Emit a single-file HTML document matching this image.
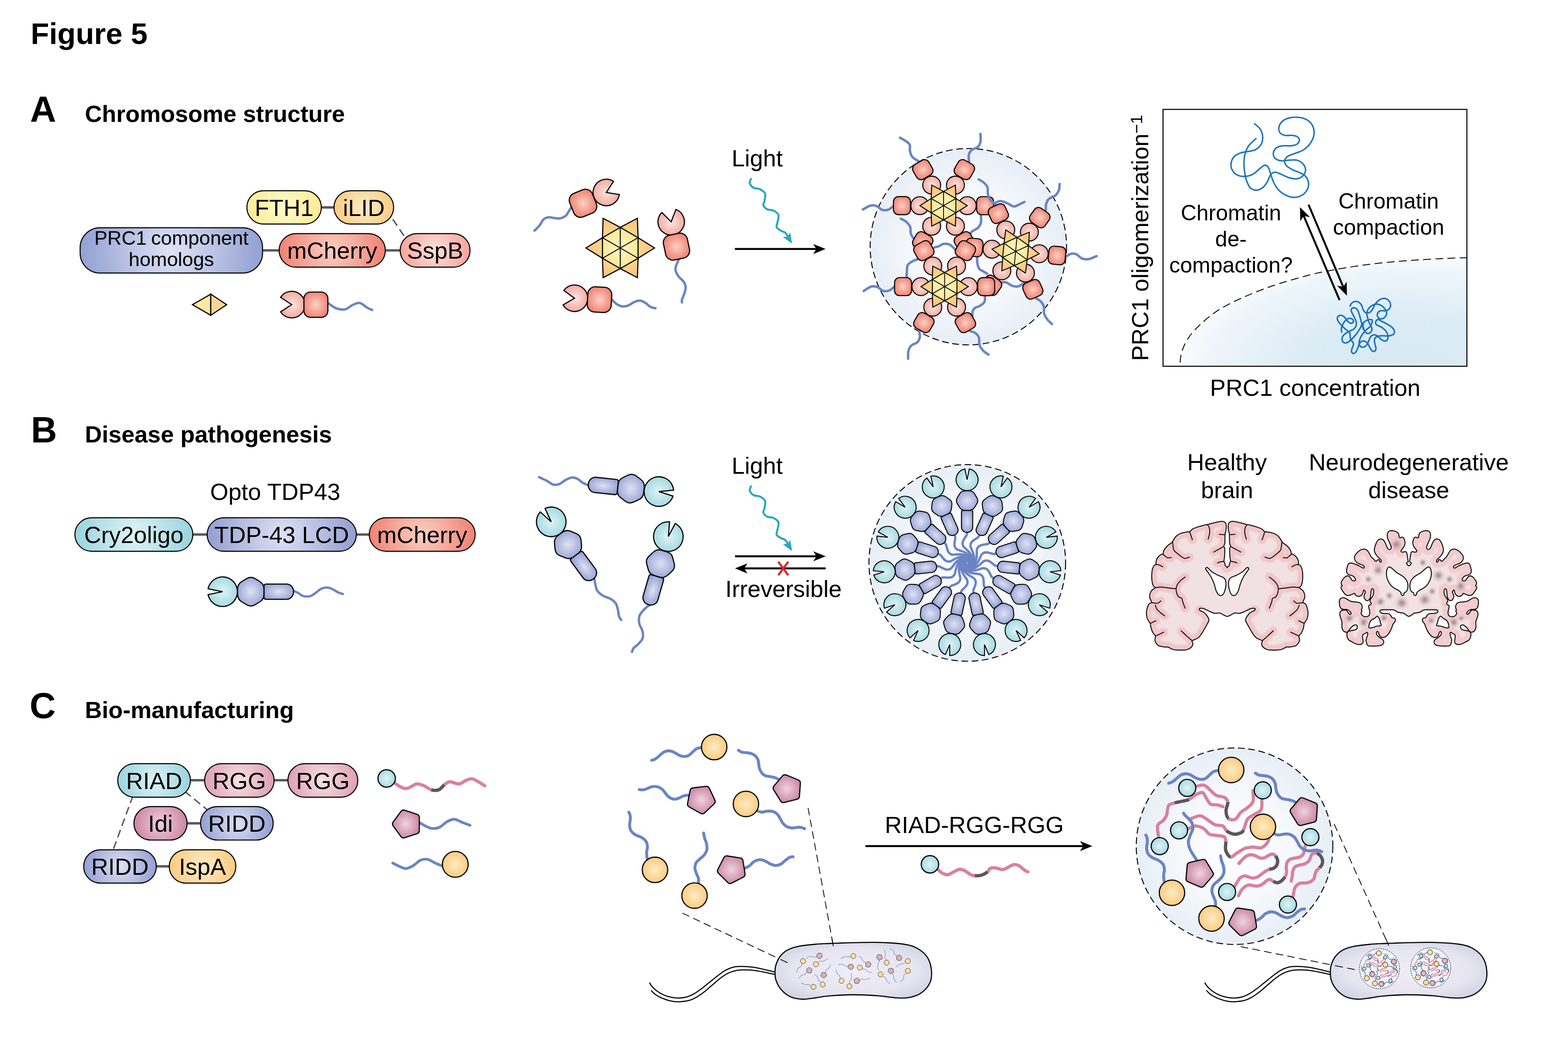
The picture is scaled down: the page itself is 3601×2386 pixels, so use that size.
<!DOCTYPE html>
<html lang="en"><head><meta charset="utf-8"><title>Figure 5</title>
<style>html,body{margin:0;padding:0;background:#fff;}body{width:3601px;height:2386px;}svg{display:block;}text{font-family:'Liberation Sans', Arial, Helvetica, sans-serif;fill:#000;}</style>
</head><body>
<svg width="3601" height="2386" viewBox="0 0 3601 2386" role="img" aria-label="Figure 5">
<defs><radialGradient id="gYel" cx="0.5" cy="0.5" r="0.62"><stop offset="0" stop-color="#fff8c4"/><stop offset="1" stop-color="#fde88f"/></radialGradient><radialGradient id="gOra" cx="0.5" cy="0.5" r="0.62"><stop offset="0" stop-color="#fdecc6"/><stop offset="1" stop-color="#f9c777"/></radialGradient><radialGradient id="gBlu" cx="0.5" cy="0.5" r="0.62"><stop offset="0" stop-color="#dde1f3"/><stop offset="1" stop-color="#8c9bd0"/></radialGradient><radialGradient id="gRed" cx="0.5" cy="0.5" r="0.62"><stop offset="0" stop-color="#fbcabd"/><stop offset="1" stop-color="#ee7a6b"/></radialGradient><radialGradient id="gPnk" cx="0.5" cy="0.5" r="0.62"><stop offset="0" stop-color="#fde0da"/><stop offset="1" stop-color="#f29f95"/></radialGradient><radialGradient id="gTea" cx="0.5" cy="0.5" r="0.62"><stop offset="0" stop-color="#def2f5"/><stop offset="1" stop-color="#94d2db"/></radialGradient><radialGradient id="gPer" cx="0.5" cy="0.5" r="0.62"><stop offset="0" stop-color="#dcdff3"/><stop offset="1" stop-color="#8e9ace"/></radialGradient><radialGradient id="gRgg" cx="0.5" cy="0.5" r="0.62"><stop offset="0" stop-color="#f6e0e6"/><stop offset="1" stop-color="#db9ab0"/></radialGradient><radialGradient id="gIdi" cx="0.5" cy="0.5" r="0.62"><stop offset="0" stop-color="#eecbd8"/><stop offset="1" stop-color="#c7809d"/></radialGradient><radialGradient id="gCon" cx="0.5" cy="0.5" r="0.5"><stop offset="0" stop-color="#ffffff"/><stop offset="0.55" stop-color="#f6f9fc"/><stop offset="1" stop-color="#e7eef6"/></radialGradient><radialGradient id="gBac" cx="0.5" cy="0.5" r="0.62"><stop offset="0" stop-color="#efeef6"/><stop offset="0.62" stop-color="#e7e6f0"/><stop offset="1" stop-color="#d0cfe2"/></radialGradient><radialGradient id="sRed" cx="0.5" cy="0.5" r="0.6"><stop offset="0" stop-color="#fcd0c4"/><stop offset="1" stop-color="#ee7b6c"/></radialGradient><radialGradient id="sPnk" cx="0.5" cy="0.5" r="0.6"><stop offset="0" stop-color="#fde4df"/><stop offset="1" stop-color="#f2a096"/></radialGradient><radialGradient id="sTea" cx="0.5" cy="0.5" r="0.6"><stop offset="0" stop-color="#e0f3f6"/><stop offset="1" stop-color="#9ad5dd"/></radialGradient><radialGradient id="sPer" cx="0.5" cy="0.5" r="0.6"><stop offset="0" stop-color="#dfe2f4"/><stop offset="1" stop-color="#929ed0"/></radialGradient><radialGradient id="sOra" cx="0.5" cy="0.5" r="0.6"><stop offset="0" stop-color="#fdebc4"/><stop offset="1" stop-color="#f9c675"/></radialGradient><radialGradient id="sMau" cx="0.5" cy="0.5" r="0.6"><stop offset="0" stop-color="#f0d3de"/><stop offset="1" stop-color="#c27b9a"/></radialGradient><radialGradient id="sYel" cx="0.5" cy="0.5" r="0.6"><stop offset="0" stop-color="#fff7c0"/><stop offset="1" stop-color="#fbe392"/></radialGradient><radialGradient id="sStar" cx="0.5" cy="0.5" r="0.52"><stop offset="0" stop-color="#fde6a4"/><stop offset="0.55" stop-color="#fbd48c"/><stop offset="1" stop-color="#f8c47a"/></radialGradient><radialGradient id="p1" gradientUnits="userSpaceOnUse" cx="652.5" cy="476.2" r="95.8"><stop offset="0" stop-color="#fffac8"/><stop offset="1" stop-color="#fde88e"/></radialGradient><radialGradient id="p2" gradientUnits="userSpaceOnUse" cx="835.5" cy="476.2" r="76.7"><stop offset="0" stop-color="#fdecc8"/><stop offset="1" stop-color="#f9c676"/></radialGradient><radialGradient id="p3" gradientUnits="userSpaceOnUse" cx="393.5" cy="575" r="234.6"><stop offset="0" stop-color="#dfe3f4"/><stop offset="1" stop-color="#8998cf"/></radialGradient><radialGradient id="p4" gradientUnits="userSpaceOnUse" cx="763" cy="575" r="136.6"><stop offset="0" stop-color="#fbd0c3"/><stop offset="1" stop-color="#ee7868"/></radialGradient><radialGradient id="p5" gradientUnits="userSpaceOnUse" cx="999.2" cy="575" r="89.9"><stop offset="0" stop-color="#fde2dc"/><stop offset="1" stop-color="#f29c92"/></radialGradient><radialGradient id="gPh" cx="3230" cy="1700" r="560" gradientUnits="userSpaceOnUse" gradientTransform="scale(1 0.5)"><stop offset="0" stop-color="#d7e9f3"/><stop offset="0.45" stop-color="#dcecf5"/><stop offset="0.8" stop-color="#edf5fa"/><stop offset="1" stop-color="#ffffff"/></radialGradient><linearGradient id="gPhT" x1="0" y1="0" x2="0" y2="1"><stop offset="0" stop-color="#fff" stop-opacity="0.9"/><stop offset="0.3" stop-color="#fff" stop-opacity="0"/></linearGradient><radialGradient id="p6" gradientUnits="userSpaceOnUse" cx="307.4" cy="1227.5" r="151.6"><stop offset="0" stop-color="#e0f3f6"/><stop offset="1" stop-color="#90d0da"/></radialGradient><radialGradient id="p7" gradientUnits="userSpaceOnUse" cx="647" cy="1227.5" r="191.9"><stop offset="0" stop-color="#dee1f4"/><stop offset="1" stop-color="#8a97cd"/></radialGradient><radialGradient id="p8" gradientUnits="userSpaceOnUse" cx="969.6" cy="1227.5" r="136.2"><stop offset="0" stop-color="#fbd0c3"/><stop offset="1" stop-color="#ee7868"/></radialGradient><clipPath id="cpH"><path d="M2818.2 1303.4C2817.8 1302.9 2816.6 1301.1 2815.9 1300.5C2815.3 1299.9 2814.3 1300.1 2813.9 1299.3C2813.5 1298.5 2813.8 1296.8 2813.4 1295.2C2812.9 1293.6 2811.2 1291.3 2811 1288.6C2810.9 1285.8 2812.1 1281.4 2812.3 1276.8C2812.6 1272.3 2812.9 1261.7 2812.6 1258.5C2812.2 1255.2 2810.2 1256.5 2810.2 1255C2810.2 1253.5 2812.4 1250.8 2812.9 1248.3C2813.3 1245.7 2813 1241.4 2813.1 1238.1C2813.2 1234.8 2813.1 1229.2 2813.5 1226.3C2813.8 1223.4 2815 1221.7 2815.4 1218.7C2815.8 1215.7 2816.4 1209.2 2816.1 1206.4C2815.9 1203.7 2814.8 1201.6 2813.9 1200.3C2812.9 1199 2811.3 1198.2 2809.8 1197.8C2808.3 1197.3 2806.1 1197.1 2803.7 1197.3C2801.2 1197.6 2796.5 1198.6 2793.5 1199.3C2790.4 1200 2786.3 1201 2783.3 1201.8C2780.2 1202.6 2775.7 1204 2773.1 1204.6C2770.5 1205.2 2769 1205.2 2765.9 1205.9C2762.9 1206.7 2756.6 1208.2 2752.7 1209.5C2748.7 1210.8 2742.4 1212.9 2739.4 1214.6C2736.3 1216.3 2734.4 1219.8 2732.2 1220.9C2730.1 1222 2728.2 1221.2 2725.1 1221.7C2722 1222.3 2715.5 1223.3 2711.8 1224.8C2708.2 1226.3 2703.4 1229.2 2700.6 1231.9C2697.8 1234.7 2694.5 1241.1 2693 1243.4C2691.4 1245.6 2692.2 1245.2 2690.4 1246.7C2688.6 1248.2 2683.8 1250.8 2681.2 1253.4C2678.6 1255.9 2674.6 1260.8 2673.1 1263.6C2671.5 1266.4 2671.8 1270.6 2671 1271.9C2670.3 1273.3 2669.5 1271.9 2668 1272.8C2666.4 1273.6 2662.7 1275.9 2660.8 1277.9C2659 1279.8 2656.7 1283.2 2655.7 1286C2654.7 1288.8 2654.9 1294.6 2654.2 1296.4C2653.4 1298.3 2651.8 1296.6 2650.6 1298.3C2649.5 1299.9 2647.4 1304.1 2646.5 1307.4C2645.7 1310.8 2645.2 1316.9 2645 1320.7C2644.8 1324.5 2645.1 1329.4 2645.5 1333C2646 1336.5 2647 1341.6 2648 1344.1C2649 1346.6 2653.1 1347.7 2652.5 1349.7C2651.8 1351.7 2645.4 1354.3 2643.5 1357.5C2641.7 1360.7 2640 1367.1 2640.2 1370.9C2640.4 1374.8 2645 1380.7 2644.6 1383.2C2644.3 1385.7 2639.7 1384.5 2638 1387.7C2636.2 1390.8 2633.5 1399.5 2633 1404.4C2632.5 1409.3 2633.4 1416 2634.6 1420C2635.8 1424 2640 1427.8 2641.3 1431.2C2642.6 1434.5 2642.5 1439 2643.5 1442.4C2644.5 1445.7 2646.5 1450.8 2648 1453.5C2649.5 1456.2 2652.9 1457.5 2653.6 1460.2C2654.2 1462.9 2651.5 1468 2652.5 1471.4C2653.5 1474.7 2656.8 1480.4 2660.3 1482.5C2663.8 1484.7 2672.6 1485.4 2675.9 1485.9C2679.2 1486.4 2679.9 1485 2682.6 1485.9C2685.3 1486.7 2689.4 1490.4 2693.8 1491.5C2698.1 1492.5 2706.6 1493 2711.6 1493C2716.6 1493 2723.4 1492.7 2727.2 1491.5C2731.1 1490.2 2735.5 1486.9 2737.3 1484.8C2739.1 1482.6 2739.4 1479 2739.5 1477C2739.6 1474.9 2736.1 1473.2 2738 1471.4C2739.8 1469.5 2748.4 1467.4 2751.8 1464.7C2755.2 1462 2758.1 1457.5 2760.7 1453.5C2763.4 1449.5 2767.3 1442.2 2769.7 1437.9C2772 1433.5 2775.9 1427.8 2776.4 1424.5C2776.9 1421.1 2774.7 1418.2 2773 1415.6C2771.3 1412.9 2767.7 1408.6 2765.2 1406.6C2762.7 1404.6 2757.9 1403.3 2756.3 1402.2C2754.6 1401 2754 1399.6 2754 1398.8C2754.1 1398.1 2755 1397.1 2756.7 1397C2758.4 1396.9 2761.9 1397 2765.2 1398.2C2768.5 1399.3 2774.9 1402.9 2778.6 1404.4C2782.3 1405.9 2786.4 1407.9 2789.8 1408.4C2793.1 1408.9 2797.6 1407 2800.9 1407.7C2804.3 1408.5 2809.5 1412.2 2812.1 1413.3C2814.7 1414.5 2816.5 1415.6 2818.4 1415.6C2820.3 1415.6 2822.1 1414.5 2824.7 1413.3C2827.3 1412.2 2832.5 1408.5 2835.9 1407.7C2839.2 1407 2843.7 1408.9 2847 1408.4C2850.4 1407.9 2854.5 1405.9 2858.2 1404.4C2861.9 1402.9 2868.3 1399.3 2871.6 1398.2C2874.9 1397 2878.4 1396.9 2880.1 1397C2881.8 1397.1 2882.7 1398.1 2882.8 1398.8C2882.8 1399.6 2882.2 1401 2880.5 1402.2C2878.9 1403.3 2874.1 1404.6 2871.6 1406.6C2869.1 1408.6 2865.5 1412.9 2863.8 1415.6C2862.1 1418.2 2859.9 1421.1 2860.4 1424.5C2860.9 1427.8 2864.8 1433.5 2867.1 1437.9C2869.5 1442.2 2873.4 1449.5 2876.1 1453.5C2878.7 1457.5 2881.6 1462 2885 1464.7C2888.4 1467.4 2897 1469.5 2898.8 1471.4C2900.7 1473.2 2897.2 1474.9 2897.3 1477C2897.4 1479 2897.7 1482.6 2899.5 1484.8C2901.3 1486.9 2905.7 1490.2 2909.6 1491.5C2913.4 1492.7 2920.2 1493 2925.2 1493C2930.2 1493 2938.7 1492.5 2943 1491.5C2947.4 1490.4 2951.5 1486.7 2954.2 1485.9C2956.9 1485 2957.6 1486.4 2960.9 1485.9C2964.2 1485.4 2973 1484.7 2976.5 1482.5C2980 1480.4 2983.3 1474.7 2984.3 1471.4C2985.3 1468 2982.6 1462.9 2983.2 1460.2C2983.9 1457.5 2987.3 1456.2 2988.8 1453.5C2990.3 1450.8 2992.3 1445.7 2993.3 1442.4C2994.3 1439 2994.2 1434.5 2995.5 1431.2C2996.8 1427.8 3001 1424 3002.2 1420C3003.4 1416 3004.3 1409.3 3003.8 1404.4C3003.3 1399.5 3000.6 1390.8 2998.8 1387.7C2997.1 1384.5 2992.5 1385.7 2992.2 1383.2C2991.8 1380.7 2996.4 1374.8 2996.6 1370.9C2996.8 1367.1 2995.1 1360.7 2993.3 1357.5C2991.4 1354.3 2985 1351.7 2984.3 1349.7C2983.7 1347.7 2987.8 1346.6 2988.8 1344.1C2989.8 1341.6 2990.8 1336.5 2991.3 1333C2991.7 1329.4 2992 1324.5 2991.8 1320.7C2991.6 1316.9 2991.1 1310.8 2990.3 1307.4C2989.4 1304.1 2987.3 1299.9 2986.2 1298.3C2985 1296.6 2983.4 1298.3 2982.6 1296.4C2981.9 1294.6 2982.1 1288.8 2981.1 1286C2980.1 1283.2 2977.8 1279.8 2976 1277.9C2974.1 1275.9 2970.4 1273.6 2968.8 1272.8C2967.3 1271.9 2966.5 1273.3 2965.8 1271.9C2965 1270.6 2965.3 1266.4 2963.7 1263.6C2962.2 1260.8 2958.2 1255.9 2955.6 1253.4C2953 1250.8 2948.2 1248.2 2946.4 1246.7C2944.6 1245.2 2945.4 1245.6 2943.8 1243.4C2942.3 1241.1 2939 1234.7 2936.2 1231.9C2933.4 1229.2 2928.6 1226.3 2925 1224.8C2921.3 1223.3 2914.8 1222.3 2911.7 1221.7C2908.6 1221.2 2906.7 1222 2904.6 1220.9C2902.4 1219.8 2900.5 1216.3 2897.4 1214.6C2894.4 1212.9 2888.1 1210.8 2884.1 1209.5C2880.2 1208.2 2873.9 1206.7 2870.9 1205.9C2867.8 1205.2 2866.3 1205.2 2863.7 1204.6C2861.1 1204 2856.6 1202.6 2853.5 1201.8C2850.5 1201 2846.4 1200 2843.3 1199.3C2840.3 1198.6 2835.6 1197.6 2833.1 1197.3C2830.7 1197.1 2828.5 1197.3 2827 1197.8C2825.5 1198.2 2823.9 1199 2822.9 1200.3C2822 1201.6 2820.9 1203.7 2820.7 1206.4C2820.4 1209.2 2821 1215.7 2821.4 1218.7C2821.8 1221.7 2823 1223.4 2823.3 1226.3C2823.7 1229.2 2823.6 1234.8 2823.7 1238.1C2823.8 1241.4 2823.5 1245.7 2823.9 1248.3C2824.4 1250.8 2826.6 1253.5 2826.6 1255C2826.6 1256.5 2824.6 1255.2 2824.2 1258.5C2823.9 1261.7 2824.2 1272.3 2824.5 1276.8C2824.7 1281.4 2825.9 1285.8 2825.8 1288.6C2825.6 1291.3 2823.9 1293.6 2823.4 1295.2C2823 1296.8 2823.3 1298.5 2822.9 1299.3C2822.5 1300.1 2821.5 1299.9 2820.9 1300.5C2820.2 1301.1 2819 1302.9 2818.6 1303.4C2818.2 1303.8 2818.6 1303.8 2818.2 1303.4Z"/></clipPath><filter id="fB" x="-5%" y="-5%" width="110%" height="110%"><feGaussianBlur stdDeviation="1.8"/></filter><clipPath id="cpS"><path d="M3235.6 1299.3C3234 1299.3 3230.1 1294.7 3229.8 1293.5C3229.6 1292.2 3233.4 1291.6 3233.8 1290.4C3234.3 1289.2 3233.4 1286.5 3233.2 1285C3233 1283.5 3232.9 1281.8 3232.5 1279.6C3232.1 1277.5 3231.3 1271.7 3230.7 1269.8C3230.1 1268 3229.3 1267 3228 1266.7C3226.8 1266.4 3223.2 1267.9 3221.8 1267.9C3220.3 1267.9 3218.2 1267.4 3217.8 1266.7C3217.3 1266 3217.8 1264.1 3218.7 1262.7C3219.5 1261.2 3222.4 1258.5 3223.6 1256.4C3224.7 1254.4 3226.4 1250.8 3226.7 1248.4C3226.9 1246 3225.9 1241.4 3225.4 1239.5C3224.8 1237.5 3223.6 1235.4 3222.7 1234.6C3221.8 1233.7 3220.1 1233.5 3219.1 1233.7C3218.1 1233.8 3216.4 1235.5 3215.5 1235.4C3214.7 1235.4 3213.8 1234.5 3213.3 1233.2C3212.8 1231.9 3212.8 1227.7 3212 1226.1C3211.1 1224.4 3209.3 1222.6 3207.5 1221.6C3205.7 1220.6 3201.6 1219.3 3199.5 1218.9C3197.3 1218.5 3194 1218.4 3192.3 1218.8C3190.7 1219.1 3188.8 1220.2 3187.9 1221.6C3186.9 1223 3186 1226.6 3185.9 1228.8C3185.8 1230.9 3186.3 1234.5 3187 1236.8C3187.6 1239.1 3189.5 1242.5 3190.5 1244.8C3191.5 1247.1 3193.5 1251 3194.1 1252.9C3194.7 1254.8 3195.3 1256.9 3195 1258.2C3194.7 1259.5 3193.2 1261.3 3192.3 1261.8C3191.4 1262.2 3189.8 1262.1 3188.8 1261.3C3187.7 1260.6 3186.1 1258.3 3185.2 1256.4C3184.2 1254.6 3183.1 1250.5 3182.1 1248.4C3181 1246.2 3179.2 1242.7 3178 1241.2C3176.8 1239.8 3175 1238.6 3173.6 1238.1C3172.2 1237.7 3169.7 1237.6 3168.2 1238.1C3166.8 1238.7 3164.5 1240.6 3163.3 1242.1C3162.1 1243.7 3160.6 1247.1 3159.7 1249.3C3158.8 1251.4 3157.6 1255.3 3157.1 1257.3C3156.5 1259.3 3156 1261.8 3156.2 1263.6C3156.3 1265.3 3157.1 1268.1 3157.9 1269.8C3158.8 1271.6 3160.7 1274.4 3162 1276.1C3163.2 1277.7 3165.6 1280.2 3166.9 1281.4C3168.1 1282.7 3170.1 1283.9 3170.9 1285C3171.7 1286.1 3172.3 1288.6 3172.2 1289.5C3172.2 1290.3 3171 1291.4 3170.4 1291.2C3169.9 1291.1 3168.7 1289.4 3168.2 1288.6C3167.7 1287.7 3167.4 1285.9 3166.9 1285.4C3166.3 1285 3164.9 1285.1 3164.2 1285.4C3163.5 1285.8 3162.7 1287.2 3162 1287.7C3161.3 1288.2 3160 1289.1 3159.3 1289C3158.6 1288.9 3157.9 1287.7 3157.1 1286.8C3156.2 1285.8 3154.2 1283.6 3153 1282.3C3151.8 1281.1 3149.7 1279.4 3148.6 1277.9C3147.4 1276.3 3146.1 1273.5 3145 1271.6C3143.9 1269.7 3141.9 1265.9 3140.5 1264.5C3139.1 1263 3136.7 1261.8 3135.2 1261.3C3133.7 1260.9 3131.5 1260.8 3129.8 1261.1C3128.2 1261.4 3125.3 1262.5 3123.6 1263.6C3121.8 1264.7 3119 1267.3 3117.3 1268.9C3115.7 1270.6 3112.9 1273.5 3112 1275.2C3111 1276.8 3110.6 1278.9 3110.6 1280.5C3110.6 1282.2 3111.1 1285.1 3112 1286.8C3112.8 1288.4 3114.9 1290.9 3116.4 1292.1C3117.9 1293.3 3120.9 1294.5 3122.7 1295.3C3124.4 1296 3127.5 1296.8 3128.9 1297.5C3130.3 1298.2 3131.9 1299.4 3132.5 1300.2C3133.1 1301 3133.2 1302.7 3132.9 1303.3C3132.7 1303.9 3131.5 1304.7 3130.7 1304.6C3129.9 1304.6 3128.4 1303.6 3127.1 1302.9C3125.9 1302.2 3123.6 1300.6 3121.8 1299.7C3120 1298.8 3116.7 1297.4 3114.6 1296.6C3112.6 1295.8 3109.4 1294.4 3107.5 1293.9C3105.6 1293.4 3102.8 1292.9 3101.2 1293C3099.7 1293.2 3097.7 1293.8 3096.8 1294.8C3095.8 1295.8 3095.1 1298.4 3094.6 1300.2C3094 1301.9 3093.1 1305.6 3092.8 1307.3C3092.5 1309.1 3092 1311.2 3092.3 1312.7C3092.6 1314.2 3093.9 1316.9 3095 1318C3096.1 1319.2 3098.8 1320.1 3100.4 1320.7C3101.9 1321.3 3104.3 1321.4 3105.7 1322.1C3107.1 1322.7 3109.2 1324.1 3110.2 1325.2C3111.2 1326.3 3112.5 1328.5 3112.9 1329.6C3113.2 1330.8 3113 1332.6 3112.4 1333.2C3111.8 1333.8 3109.5 1334.2 3108.4 1334.1C3107.3 1334 3105.7 1333.2 3104.8 1332.3C3103.9 1331.4 3103 1329.1 3102.1 1327.9C3101.3 1326.7 3099.7 1324.6 3098.6 1323.8C3097.4 1323.1 3095.5 1322.3 3094.1 1322.5C3092.7 1322.7 3090.3 1323.9 3088.8 1325.2C3087.2 1326.4 3084.6 1329.8 3083.4 1331.4C3082.2 1333.1 3080.6 1335.3 3080.3 1336.8C3079.9 1338.3 3080.4 1341 3080.7 1342.1C3081 1343.3 3082.6 1343.9 3082.5 1344.8C3082.4 1345.8 3079.9 1347.5 3079.7 1348.7C3079.5 1349.9 3080.3 1351.8 3081.1 1353.3C3081.9 1354.9 3084.1 1358.2 3085.3 1359.8C3086.4 1361.4 3088 1363.8 3089.4 1364.9C3090.8 1366 3093.3 1367.5 3095 1367.7C3096.7 1367.9 3099.7 1366.8 3101.4 1366.3C3103.2 1365.8 3105.7 1364.5 3107 1364C3108.3 1363.4 3109.9 1362.3 3110.7 1362.6C3111.5 1362.8 3111.8 1365 3112.5 1365.8C3113.3 1366.7 3114.9 1368.1 3116.2 1368.6C3117.6 1369.1 3120.4 1369.7 3121.8 1369.5C3123.2 1369.3 3125.3 1368.2 3126.4 1367.2C3127.5 1366.2 3129 1363.9 3129.7 1362.6C3130.3 1361.3 3130.7 1359 3131 1357.9C3131.4 1356.9 3131.4 1355.3 3131.8 1355C3132.2 1354.7 3133.3 1355.5 3133.8 1356.1C3134.4 1356.7 3135.6 1358.3 3135.7 1359.3C3135.7 1360.4 3134.7 1362.1 3134.3 1363.5C3133.8 1364.9 3132.5 1367.5 3132.4 1369C3132.4 1370.6 3133.1 1373.2 3133.8 1374.6C3134.5 1376 3136.5 1378.1 3137.5 1378.8C3138.6 1379.4 3140.2 1379.6 3141.2 1379.2C3142.3 1378.9 3144.1 1377.6 3144.9 1376.4C3145.8 1375.3 3146.8 1372.7 3147.2 1370.9C3147.7 1369.1 3147.9 1365.5 3148.2 1363.5C3148.4 1361.5 3148.5 1358.5 3148.8 1357C3149.1 1355.5 3149.9 1353.5 3150.5 1352.9C3151 1352.2 3152.2 1351.9 3152.8 1352.2C3153.4 1352.5 3154.4 1353.8 3154.6 1355.2C3154.9 1356.5 3154.8 1359.9 3154.6 1361.6C3154.4 1363.4 3153.8 1365.8 3153.2 1367.2C3152.7 1368.6 3151.3 1370.5 3150.5 1371.8C3149.6 1373.1 3147.8 1375.1 3147.2 1376.4C3146.6 1377.8 3146.2 1380 3146.3 1381.1C3146.4 1382.1 3147.8 1383.1 3148.2 1383.8C3148.6 1384.6 3149.3 1385.9 3149.1 1386.6C3148.9 1387.3 3147.5 1388.5 3146.8 1388.9C3146.1 1389.4 3144.5 1389.3 3144 1389.9C3143.5 1390.5 3143.1 1392 3143.1 1393.1C3143.1 1394.2 3143.7 1396.3 3144 1397.7C3144.3 1399.2 3145.2 1401.6 3145.4 1403.3C3145.6 1405 3145.7 1408.2 3145.4 1409.7C3145.1 1411.3 3144.1 1413.5 3143.1 1414.4C3142.1 1415.3 3139.9 1416 3138.4 1416.2C3137 1416.4 3134.3 1416.2 3132.9 1415.8C3131.5 1415.3 3129.3 1414 3128.3 1413C3127.3 1412 3126.2 1409.8 3126 1408.8C3125.7 1407.8 3126.2 1406.8 3126.4 1406C3126.7 1405.3 3127.8 1404.1 3127.8 1403.3C3127.8 1402.5 3126.4 1401.4 3126.4 1400.5C3126.4 1399.6 3127.5 1398.4 3127.8 1397.3C3128.1 1396.1 3128.5 1393.7 3128.3 1392.2C3128 1390.7 3126.9 1387.8 3126 1386.6C3125 1385.4 3123.2 1384.4 3121.8 1383.8C3120.4 1383.3 3118.1 1383 3116.2 1382.7C3114.4 1382.5 3110.9 1382.3 3108.8 1382C3106.8 1381.7 3103.4 1381.3 3101.4 1380.6C3099.5 1379.9 3096.7 1377.9 3095 1376.9C3093.3 1375.9 3091 1374.3 3089.4 1373.7C3087.9 1373.1 3085.4 1372.6 3083.9 1372.7C3082.4 1372.9 3079.9 1373.7 3078.8 1374.6C3077.7 1375.5 3076.4 1377.8 3076 1379.2C3075.6 1380.7 3075.9 1382.9 3076 1384.8C3076.1 1386.6 3076.3 1390.3 3076.9 1392.2C3077.5 1394 3078.9 1396.7 3080.2 1397.7C3081.4 1398.8 3084 1399.3 3085.7 1399.6C3087.4 1399.8 3090.5 1399.2 3092.2 1399.6C3093.9 1399.9 3096.4 1401 3097.7 1401.9C3099.1 1402.8 3101.2 1405.1 3101.9 1406C3102.6 1407 3103 1408.2 3102.8 1408.8C3102.7 1409.5 3101.6 1410.5 3101 1410.7C3100.3 1410.8 3099.1 1410.5 3098.2 1409.7C3097.4 1409 3095.8 1406.3 3095 1405.1C3094.1 1403.9 3093.2 1402 3092.2 1401.4C3091.2 1400.8 3089 1400.9 3087.6 1401C3086.1 1401 3083.4 1401 3082 1401.6C3080.6 1402.2 3078.6 1403.8 3077.9 1405.1C3077.1 1406.4 3076.9 1409 3076.9 1410.7C3077 1412.4 3077.8 1415.3 3078.3 1417.1C3078.8 1419 3080.1 1421.8 3080.6 1423.6C3081.2 1425.5 3081.9 1428.1 3082 1430.1C3082.2 1432.1 3081.5 1435.5 3081.6 1437.5C3081.6 1439.5 3081.9 1442.3 3082.5 1444C3083.1 1445.7 3084.5 1448.4 3085.7 1449.5C3087 1450.6 3090 1451.6 3091.3 1451.8C3092.5 1452.1 3094.2 1450.8 3094.5 1451.4C3094.8 1452 3093.2 1454.3 3093.1 1456C3093.1 1457.7 3093.4 1461.4 3094 1463.4C3094.7 1465.4 3096.3 1468.4 3097.7 1469.9C3099.2 1471.3 3102.4 1472.5 3104.2 1473.6C3106.1 1474.6 3108.9 1476.4 3110.7 1477.3C3112.5 1478.1 3115.3 1479.2 3117.2 1479.6C3119 1480 3122.1 1480.2 3123.6 1480C3125.2 1479.9 3127.3 1479.1 3128.3 1478.2C3129.3 1477.3 3130.4 1475.1 3130.6 1473.6C3130.8 1472 3129.9 1468.9 3129.7 1467.1C3129.5 1465.3 3129.1 1462.1 3129.2 1460.6C3129.3 1459.2 3129.8 1457.7 3130.6 1456.9C3131.4 1456.1 3133.6 1455.7 3134.7 1455.1C3135.9 1454.4 3137.6 1452.6 3138.4 1452.3C3139.3 1452 3140.4 1452.4 3140.8 1453.2C3141.1 1454 3141 1456.3 3140.8 1457.8C3140.5 1459.4 3139.4 1462.6 3138.9 1464.3C3138.4 1466 3137.2 1468.4 3137.1 1469.9C3136.9 1471.3 3137.7 1473.1 3138 1474.5C3138.3 1475.9 3138.7 1478.8 3139.4 1480C3140.1 1481.3 3141.6 1482.8 3143.1 1483.3C3144.5 1483.8 3147.3 1483.7 3149.5 1483.7C3151.8 1483.8 3156.2 1483.7 3158.8 1483.6C3161.4 1483.4 3165.8 1483.3 3168 1482.8C3170.3 1482.4 3173.1 1481.6 3174.5 1480.5C3175.9 1479.5 3177.5 1476.9 3177.8 1475.4C3178 1473.9 3177.2 1471.2 3176.4 1469.9C3175.5 1468.6 3173.2 1467.2 3171.7 1466.2C3170.3 1465.1 3167.6 1463.7 3166.2 1462.5C3164.8 1461.3 3162.8 1459.2 3162 1457.8C3161.3 1456.5 3161 1454.3 3161.1 1453.2C3161.2 1452.2 3161.9 1450.7 3162.5 1450.4C3163.1 1450.2 3164.7 1450.6 3165.3 1451.4C3165.9 1452.2 3166.1 1454.7 3166.7 1456C3167.2 1457.3 3168.1 1459.6 3169 1460.6C3169.8 1461.7 3171.5 1462.9 3172.7 1463.4C3173.9 1463.9 3175.9 1464.1 3177.3 1463.9C3178.7 1463.6 3181.3 1462.7 3182.8 1461.5C3184.4 1460.4 3187 1457.8 3188.4 1456C3189.8 1454.2 3191.8 1450.8 3193 1448.6C3194.2 1446.4 3195.8 1442.5 3196.7 1440.3C3197.6 1438 3198.6 1434.6 3199.5 1432.9C3200.4 1431.2 3202.5 1429.4 3203.2 1428.2C3203.9 1427.1 3204.6 1425.7 3204.6 1424.5C3204.6 1423.4 3203.9 1420.7 3203.2 1419.9C3202.5 1419.1 3200.4 1419.3 3199.5 1419C3198.6 1418.7 3197.5 1418.9 3196.7 1418.1C3195.9 1417.3 3194.9 1414.6 3193.9 1413.4C3193 1412.3 3191.4 1410.4 3190.2 1409.7C3189.1 1409.1 3187.2 1409 3185.6 1408.8C3184.1 1408.7 3181 1409 3179.1 1408.8C3177.3 1408.7 3174 1408.4 3172.7 1407.9C3171.3 1407.4 3169.9 1406 3169.4 1405.1C3169 1404.3 3169 1402.5 3169.4 1401.9C3169.9 1401.2 3171 1400.7 3172.7 1400.5C3174.3 1400.3 3178.5 1400.3 3181 1400.3C3183.5 1400.3 3187.6 1400.3 3190.2 1400.3C3192.9 1400.3 3197.5 1400.1 3199.5 1400.3C3201.5 1400.5 3202.8 1401.2 3204.1 1401.9C3205.4 1402.6 3207.2 1404.4 3208.7 1405.1C3210.3 1405.8 3213.3 1406.6 3215.2 1407C3217.2 1407.4 3220.9 1407.4 3222.6 1407.9C3224.3 1408.4 3225.9 1409.8 3227.2 1410.7C3228.6 1411.5 3230.7 1413.2 3231.9 1413.9C3233.1 1414.6 3234.5 1415.6 3235.6 1415.6C3236.7 1415.6 3238.1 1414.6 3239.3 1413.9C3240.5 1413.2 3242.6 1411.5 3244 1410.7C3245.3 1409.8 3246.9 1408.4 3248.6 1407.9C3250.3 1407.4 3254 1407.4 3256 1407C3257.9 1406.6 3260.9 1405.8 3262.5 1405.1C3264 1404.4 3265.8 1402.6 3267.1 1401.9C3268.4 1401.2 3269.7 1400.5 3271.7 1400.3C3273.7 1400.1 3278.3 1400.3 3281 1400.3C3283.6 1400.3 3287.7 1400.3 3290.2 1400.3C3292.7 1400.3 3296.9 1400.3 3298.5 1400.5C3300.2 1400.7 3301.3 1401.2 3301.8 1401.9C3302.2 1402.5 3302.2 1404.3 3301.8 1405.1C3301.3 1406 3299.9 1407.4 3298.5 1407.9C3297.2 1408.4 3293.9 1408.7 3292.1 1408.8C3290.2 1409 3287.1 1408.7 3285.6 1408.8C3284 1409 3282.1 1409.1 3281 1409.7C3279.8 1410.4 3278.2 1412.3 3277.3 1413.4C3276.3 1414.6 3275.3 1417.3 3274.5 1418.1C3273.7 1418.9 3272.6 1418.7 3271.7 1419C3270.8 1419.3 3268.7 1419.1 3268 1419.9C3267.3 1420.7 3266.6 1423.4 3266.6 1424.5C3266.6 1425.7 3267.3 1427.1 3268 1428.2C3268.7 1429.4 3270.8 1431.2 3271.7 1432.9C3272.6 1434.6 3273.6 1438 3274.5 1440.3C3275.4 1442.5 3277 1446.4 3278.2 1448.6C3279.4 1450.8 3281.4 1454.2 3282.8 1456C3284.2 1457.8 3286.8 1460.4 3288.4 1461.5C3289.9 1462.7 3292.5 1463.6 3293.9 1463.9C3295.3 1464.1 3297.3 1463.9 3298.5 1463.4C3299.7 1462.9 3301.4 1461.7 3302.2 1460.6C3303.1 1459.6 3304 1457.3 3304.5 1456C3305.1 1454.7 3305.3 1452.2 3305.9 1451.4C3306.5 1450.6 3308.1 1450.2 3308.7 1450.4C3309.3 1450.7 3310 1452.2 3310.1 1453.2C3310.2 1454.3 3309.9 1456.5 3309.2 1457.8C3308.4 1459.2 3306.4 1461.3 3305 1462.5C3303.6 1463.7 3300.9 1465.1 3299.5 1466.2C3298 1467.2 3295.7 1468.6 3294.8 1469.9C3294 1471.2 3293.2 1473.9 3293.4 1475.4C3293.7 1476.9 3295.3 1479.5 3296.7 1480.5C3298.1 1481.6 3300.9 1482.4 3303.2 1482.8C3305.4 1483.3 3309.8 1483.4 3312.4 1483.6C3315 1483.7 3319.4 1483.8 3321.7 1483.7C3323.9 1483.7 3326.7 1483.8 3328.1 1483.3C3329.6 1482.8 3331.1 1481.3 3331.8 1480C3332.5 1478.8 3332.9 1475.9 3333.2 1474.5C3333.5 1473.1 3334.3 1471.3 3334.1 1469.9C3334 1468.4 3332.8 1466 3332.3 1464.3C3331.8 1462.6 3330.7 1459.4 3330.4 1457.8C3330.2 1456.3 3330.1 1454 3330.4 1453.2C3330.8 1452.4 3331.9 1452 3332.8 1452.3C3333.6 1452.6 3335.3 1454.4 3336.5 1455.1C3337.6 1455.7 3339.8 1456.1 3340.6 1456.9C3341.4 1457.7 3341.9 1459.2 3342 1460.6C3342.1 1462.1 3341.7 1465.3 3341.5 1467.1C3341.3 1468.9 3340.4 1472 3340.6 1473.6C3340.8 1475.1 3341.9 1477.3 3342.9 1478.2C3343.9 1479.1 3346 1479.9 3347.6 1480C3349.1 1480.2 3352.2 1480 3354 1479.6C3355.9 1479.2 3358.7 1478.1 3360.5 1477.3C3362.3 1476.4 3365.1 1474.6 3367 1473.6C3368.8 1472.5 3372 1471.3 3373.5 1469.9C3374.9 1468.4 3376.5 1465.4 3377.2 1463.4C3377.8 1461.4 3378.1 1457.7 3378.1 1456C3378 1454.3 3376.4 1452 3376.7 1451.4C3377 1450.8 3378.7 1452.1 3379.9 1451.8C3381.2 1451.6 3384.2 1450.6 3385.5 1449.5C3386.7 1448.4 3388.1 1445.7 3388.7 1444C3389.3 1442.3 3389.6 1439.5 3389.6 1437.5C3389.7 1435.5 3389 1432.1 3389.2 1430.1C3389.3 1428.1 3390 1425.5 3390.6 1423.6C3391.1 1421.8 3392.4 1419 3392.9 1417.1C3393.4 1415.3 3394.2 1412.4 3394.3 1410.7C3394.3 1409 3394.1 1406.4 3393.3 1405.1C3392.6 1403.8 3390.6 1402.2 3389.2 1401.6C3387.8 1401 3385.1 1401 3383.6 1401C3382.2 1400.9 3380 1400.8 3379 1401.4C3378 1402 3377.1 1403.9 3376.2 1405.1C3375.4 1406.3 3373.8 1409 3373 1409.7C3372.1 1410.5 3370.9 1410.8 3370.2 1410.7C3369.6 1410.5 3368.5 1409.5 3368.4 1408.8C3368.2 1408.2 3368.6 1407 3369.3 1406C3370 1405.1 3372.1 1402.8 3373.5 1401.9C3374.8 1401 3377.3 1399.9 3379 1399.6C3380.7 1399.2 3383.8 1399.8 3385.5 1399.6C3387.2 1399.3 3389.8 1398.8 3391 1397.7C3392.3 1396.7 3393.7 1394 3394.3 1392.2C3394.9 1390.3 3395.1 1386.6 3395.2 1384.8C3395.3 1382.9 3395.6 1380.7 3395.2 1379.2C3394.8 1377.8 3393.5 1375.5 3392.4 1374.6C3391.3 1373.7 3388.8 1372.9 3387.3 1372.7C3385.8 1372.6 3383.3 1373.1 3381.8 1373.7C3380.2 1374.3 3377.9 1375.9 3376.2 1376.9C3374.5 1377.9 3371.7 1379.9 3369.8 1380.6C3367.8 1381.3 3364.4 1381.7 3362.4 1382C3360.3 1382.3 3356.8 1382.5 3355 1382.7C3353.1 1383 3350.8 1383.3 3349.4 1383.8C3348 1384.4 3346.2 1385.4 3345.2 1386.6C3344.3 1387.8 3343.2 1390.7 3342.9 1392.2C3342.7 1393.7 3343.1 1396.1 3343.4 1397.3C3343.7 1398.4 3344.8 1399.6 3344.8 1400.5C3344.8 1401.4 3343.4 1402.5 3343.4 1403.3C3343.4 1404.1 3344.5 1405.3 3344.8 1406C3345 1406.8 3345.5 1407.8 3345.2 1408.8C3345 1409.8 3343.9 1412 3342.9 1413C3341.9 1414 3339.7 1415.3 3338.3 1415.8C3336.9 1416.2 3334.2 1416.4 3332.8 1416.2C3331.3 1416 3329.1 1415.3 3328.1 1414.4C3327.1 1413.5 3326.1 1411.3 3325.8 1409.7C3325.5 1408.2 3325.6 1405 3325.8 1403.3C3326 1401.6 3326.9 1399.2 3327.2 1397.7C3327.5 1396.3 3328.1 1394.2 3328.1 1393.1C3328.1 1392 3327.7 1390.5 3327.2 1389.9C3326.7 1389.3 3325.1 1389.4 3324.4 1388.9C3323.7 1388.5 3322.3 1387.3 3322.1 1386.6C3321.9 1385.9 3322.6 1384.6 3323 1383.8C3323.4 1383.1 3324.8 1382.1 3324.9 1381.1C3325 1380 3324.6 1377.8 3324 1376.4C3323.4 1375.1 3321.6 1373.1 3320.7 1371.8C3319.9 1370.5 3318.5 1368.6 3318 1367.2C3317.4 1365.8 3316.8 1363.4 3316.6 1361.6C3316.4 1359.9 3316.3 1356.5 3316.6 1355.2C3316.8 1353.8 3317.8 1352.5 3318.4 1352.2C3319 1351.9 3320.2 1352.2 3320.7 1352.9C3321.3 1353.5 3322.1 1355.5 3322.4 1357C3322.7 1358.5 3322.8 1361.5 3323 1363.5C3323.3 1365.5 3323.5 1369.1 3324 1370.9C3324.4 1372.7 3325.4 1375.3 3326.3 1376.4C3327.1 1377.6 3328.9 1378.9 3330 1379.2C3331 1379.6 3332.6 1379.4 3333.7 1378.8C3334.7 1378.1 3336.7 1376 3337.4 1374.6C3338.1 1373.2 3338.8 1370.6 3338.8 1369C3338.7 1367.5 3337.4 1364.9 3336.9 1363.5C3336.5 1362.1 3335.5 1360.4 3335.5 1359.3C3335.6 1358.3 3336.8 1356.7 3337.4 1356.1C3337.9 1355.5 3339 1354.7 3339.4 1355C3339.8 1355.3 3339.8 1356.9 3340.2 1357.9C3340.5 1359 3340.9 1361.3 3341.5 1362.6C3342.2 1363.9 3343.7 1366.2 3344.8 1367.2C3345.9 1368.2 3348 1369.3 3349.4 1369.5C3350.8 1369.7 3353.6 1369.1 3355 1368.6C3356.3 1368.1 3357.9 1366.7 3358.7 1365.8C3359.4 1365 3359.7 1362.8 3360.5 1362.6C3361.3 1362.3 3362.9 1363.4 3364.2 1364C3365.5 1364.5 3368 1365.8 3369.8 1366.3C3371.5 1366.8 3374.5 1367.9 3376.2 1367.7C3377.9 1367.5 3380.4 1366 3381.8 1364.9C3383.2 1363.8 3384.8 1361.4 3385.9 1359.8C3387.1 1358.2 3389.3 1354.9 3390.1 1353.3C3390.9 1351.8 3391.7 1349.9 3391.5 1348.7C3391.3 1347.5 3388.8 1345.8 3388.7 1344.8C3388.6 1343.9 3390.2 1343.3 3390.5 1342.1C3390.8 1341 3391.3 1338.3 3390.9 1336.8C3390.6 1335.3 3389 1333.1 3387.8 1331.4C3386.6 1329.8 3384 1326.4 3382.4 1325.2C3380.9 1323.9 3378.5 1322.7 3377.1 1322.5C3375.7 1322.3 3373.8 1323.1 3372.6 1323.8C3371.5 1324.6 3369.9 1326.7 3369.1 1327.9C3368.2 1329.1 3367.3 1331.4 3366.4 1332.3C3365.5 1333.2 3363.9 1334 3362.8 1334.1C3361.7 1334.2 3359.4 1333.8 3358.8 1333.2C3358.2 1332.6 3358 1330.8 3358.3 1329.6C3358.7 1328.5 3360 1326.3 3361 1325.2C3362 1324.1 3364.1 1322.7 3365.5 1322.1C3366.9 1321.4 3369.3 1321.3 3370.8 1320.7C3372.4 1320.1 3375.1 1319.2 3376.2 1318C3377.3 1316.9 3378.6 1314.2 3378.9 1312.7C3379.2 1311.2 3378.7 1309.1 3378.4 1307.3C3378.1 1305.6 3377.2 1301.9 3376.6 1300.2C3376.1 1298.4 3375.4 1295.8 3374.4 1294.8C3373.5 1293.8 3371.5 1293.2 3369.9 1293C3368.4 1292.9 3365.6 1293.4 3363.7 1293.9C3361.8 1294.4 3358.6 1295.8 3356.6 1296.6C3354.5 1297.4 3351.2 1298.8 3349.4 1299.7C3347.6 1300.6 3345.3 1302.2 3344.1 1302.9C3342.8 1303.6 3341.3 1304.6 3340.5 1304.6C3339.7 1304.7 3338.5 1303.9 3338.3 1303.3C3338 1302.7 3338.1 1301 3338.7 1300.2C3339.3 1299.4 3340.9 1298.2 3342.3 1297.5C3343.7 1296.8 3346.8 1296 3348.5 1295.3C3350.3 1294.5 3353.3 1293.3 3354.8 1292.1C3356.3 1290.9 3358.4 1288.4 3359.2 1286.8C3360.1 1285.1 3360.6 1282.2 3360.6 1280.5C3360.6 1278.9 3360.2 1276.8 3359.2 1275.2C3358.3 1273.5 3355.5 1270.6 3353.9 1268.9C3352.2 1267.3 3349.4 1264.7 3347.6 1263.6C3345.9 1262.5 3343 1261.4 3341.4 1261.1C3339.7 1260.8 3337.5 1260.9 3336 1261.3C3334.5 1261.8 3332.1 1263 3330.7 1264.5C3329.3 1265.9 3327.3 1269.7 3326.2 1271.6C3325.1 1273.5 3323.8 1276.3 3322.6 1277.9C3321.5 1279.4 3319.4 1281.1 3318.2 1282.3C3317 1283.6 3315 1285.8 3314.1 1286.8C3313.3 1287.7 3312.6 1288.9 3311.9 1289C3311.2 1289.1 3309.9 1288.2 3309.2 1287.7C3308.5 1287.2 3307.7 1285.8 3307 1285.4C3306.3 1285.1 3304.9 1285 3304.3 1285.4C3303.8 1285.9 3303.5 1287.7 3303 1288.6C3302.5 1289.4 3301.3 1291.1 3300.8 1291.2C3300.2 1291.4 3299 1290.3 3299 1289.5C3298.9 1288.6 3299.5 1286.1 3300.3 1285C3301.1 1283.9 3303.1 1282.7 3304.3 1281.4C3305.6 1280.2 3308 1277.7 3309.2 1276.1C3310.5 1274.4 3312.4 1271.6 3313.3 1269.8C3314.1 1268.1 3314.9 1265.3 3315 1263.6C3315.2 1261.8 3314.7 1259.3 3314.1 1257.3C3313.6 1255.3 3312.4 1251.4 3311.5 1249.3C3310.6 1247.1 3309.1 1243.7 3307.9 1242.1C3306.7 1240.6 3304.4 1238.7 3303 1238.1C3301.5 1237.6 3299 1237.7 3297.6 1238.1C3296.2 1238.6 3294.4 1239.8 3293.2 1241.2C3292 1242.7 3290.2 1246.2 3289.1 1248.4C3288.1 1250.5 3287 1254.6 3286 1256.4C3285.1 1258.3 3283.5 1260.6 3282.4 1261.3C3281.4 1262.1 3279.8 1262.2 3278.9 1261.8C3278 1261.3 3276.5 1259.5 3276.2 1258.2C3275.9 1256.9 3276.5 1254.8 3277.1 1252.9C3277.7 1251 3279.7 1247.1 3280.7 1244.8C3281.7 1242.5 3283.6 1239.1 3284.2 1236.8C3284.9 1234.5 3285.4 1230.9 3285.3 1228.8C3285.2 1226.6 3284.3 1223 3283.3 1221.6C3282.4 1220.2 3280.5 1219.1 3278.9 1218.8C3277.2 1218.4 3273.9 1218.5 3271.7 1218.9C3269.6 1219.3 3265.5 1220.6 3263.7 1221.6C3261.9 1222.6 3260.1 1224.4 3259.2 1226.1C3258.4 1227.7 3258.4 1231.9 3257.9 1233.2C3257.4 1234.5 3256.5 1235.4 3255.7 1235.4C3254.8 1235.5 3253.1 1233.8 3252.1 1233.7C3251.1 1233.5 3249.4 1233.7 3248.5 1234.6C3247.6 1235.4 3246.4 1237.5 3245.8 1239.5C3245.3 1241.4 3244.3 1246 3244.5 1248.4C3244.8 1250.8 3246.5 1254.4 3247.6 1256.4C3248.8 1258.5 3251.7 1261.2 3252.5 1262.7C3253.4 1264.1 3253.9 1266 3253.4 1266.7C3253 1267.4 3250.9 1267.9 3249.4 1267.9C3248 1267.9 3244.4 1266.4 3243.2 1266.7C3241.9 1267 3241.1 1268 3240.5 1269.8C3239.9 1271.7 3239.1 1277.5 3238.7 1279.6C3238.3 1281.8 3238.2 1283.5 3238 1285C3237.8 1286.5 3236.9 1289.2 3237.4 1290.4C3237.8 1291.6 3241.6 1292.2 3241.4 1293.5C3241.1 1294.7 3237.3 1299.3 3235.6 1299.3Z"/></clipPath><radialGradient id="gSpot"><stop offset="0" stop-color="#8d737b" stop-opacity="0.8"/><stop offset="0.3" stop-color="#9a8189" stop-opacity="0.6"/><stop offset="0.65" stop-color="#b09a9f" stop-opacity="0.22"/><stop offset="1" stop-color="#b9a3a8" stop-opacity="0"/></radialGradient><radialGradient id="p9" gradientUnits="userSpaceOnUse" cx="353.9" cy="1792.2" r="93.5"><stop offset="0" stop-color="#e0f3f6"/><stop offset="1" stop-color="#90d0da"/></radialGradient><radialGradient id="p10" gradientUnits="userSpaceOnUse" cx="549.6" cy="1792.2" r="89.4"><stop offset="0" stop-color="#f7e3e8"/><stop offset="1" stop-color="#da96ad"/></radialGradient><radialGradient id="p11" gradientUnits="userSpaceOnUse" cx="741.5" cy="1792.2" r="89.9"><stop offset="0" stop-color="#f7e3e8"/><stop offset="1" stop-color="#da96ad"/></radialGradient><radialGradient id="p12" gradientUnits="userSpaceOnUse" cx="368.6" cy="1890.7" r="69.2"><stop offset="0" stop-color="#efcfda"/><stop offset="1" stop-color="#c57c9a"/></radialGradient><radialGradient id="p13" gradientUnits="userSpaceOnUse" cx="544" cy="1890.7" r="93.5"><stop offset="0" stop-color="#dee1f4"/><stop offset="1" stop-color="#8a97cd"/></radialGradient><radialGradient id="p14" gradientUnits="userSpaceOnUse" cx="275.6" cy="1989.8" r="93.5"><stop offset="0" stop-color="#dee1f4"/><stop offset="1" stop-color="#8a97cd"/></radialGradient><radialGradient id="p15" gradientUnits="userSpaceOnUse" cx="465.1" cy="1989.8" r="85.6"><stop offset="0" stop-color="#fdecc8"/><stop offset="1" stop-color="#f9c676"/></radialGradient></defs>
<rect width="3601" height="2386" fill="#fff"/>
<text x="70.5" y="100.5" font-size="69" text-anchor="start" font-weight="bold">Figure 5</text>
<text x="69" y="279.5" font-size="83" text-anchor="start" font-weight="bold">A</text>
<text x="195" y="279.5" font-size="54" text-anchor="start" font-weight="bold">Chromosome structure</text>
<text x="71" y="1015.5" font-size="83" text-anchor="start" font-weight="bold">B</text>
<text x="195" y="1015.5" font-size="54" text-anchor="start" font-weight="bold">Disease pathogenesis</text>
<text x="68" y="1648.5" font-size="83" text-anchor="start" font-weight="bold">C</text>
<text x="195" y="1648.5" font-size="54" text-anchor="start" font-weight="bold">Bio-manufacturing</text>
<line x1="738" y1="476.3" x2="767" y2="476.3" stroke="#58595b" stroke-width="5.6" stroke-linecap="butt"/>
<line x1="603" y1="575" x2="641" y2="575" stroke="#58595b" stroke-width="5.6" stroke-linecap="butt"/>
<line x1="885" y1="575" x2="919" y2="575" stroke="#58595b" stroke-width="5.6" stroke-linecap="butt"/>
<line x1="902" y1="503.5" x2="928" y2="542" stroke="#58595b" stroke-width="3.3" stroke-dasharray="18 10" stroke-linecap="butt"/>
<rect x="567" y="438" width="171" height="76.5" rx="38.2" fill="url(#p1)" stroke="#000" stroke-width="2.4"/>
<text x="652.5" y="495.6" font-size="54" text-anchor="middle">FTH1</text>
<rect x="767" y="438" width="137" height="76.5" rx="38.2" fill="url(#p2)" stroke="#000" stroke-width="2.4"/>
<text x="835.5" y="495.6" font-size="54" text-anchor="middle">iLID</text>
<rect x="184" y="523" width="419" height="104" rx="46" fill="url(#p3)" stroke="#000" stroke-width="2.4"/>
<text x="393.5" y="562" font-size="45.2" text-anchor="middle" word-spacing="-2.5">PRC1 component</text>
<text x="393.5" y="610.8" font-size="45.2" text-anchor="middle">homologs</text>
<rect x="641" y="536.5" width="244" height="77" rx="38.5" fill="url(#p4)" stroke="#000" stroke-width="2.4"/>
<text x="763" y="594.3" font-size="54" text-anchor="middle">mCherry</text>
<rect x="919" y="536.5" width="160.5" height="77" rx="38.5" fill="url(#p5)" stroke="#000" stroke-width="2.4"/>
<text x="999.2" y="594.3" font-size="54" text-anchor="middle">SspB</text>
<path d="M442 699.7L484 675.5L484 724Z" fill="#fee9a4" stroke="#000" stroke-width="2.6" stroke-linejoin="miter"/>
<path d="M520.5 699.7L484 675.5L484 724Z" fill="#fbd690" stroke="#000" stroke-width="2.6" stroke-linejoin="miter"/>
<path d="M753.3 695.7C756.3 697.7 764.6 705.1 771 707.6C777.5 710 785.8 711.6 792.2 710.5C798.5 709.4 803.4 703.3 809.1 700.8C814.7 698.3 820.3 694.8 826 695.7C831.6 696.6 838.1 703.6 842.9 706.3C847.6 709 852.7 710.9 854.7 711.8" fill="none" stroke="#6b84c4" stroke-width="5.5" stroke-linecap="round" stroke-linejoin="round"/>
<path d="M670 699.5L644.4 682.9A30.5 30.5 0 1 1 644.4 716.1Z" fill="url(#sPnk)" stroke="#000" stroke-width="2.6" stroke-linejoin="miter"/>
<rect x="698" y="670.8" width="55" height="58" rx="15" fill="url(#sRed)" stroke="#000" stroke-width="2.6" transform="rotate(0 725.5 699.8)"/>
<path d="M1503.2 569.5L1465.4 593.1L1463.8 637.7L1424.5 616.8L1385.2 637.7L1383.6 593.1L1345.8 569.5L1383.6 545.9L1385.1 501.3L1424.5 522.2L1463.8 501.3L1465.4 545.9Z" fill="url(#sStar)" stroke="#000" stroke-width="2.6" stroke-linejoin="miter"/>
<path d="M1465.4 593.1L1424.5 616.8L1383.6 593.1L1383.6 545.9L1424.5 522.2L1465.4 545.9Z" fill="url(#sYel)" stroke="#000" stroke-width="2.6" stroke-linejoin="miter"/>
<path d="M1465.4 593.1L1383.6 545.9M1424.5 616.8L1424.5 522.2M1383.6 593.1L1465.4 545.9" fill="none" stroke="#000" stroke-width="2.21"/>
<path d="M1312.5 475.3C1311.5 476.8 1309.1 481 1306.8 484.5C1304.5 487.9 1302.4 493.1 1298.7 495.9C1295.1 498.8 1289.5 500.9 1284.9 501.7C1280.4 502.4 1275.4 501 1271.2 500.5C1267 500.1 1263.5 498.4 1259.7 498.9C1255.9 499.5 1251.7 500.8 1248.2 504C1244.8 507.1 1242.5 513.5 1239 517.8C1235.6 522 1229.5 527.7 1227.6 529.7" fill="none" stroke="#6b84c4" stroke-width="5.5" stroke-linecap="round" stroke-linejoin="round"/>
<path d="M1392.4 442L1422.4 446.8A30.4 30.4 0 1 1 1409 416.5Z" fill="url(#sPnk)" stroke="#000" stroke-width="2.6" stroke-linejoin="miter"/>
<rect x="1311" y="437.8" width="56" height="58" rx="17" fill="url(#sRed)" stroke="#000" stroke-width="2.6" transform="rotate(-22 1339 466.8)"/>
<path d="M1560.5 593.5C1559.5 595.4 1556.2 600.8 1554.7 605C1553.2 609.2 1550.7 613.8 1551.3 618.8C1551.8 623.7 1555.1 630.3 1558.2 634.8C1561.2 639.4 1566.9 642.1 1569.6 646.3C1572.4 650.5 1574.5 655.1 1574.7 660.1C1574.9 665.1 1572.2 671.6 1570.8 676.2C1569.4 680.8 1567 684.6 1566.2 687.6C1565.4 690.7 1566.2 693.4 1566.2 694.5" fill="none" stroke="#6b84c4" stroke-width="5.5" stroke-linecap="round" stroke-linejoin="round"/>
<path d="M1541.4 509.3L1552.3 480.9A30.4 30.4 0 1 1 1519.9 487.8Z" fill="url(#sPnk)" stroke="#000" stroke-width="2.6" stroke-linejoin="miter"/>
<rect x="1525.6" y="537.4" width="56" height="58" rx="17" fill="url(#sRed)" stroke="#000" stroke-width="2.6" transform="rotate(-12 1553.6 566.4)"/>
<path d="M1405 687.6C1406.8 689.4 1411.7 695.3 1415.8 698C1419.9 700.7 1425 703.1 1429.6 703.7C1434.2 704.3 1438.8 703.1 1443.4 701.4C1448 699.7 1452.5 695.2 1457.1 693.4C1461.7 691.6 1466.7 690 1470.9 690.4C1475.1 690.8 1478.6 693.3 1482.4 695.7C1486.2 698.1 1490 702.8 1493.9 704.9C1497.7 706.9 1503.4 707.4 1505.4 707.9" fill="none" stroke="#6b84c4" stroke-width="5.5" stroke-linecap="round" stroke-linejoin="round"/>
<path d="M1319.4 684.9L1294.8 667A30.4 30.4 0 1 1 1293.1 700.1Z" fill="url(#sPnk)" stroke="#000" stroke-width="2.6" stroke-linejoin="miter"/>
<rect x="1349.3" y="659.1" width="55" height="58" rx="17" fill="url(#sRed)" stroke="#000" stroke-width="2.6" transform="rotate(3 1376.8 688.1)"/>
<text x="1680.3" y="382" font-size="54" text-anchor="start">Light</text>
<path d="M1725.5 409.2C1724.9 411.1 1721 416.7 1721.8 420.4C1722.7 424.1 1726.6 428.8 1730.6 431.2C1734.6 433.6 1741.5 432.4 1745.9 434.7C1750.3 437 1755.5 440.5 1757.1 444.9C1758.8 449.3 1756.4 456.8 1755.7 461.2C1755 465.6 1752 468.2 1753.1 471.4C1754.1 474.7 1757.9 478.6 1761.8 480.6C1765.7 482.7 1772.2 481.5 1776.5 483.7C1780.9 485.9 1786.3 489.1 1787.8 493.9C1789.2 498.6 1785.8 507.5 1785.1 512.2C1784.4 517 1782.4 519.6 1783.7 522.4C1785 525.3 1789.6 527.6 1792.9 529.6C1796.1 531.6 1800.2 531.9 1803.1 534.3C1806 536.7 1809 542.3 1810.2 543.9" fill="none" stroke="#2aa7bd" stroke-width="4.6" stroke-linecap="butt"/>
<path d="M1819 559.6L1798 544.3L1809.2 542.9L1814.9 534.3 Z" fill="#2aa7bd"/>
<line x1="1687.8" y1="571.8" x2="1874.9" y2="571.8" stroke="#000" stroke-width="4.5"/>
<path d="M1896 571.8L1867.4 583.4L1874.9 571.8L1867.4 560.2Z" fill="#000"/>
<circle cx="2223.9" cy="566.5" r="225.5" fill="url(#gCon)" stroke="#000" stroke-width="2.2" stroke-dasharray="15.5 8"/>
<path d="M2052.9 472.3C2050.9 473.8 2045 479.5 2040.7 481.1C2036.3 482.8 2031.3 483.5 2026.6 482.2C2022 480.8 2017.3 474.7 2012.6 473C2007.9 471.4 2003.7 471 1998.6 472.3C1993.4 473.7 1984.5 479.7 1981.7 481.1" fill="none" stroke="#6b84c4" stroke-width="5.6" stroke-linecap="round" stroke-linejoin="round"/>
<path d="M2109 370C2106.7 368.3 2098.2 364.1 2095 360.1C2091.8 356.2 2090.7 350.8 2089.7 346.1C2088.8 341.4 2090.8 335.9 2089 332.1C2087.3 328.3 2082.9 325.9 2079.2 323.3C2075.5 320.7 2069 317.5 2067 316.3" fill="none" stroke="#6b84c4" stroke-width="5.6" stroke-linecap="round" stroke-linejoin="round"/>
<path d="M2225.8 372.4C2225.6 369.8 2223.8 361.3 2224.8 356.6C2225.7 352 2228.3 347.6 2231.8 344.4C2235.3 341.1 2242.5 340.6 2245.8 337.3C2249.1 334.1 2250.8 330 2251.8 325.1C2252.7 320.1 2251.8 310.5 2251.8 307.5" fill="none" stroke="#6b84c4" stroke-width="5.6" stroke-linecap="round" stroke-linejoin="round"/>
<path d="M2280.9 468.8C2283.5 467.7 2291.1 462.1 2296.6 461.8C2302.2 461.5 2308.9 465 2314.2 467.1C2319.4 469.1 2323.5 473.8 2328.2 474.1C2332.9 474.4 2338.1 470.6 2342.2 468.8C2346.3 467.1 2351 464.5 2352.7 463.6" fill="none" stroke="#6b84c4" stroke-width="5.6" stroke-linecap="round" stroke-linejoin="round"/>
<path d="M2110.8 554.8C2108.7 553.6 2101.7 551 2098.5 547.7C2095.3 544.5 2092.8 539.9 2091.5 535.5C2090.2 531.1 2092.2 525.8 2090.4 521.4C2088.7 517.1 2084.6 512.4 2081 509.2C2077.4 506 2070.8 503.3 2068.7 502.2" fill="none" stroke="#6b84c4" stroke-width="5.6" stroke-linecap="round" stroke-linejoin="round"/>
<path d="M2228.3 558.3C2228.1 555.6 2226.6 546.9 2227.2 542.5C2227.8 538.1 2228.7 535.2 2231.8 532C2234.9 528.7 2242.3 526.7 2245.8 523.2C2249.3 519.7 2251.6 515.9 2252.8 510.9C2254 506 2252.8 496.3 2252.8 493.4" fill="none" stroke="#6b84c4" stroke-width="5.6" stroke-linecap="round" stroke-linejoin="round"/>
<circle cx="2221.4" cy="472.3" r="20.6" fill="url(#sPnk)" stroke="#000" stroke-width="2.3"/>
<circle cx="2194.2" cy="519.5" r="20.6" fill="url(#sPnk)" stroke="#000" stroke-width="2.3"/>
<circle cx="2139.7" cy="519.5" r="20.6" fill="url(#sPnk)" stroke="#000" stroke-width="2.3"/>
<circle cx="2112.4" cy="472.3" r="20.6" fill="url(#sPnk)" stroke="#000" stroke-width="2.3"/>
<circle cx="2139.7" cy="425.1" r="20.6" fill="url(#sPnk)" stroke="#000" stroke-width="2.3"/>
<circle cx="2194.2" cy="425.1" r="20.6" fill="url(#sPnk)" stroke="#000" stroke-width="2.3"/>
<rect x="2242.9" y="451.6" width="39" height="41.5" rx="11.5" fill="url(#sRed)" stroke="#000" stroke-width="2.4" transform="rotate(0 2262.4 472.3)"/>
<rect x="2195.2" y="534.3" width="39" height="41.5" rx="11.5" fill="url(#sRed)" stroke="#000" stroke-width="2.4" transform="rotate(60 2214.7 555)"/>
<rect x="2099.7" y="534.3" width="39" height="41.5" rx="11.5" fill="url(#sRed)" stroke="#000" stroke-width="2.4" transform="rotate(120 2119.2 555)"/>
<rect x="2051.9" y="451.6" width="39" height="41.5" rx="11.5" fill="url(#sRed)" stroke="#000" stroke-width="2.4" transform="rotate(180 2071.4 472.3)"/>
<rect x="2099.7" y="368.8" width="39" height="41.5" rx="11.5" fill="url(#sRed)" stroke="#000" stroke-width="2.4" transform="rotate(240 2119.2 389.6)"/>
<rect x="2195.2" y="368.8" width="39" height="41.5" rx="11.5" fill="url(#sRed)" stroke="#000" stroke-width="2.4" transform="rotate(300 2214.7 389.6)"/>
<path d="M2221.4 472.3L2195.2 488.7L2194.2 519.5L2166.9 505L2139.7 519.5L2138.6 488.7L2112.4 472.3L2138.6 455.9L2139.7 425.1L2166.9 439.6L2194.2 425.1L2195.2 455.9Z" fill="url(#sStar)" stroke="#000" stroke-width="2.2" stroke-linejoin="miter"/>
<path d="M2195.2 488.7L2166.9 505L2138.6 488.7L2138.6 455.9L2166.9 439.6L2195.2 455.9Z" fill="url(#sYel)" stroke="#000" stroke-width="2.2" stroke-linejoin="miter"/>
<path d="M2195.2 488.7L2138.6 455.9M2166.9 505L2166.9 439.6M2138.6 488.7L2195.2 455.9" fill="none" stroke="#000" stroke-width="1.87"/>
<path d="M2286.1 468.8C2284.1 467.1 2276.8 462.4 2273.8 458.3C2270.9 454.2 2269.6 449 2268.6 444.3C2267.6 439.6 2269.3 434.4 2267.9 430.3C2266.4 426.2 2263.2 422.8 2259.8 419.7C2256.4 416.7 2249.6 413.3 2247.5 412" fill="none" stroke="#6b84c4" stroke-width="5.6" stroke-linecap="round" stroke-linejoin="round"/>
<path d="M2401.8 482.9C2402 480.5 2401.4 473.2 2402.5 468.8C2403.7 464.5 2405.5 459.8 2408.9 456.6C2412.2 453.4 2419.1 452.8 2422.9 449.6C2426.7 446.3 2429.9 441.8 2431.6 437.3C2433.4 432.8 2433.1 425 2433.4 422.6" fill="none" stroke="#6b84c4" stroke-width="5.6" stroke-linecap="round" stroke-linejoin="round"/>
<path d="M2447.4 589.8C2449.5 588.7 2455.6 583.8 2459.7 582.8C2463.8 581.8 2467.9 582.1 2472 583.9C2476.1 585.6 2479.6 591.5 2484.2 593.3C2488.9 595.2 2494.4 596 2500 595.1C2505.7 594.2 2515.2 589.2 2518.3 588.1" fill="none" stroke="#6b84c4" stroke-width="5.6" stroke-linecap="round" stroke-linejoin="round"/>
<path d="M2379 684.5C2381.1 686 2388.2 689.8 2391.3 693.3C2394.4 696.8 2396.6 701.2 2397.6 705.5C2398.7 709.9 2396.3 714.9 2397.6 719.6C2398.9 724.2 2402.3 729.5 2405.3 733.6C2408.4 737.7 2414.1 742.4 2415.9 744.1" fill="none" stroke="#6b84c4" stroke-width="5.6" stroke-linecap="round" stroke-linejoin="round"/>
<path d="M2286.1 657.5C2288.2 656.2 2294.3 651 2298.4 649.4C2302.5 647.9 2306.3 647.2 2310.7 648.4C2315.1 649.6 2320 654.9 2324.7 656.4C2329.4 658 2333.8 658.8 2338.7 657.5C2343.7 656.2 2351.9 649.9 2354.5 648.4" fill="none" stroke="#6b84c4" stroke-width="5.6" stroke-linecap="round" stroke-linejoin="round"/>
<path d="M2244 591.6C2244.2 593.9 2243.9 601.2 2244.7 605.6C2245.6 610 2247.1 615 2249.3 617.9C2251.5 620.8 2255.1 621.4 2258.1 623.1C2261 624.9 2265.4 627.5 2266.8 628.4" fill="none" stroke="#6b84c4" stroke-width="5.6" stroke-linecap="round" stroke-linejoin="round"/>
<circle cx="2386.6" cy="582.7" r="20.6" fill="url(#sPnk)" stroke="#000" stroke-width="2.3"/>
<circle cx="2355" cy="627.1" r="20.6" fill="url(#sPnk)" stroke="#000" stroke-width="2.3"/>
<circle cx="2300.8" cy="621.9" r="20.6" fill="url(#sPnk)" stroke="#000" stroke-width="2.3"/>
<circle cx="2278.2" cy="572.3" r="20.6" fill="url(#sPnk)" stroke="#000" stroke-width="2.3"/>
<circle cx="2309.8" cy="527.9" r="20.6" fill="url(#sPnk)" stroke="#000" stroke-width="2.3"/>
<circle cx="2364" cy="533.1" r="20.6" fill="url(#sPnk)" stroke="#000" stroke-width="2.3"/>
<rect x="2408" y="565.9" width="39" height="41.5" rx="11.5" fill="url(#sRed)" stroke="#000" stroke-width="2.4" transform="rotate(5.5 2427.5 586.7)"/>
<rect x="2352.5" y="643.7" width="39" height="41.5" rx="11.5" fill="url(#sRed)" stroke="#000" stroke-width="2.4" transform="rotate(65.5 2372 664.4)"/>
<rect x="2257.4" y="634.5" width="39" height="41.5" rx="11.5" fill="url(#sRed)" stroke="#000" stroke-width="2.4" transform="rotate(125.5 2276.9 655.2)"/>
<rect x="2217.8" y="547.6" width="39" height="41.5" rx="11.5" fill="url(#sRed)" stroke="#000" stroke-width="2.4" transform="rotate(185.5 2237.3 568.3)"/>
<rect x="2273.3" y="469.8" width="39" height="41.5" rx="11.5" fill="url(#sRed)" stroke="#000" stroke-width="2.4" transform="rotate(245.5 2292.8 490.6)"/>
<rect x="2368.4" y="479" width="39" height="41.5" rx="11.5" fill="url(#sRed)" stroke="#000" stroke-width="2.4" transform="rotate(305.5 2387.9 499.8)"/>
<path d="M2386.6 582.7L2359 596.5L2355 627.1L2329.3 610.1L2300.8 621.9L2302.6 591.1L2278.2 572.3L2305.8 558.5L2309.8 527.9L2335.5 544.9L2364 533.1L2362.2 563.9Z" fill="url(#sStar)" stroke="#000" stroke-width="2.2" stroke-linejoin="miter"/>
<path d="M2359 596.5L2329.3 610.1L2302.6 591.1L2305.8 558.5L2335.5 544.9L2362.2 563.9Z" fill="url(#sYel)" stroke="#000" stroke-width="2.2" stroke-linejoin="miter"/>
<path d="M2359 596.5L2305.8 558.5M2329.3 610.1L2335.5 544.9M2302.6 591.1L2362.2 563.9" fill="none" stroke="#000" stroke-width="1.87"/>
<path d="M2054 658.2C2052.1 659.7 2046.7 665.3 2042.4 667C2038.1 668.6 2033.1 669.4 2028.4 668C2023.7 666.7 2019 660.5 2014.4 658.9C2009.7 657.3 2005.4 656.7 2000.3 658.2C1995.2 659.7 1986.6 666.4 1983.8 668" fill="none" stroke="#6b84c4" stroke-width="5.6" stroke-linecap="round" stroke-linejoin="round"/>
<path d="M2107.3 595.1C2105.2 596 2098.8 598 2095 600.3C2091.2 602.7 2086.5 605.3 2084.5 609.1C2082.4 612.9 2083.1 618.5 2082.7 623.1C2082.3 627.8 2082.1 634.8 2082 637.2" fill="none" stroke="#6b84c4" stroke-width="5.6" stroke-linecap="round" stroke-linejoin="round"/>
<path d="M2193.2 572.3C2191.1 570.5 2185.3 563.8 2180.9 561.8C2176.5 559.7 2171 559.4 2166.9 560C2162.8 560.6 2159.9 563.9 2156.4 565.3C2152.9 566.6 2147.6 567.6 2145.9 568.1" fill="none" stroke="#6b84c4" stroke-width="5.6" stroke-linecap="round" stroke-linejoin="round"/>
<path d="M2262.3 679.2C2262 681.6 2262.7 689.5 2260.9 693.3C2259 697.1 2254.7 699.7 2251.1 702C2247.4 704.4 2241.7 705 2238.8 707.3C2235.9 709.6 2234.4 712.8 2233.5 716.1C2232.6 719.3 2233.5 724.8 2233.5 726.6" fill="none" stroke="#6b84c4" stroke-width="5.6" stroke-linecap="round" stroke-linejoin="round"/>
<path d="M2110.8 759.9C2111.1 762.2 2113.2 769.5 2112.5 773.9C2111.8 778.3 2109.8 783 2106.6 786.2C2103.4 789.4 2096.6 790 2093.3 793.2C2089.9 796.4 2087.5 800.4 2086.2 805.5C2085 810.6 2085.7 820.7 2085.5 823.7" fill="none" stroke="#6b84c4" stroke-width="5.6" stroke-linecap="round" stroke-linejoin="round"/>
<path d="M2227.2 759.9C2229.4 760.8 2237 762.5 2240.5 765.2C2244 767.8 2246.8 771.3 2248.2 775.7C2249.7 780.1 2247.7 786.5 2249.3 791.5C2250.9 796.4 2254.6 801.7 2258.1 805.5C2261.6 809.3 2268.3 812.8 2270.3 814.2" fill="none" stroke="#6b84c4" stroke-width="5.6" stroke-linecap="round" stroke-linejoin="round"/>
<circle cx="2223.9" cy="658.2" r="20.6" fill="url(#sPnk)" stroke="#000" stroke-width="2.3"/>
<circle cx="2196.7" cy="705.4" r="20.6" fill="url(#sPnk)" stroke="#000" stroke-width="2.3"/>
<circle cx="2142.2" cy="705.4" r="20.6" fill="url(#sPnk)" stroke="#000" stroke-width="2.3"/>
<circle cx="2114.9" cy="658.2" r="20.6" fill="url(#sPnk)" stroke="#000" stroke-width="2.3"/>
<circle cx="2142.2" cy="611" r="20.6" fill="url(#sPnk)" stroke="#000" stroke-width="2.3"/>
<circle cx="2196.7" cy="611" r="20.6" fill="url(#sPnk)" stroke="#000" stroke-width="2.3"/>
<rect x="2245.4" y="637.5" width="39" height="41.5" rx="11.5" fill="url(#sRed)" stroke="#000" stroke-width="2.4" transform="rotate(0 2264.9 658.2)"/>
<rect x="2197.7" y="720.2" width="39" height="41.5" rx="11.5" fill="url(#sRed)" stroke="#000" stroke-width="2.4" transform="rotate(60 2217.2 740.9)"/>
<rect x="2102.2" y="720.2" width="39" height="41.5" rx="11.5" fill="url(#sRed)" stroke="#000" stroke-width="2.4" transform="rotate(120 2121.7 740.9)"/>
<rect x="2054.4" y="637.5" width="39" height="41.5" rx="11.5" fill="url(#sRed)" stroke="#000" stroke-width="2.4" transform="rotate(180 2073.9 658.2)"/>
<rect x="2102.2" y="554.7" width="39" height="41.5" rx="11.5" fill="url(#sRed)" stroke="#000" stroke-width="2.4" transform="rotate(240 2121.7 575.5)"/>
<rect x="2197.7" y="554.7" width="39" height="41.5" rx="11.5" fill="url(#sRed)" stroke="#000" stroke-width="2.4" transform="rotate(300 2217.2 575.5)"/>
<path d="M2223.9 658.2L2197.7 674.6L2196.7 705.4L2169.4 690.9L2142.2 705.4L2141.1 674.6L2114.9 658.2L2141.1 641.8L2142.2 611L2169.4 625.5L2196.7 611L2197.7 641.8Z" fill="url(#sStar)" stroke="#000" stroke-width="2.2" stroke-linejoin="miter"/>
<path d="M2197.7 674.6L2169.4 690.9L2141.1 674.6L2141.1 641.8L2169.4 625.5L2197.7 641.8Z" fill="url(#sYel)" stroke="#000" stroke-width="2.2" stroke-linejoin="miter"/>
<path d="M2197.7 674.6L2141.1 641.8M2169.4 690.9L2169.4 625.5M2141.1 674.6L2197.7 641.8" fill="none" stroke="#000" stroke-width="1.87"/>
<path d="M2710 832.9C2710.5 829.4 2711.1 819.3 2713 812C2714.9 804.7 2717.8 796.6 2721.5 789.3C2725.2 782 2729.7 774.9 2735 768C2740.3 761.1 2746.9 754.5 2753.6 748C2760.3 741.5 2767.3 735.1 2775 729C2782.7 722.9 2790.3 717 2799.5 711.2C2808.7 705.5 2819.3 699.9 2830 694.5C2840.7 689.1 2852.1 684.1 2863.8 679.1C2875.5 674.1 2887.8 669.1 2900 664.5C2912.2 659.9 2923.5 655.9 2937.3 651.5C2951.1 647.1 2967.7 642.2 2983 638C2998.3 633.8 3013.7 629.7 3029 626.3C3044.3 622.9 3059.7 620.2 3075 617.5C3090.3 614.8 3105.7 612.4 3120.9 610.2C3136.1 608 3150.7 606.2 3166 604.5C3181.3 602.8 3197.4 601.4 3212.7 600.1C3228 598.8 3242.7 597.8 3258 596.8C3273.3 595.8 3291.5 594.9 3304.5 594.2C3317.5 593.5 3325.3 593.2 3336 592.8C3346.7 592.4 3363.3 592 3368.8 591.9L3368.8 841L2710 841Z" fill="url(#gPh)"/>
<path d="M2710 832.9C2710.5 829.4 2711.1 819.3 2713 812C2714.9 804.7 2717.8 796.6 2721.5 789.3C2725.2 782 2729.7 774.9 2735 768C2740.3 761.1 2746.9 754.5 2753.6 748C2760.3 741.5 2767.3 735.1 2775 729C2782.7 722.9 2790.3 717 2799.5 711.2C2808.7 705.5 2819.3 699.9 2830 694.5C2840.7 689.1 2852.1 684.1 2863.8 679.1C2875.5 674.1 2887.8 669.1 2900 664.5C2912.2 659.9 2923.5 655.9 2937.3 651.5C2951.1 647.1 2967.7 642.2 2983 638C2998.3 633.8 3013.7 629.7 3029 626.3C3044.3 622.9 3059.7 620.2 3075 617.5C3090.3 614.8 3105.7 612.4 3120.9 610.2C3136.1 608 3150.7 606.2 3166 604.5C3181.3 602.8 3197.4 601.4 3212.7 600.1C3228 598.8 3242.7 597.8 3258 596.8C3273.3 595.8 3291.5 594.9 3304.5 594.2C3317.5 593.5 3325.3 593.2 3336 592.8C3346.7 592.4 3363.3 592 3368.8 591.9" fill="none" stroke="#000" stroke-width="2" stroke-dasharray="18 10"/>
<rect x="2671" y="251.2" width="697.8" height="589.9" fill="none" stroke="#000" stroke-width="2.4"/>
<text transform="translate(2636.6 829) rotate(-90)" font-size="54">PRC1 oligomerization<tspan font-size="37.8" dy="-13.8">−1</tspan></text>
<text x="3020.5" y="908.6" font-size="54" text-anchor="middle">PRC1 concentration</text>
<text x="2827" y="505.5" font-size="50" text-anchor="middle">Chromatin</text>
<text x="2827" y="566.3" font-size="50" text-anchor="middle">de-</text>
<text x="2827" y="626.3" font-size="50" text-anchor="middle">compaction?</text>
<text x="3189" y="479.4" font-size="50" text-anchor="middle">Chromatin</text>
<text x="3189" y="539.2" font-size="50" text-anchor="middle">compaction</text>
<line x1="3076.4" y1="689.2" x2="2994.1" y2="495.9" stroke="#000" stroke-width="4.5"/>
<path d="M2985.5 475.7L3008.3 498.6L2994.1 495.9L2986.2 508Z" fill="#000"/>
<line x1="3005.2" y1="470.2" x2="3084.8" y2="658.8" stroke="#000" stroke-width="4.5"/>
<path d="M3093.3 679.1L3070.6 656.1L3084.8 658.8L3092.7 646.8Z" fill="#000"/>
<path d="M2881.3 284.3C2883.3 286.2 2890.6 291.2 2893.6 295.7C2896.7 300.3 2899.1 306.1 2899.6 311.8C2900.2 317.6 2899.4 325 2896.9 330.2C2894.3 335.4 2889.2 340.1 2884.5 343C2879.7 345.9 2874.1 346.3 2868.4 347.6C2862.7 348.9 2855.8 348.8 2850 350.8C2844.3 352.9 2837.8 355.8 2834 360C2830.1 364.2 2827.6 370.7 2827.1 376.1C2826.5 381.4 2828.1 387.7 2830.8 392.2C2833.4 396.6 2838 400.6 2843.1 402.7C2848.3 404.9 2855.8 405.5 2861.5 405C2867.3 404.5 2872.6 402.6 2877.6 400C2882.6 397.3 2887.1 392.3 2891.4 388.9C2895.6 385.6 2899.4 380.8 2902.8 379.8C2906.3 378.8 2909.5 379.8 2912 383C2914.5 386.2 2915.9 393.3 2918 399C2920 404.8 2921.6 411.4 2924.4 417.4C2927.2 423.4 2930.5 429.9 2935 434.8C2939.4 439.8 2945.3 444.2 2951 447.2C2956.8 450.3 2963.3 452.8 2969.4 453.2C2975.5 453.6 2982.6 452.1 2987.8 449.5C2993 447 2997.7 442.7 3000.6 438.1C3003.5 433.5 3005.4 427.3 3005.2 422C3005 416.6 3002.5 410.1 2999.2 405.9C2995.9 401.7 2990.6 399.4 2985.5 396.7C2980.3 394.1 2973.6 392.5 2968.5 389.9C2963.3 387.2 2957.8 384.1 2954.7 380.7C2951.6 377.2 2949.6 372.9 2950.1 369.2C2950.6 365.5 2953.9 361.5 2957.9 358.6C2961.9 355.8 2968.2 354.5 2974 352.2C2979.7 349.9 2986.6 348.5 2992.3 344.9C2998.1 341.2 3004.2 336.1 3008.4 330.2C3012.6 324.3 3016.6 316.4 3017.6 309.5C3018.6 302.6 3017.1 294.6 3014.4 288.9C3011.7 283.1 3006.7 278.3 3001.5 275.1C2996.3 271.9 2989.7 270.3 2983.2 269.6C2976.7 268.8 2968.6 269.2 2962.5 270.5C2956.4 271.8 2950.6 273.9 2946.4 277.4C2942.2 280.8 2938.4 286.6 2937.3 291.2C2936.1 295.7 2937.3 301.6 2939.6 304.9C2941.8 308.2 2946.4 309.9 2951 310.9C2955.6 311.9 2962.4 310.4 2967.1 310.9C2971.8 311.4 2976.7 312.3 2979.5 314.1C2982.3 315.9 2984.2 319.1 2984.1 321.9C2983.9 324.7 2981.8 329 2978.6 331.1C2975.4 333.2 2970.2 334.2 2964.8 334.8C2959.4 335.4 2951.9 334 2946.4 334.8C2940.9 335.5 2935.4 336.7 2931.7 339.4C2928.1 342 2925 346.9 2924.4 350.8C2923.8 354.8 2925.2 360.2 2928.1 363.2C2931 366.3 2936.5 368.4 2941.8 369.2C2947.2 370 2954.1 368.1 2960.2 367.8C2966.3 367.6 2973.2 366.4 2978.6 367.8C2983.9 369.2 2989.1 372.4 2992.3 376.1C2995.6 379.8 2998.3 385.3 2998.3 389.9C2998.3 394.4 2995.6 400.2 2992.3 403.6C2989.1 407.1 2983.9 409.8 2978.6 410.5C2973.2 411.3 2966.3 410 2960.2 408.2C2954.1 406.5 2947.2 402.1 2941.8 400C2936.5 397.8 2932.1 395.1 2928.1 395.4C2924.1 395.6 2920.9 397.7 2918 401.3C2915.1 405 2913.5 412.6 2910.6 417.4C2907.7 422.2 2904.7 427 2900.5 430.3C2896.4 433.5 2890.6 436.4 2885.8 436.7C2881.1 437 2875.9 435.7 2872.1 432.1C2868.2 428.5 2865.2 421.4 2862.9 415.1C2860.6 408.8 2859.3 401.7 2858.3 394.4C2857.3 387.2 2856.6 378.8 2856.9 371.5C2857.2 364.2 2858.2 357.1 2860.1 350.8C2862 344.6 2864.3 339.3 2868.4 333.9C2872.5 328.4 2881.8 320.8 2884.5 318.2" fill="none" stroke="#1c75bc" stroke-width="3.4" stroke-linecap="round"/>
<path d="M3100.3 702.7C3101.1 701.5 3102.8 697.3 3104.9 695.5C3107 693.7 3110.3 692.1 3113.1 691.9C3115.8 691.8 3118.8 692.9 3121.2 694.5C3123.6 696.1 3125.8 698.9 3127.3 701.6C3128.9 704.4 3129.2 708.3 3130.4 710.8C3131.6 713.4 3132.8 715.6 3134.5 716.9C3136.2 718.3 3138.4 719.1 3140.6 719C3142.8 718.8 3145.7 717.6 3147.8 715.9C3149.8 714.2 3151.3 711.3 3152.9 708.8C3154.4 706.2 3155.2 703.3 3156.9 700.6C3158.6 697.9 3160.7 694.7 3163.1 692.4C3165.4 690.2 3168.3 688 3171.2 686.8C3174.1 685.6 3177.5 684.9 3180.4 685.3C3183.3 685.7 3186.4 687.3 3188.6 689.4C3190.7 691.4 3192.5 694.8 3193.2 697.6C3193.8 700.3 3193.6 703.3 3192.7 705.7C3191.7 708.1 3189.6 710.5 3187.6 711.8C3185.5 713.2 3183 713.6 3180.4 713.9C3177.9 714.1 3174.6 713 3172.2 713.4C3169.9 713.7 3167.7 714.5 3166.1 715.9C3164.6 717.4 3163.2 719.8 3163.1 722C3162.9 724.3 3163.7 727.5 3165.1 729.2C3166.5 730.9 3169 732.1 3171.2 732.2C3173.4 732.4 3176.3 731.6 3178.4 730.2C3180.4 728.8 3182.5 726.5 3183.5 724.1C3184.4 721.7 3184.7 718.6 3184 715.9C3183.3 713.2 3181.3 710.1 3179.4 707.8C3177.4 705.4 3174.8 703.2 3172.2 701.6C3169.7 700.1 3166.8 699 3164.1 698.6C3161.4 698.1 3158.6 698.2 3155.9 699.1C3153.2 699.9 3150.1 701.7 3147.8 703.7C3145.4 705.6 3143.1 708.1 3141.6 710.8C3140.2 713.5 3139.3 716.9 3139.1 720C3138.9 723.1 3139.8 726 3140.6 729.2C3141.4 732.4 3142.5 736.3 3143.7 739.4C3144.9 742.4 3146.6 745 3147.8 747.6C3148.9 750.1 3150.6 752.3 3150.8 754.7C3151 757.1 3150.1 760 3148.8 761.8C3147.4 763.7 3144.7 765.6 3142.7 765.9C3140.6 766.3 3138.2 765.4 3136.5 763.9C3134.8 762.3 3133.5 759.3 3132.4 756.7C3131.4 754.2 3130.6 751.1 3130.4 748.6C3130.2 746 3130.2 743.5 3131.4 741.4C3132.6 739.4 3135.2 737.6 3137.6 736.3C3139.9 735.1 3143.4 733.9 3145.7 733.8C3148 733.6 3150.5 734 3151.3 735.3C3152.2 736.6 3151.6 739 3150.8 741.4C3150.1 743.8 3148.6 747.2 3146.7 749.6C3144.9 752 3141.8 753.7 3139.6 755.7C3137.4 757.8 3135.5 759.5 3133.5 761.8C3131.4 764.2 3129 767.3 3127.3 770C3125.6 772.7 3124.3 775.3 3123.3 778.2C3122.2 781.1 3121.2 784.6 3121.2 787.3C3121.2 790.1 3121.9 792.8 3123.3 794.5C3124.6 796.2 3127.2 797.6 3129.4 797.6C3131.6 797.6 3134.5 796.2 3136.5 794.5C3138.6 792.8 3140.3 789.9 3141.6 787.3C3143 784.8 3143.5 781.7 3144.7 779.2C3145.9 776.6 3147.1 773.7 3148.8 772C3150.5 770.3 3152.7 769.2 3154.9 769C3157.1 768.7 3159.8 769.3 3162 770.5C3164.3 771.7 3166.1 774.3 3168.2 776.1C3170.2 777.9 3172.1 780 3174.3 781.2C3176.5 782.4 3179.4 783.6 3181.4 783.3C3183.5 782.9 3185.5 781.2 3186.5 779.2C3187.6 777.1 3187.9 773.7 3187.6 771C3187.2 768.3 3186 765.4 3184.5 762.9C3183 760.3 3180.6 757.8 3178.4 755.7C3176.2 753.7 3173.6 752 3171.2 750.6C3168.8 749.3 3166 748.7 3164.1 747.6C3162.1 746.4 3160.2 745.2 3159.5 743.5C3158.8 741.8 3159.1 739 3160 737.3C3160.9 735.7 3163.1 733.8 3165.1 733.8C3167.1 733.8 3169.7 736.1 3172.2 737.3C3174.8 738.6 3177.5 739.9 3180.4 741.4C3183.3 743 3186.7 744.7 3189.6 746.5C3192.5 748.4 3195.6 750.4 3197.8 752.7C3199.9 754.9 3201.8 757.4 3202.3 759.8C3202.9 762.2 3202.3 765.2 3200.8 766.9C3199.4 768.7 3196.4 769.7 3193.7 770.5C3191 771.3 3187.7 771.4 3184.5 771.5C3181.3 771.6 3177.5 770.9 3174.3 771C3171.1 771.1 3167.8 771.2 3165.1 772C3162.4 772.9 3159.4 774.3 3158 776.1C3156.5 778 3156.4 780.7 3156.4 783.3C3156.4 785.8 3157.4 788.7 3158 791.4C3158.6 794.1 3160 797.2 3160 799.6C3160 802 3159.1 804.5 3158 805.7C3156.8 806.9 3154.6 807.4 3152.9 806.7C3151.2 806.1 3149.3 803.8 3147.8 801.6C3146.2 799.4 3145 795.9 3143.7 793.5C3142.3 791.1 3141.3 789 3139.6 787.3C3137.9 785.6 3135.7 783.8 3133.5 783.3C3131.3 782.8 3128.4 783.1 3126.3 784.3C3124.3 785.5 3122.6 787.9 3121.2 790.4C3119.9 793 3119.4 796.7 3118.2 799.6C3117 802.5 3115.8 805.7 3114.1 807.8C3112.4 809.8 3109.7 811.8 3108 811.8C3106.3 811.8 3104.4 809.6 3103.9 807.8C3103.4 805.9 3104.2 803.2 3104.9 800.6C3105.6 798.1 3107.6 795 3108 792.4C3108.3 789.9 3108 787.2 3106.9 785.3C3105.9 783.4 3102.9 783.4 3101.8 781.2C3100.8 779 3101.2 774.8 3100.8 772C3100.5 769.3 3100.8 766.9 3099.8 764.9C3098.8 762.9 3096.7 761.7 3094.7 759.8C3092.7 757.9 3089.9 755.9 3087.6 753.7C3085.2 751.5 3082.6 748.9 3080.4 746.5C3078.2 744.1 3075.8 741.8 3074.3 739.4C3072.8 737 3071.4 734.5 3071.2 732.2C3071.1 730 3071.9 727.5 3073.3 726.1C3074.6 724.8 3077.2 723.9 3079.4 724.1C3081.6 724.3 3084.5 725.6 3086.5 727.1C3088.6 728.7 3089.9 731.2 3091.6 733.3C3093.3 735.3 3094.9 737.9 3096.7 739.4C3098.6 740.9 3101 742.4 3102.9 742.4C3104.7 742.4 3107.3 740.7 3108 739.4C3108.6 738 3108 735.6 3106.9 734.3C3105.9 732.9 3103.9 731.6 3101.8 731.2C3099.8 730.9 3096.9 731.2 3094.7 732.2C3092.5 733.3 3090.4 735.1 3088.6 737.3C3086.7 739.6 3084.8 742.6 3083.5 745.5C3082.1 748.4 3080.7 751.8 3080.4 754.7C3080.1 757.6 3081.3 761.5 3081.4 762.9M3131.4 756.7C3130.9 755 3129.4 750.1 3128.4 746.5C3127.3 743 3126.3 739 3125.3 735.3C3124.3 731.6 3123.3 727.5 3122.2 724.1C3121.2 720.7 3120.4 717.4 3119.2 714.9C3118 712.3 3116.8 710.1 3115.1 708.8C3113.4 707.4 3110.9 706.6 3109 706.7C3107.1 706.8 3104.8 707.9 3103.9 709.3C3102.9 710.6 3102.9 712.8 3103.4 714.9C3103.9 717 3105.7 719.5 3106.9 722C3108.2 724.6 3109.7 727.3 3111 730.2C3112.3 733.1 3114.1 736.3 3114.6 739.4C3115.1 742.4 3115 745.9 3114.1 748.6C3113.1 751.3 3111.2 753.8 3109 755.7C3106.8 757.6 3103.7 758.3 3100.8 759.8C3097.9 761.3 3094.4 763 3091.6 764.9C3088.9 766.8 3086.1 768.6 3084.5 771C3082.9 773.4 3081.8 776.6 3081.9 779.2C3082.1 781.7 3083.7 785 3085.5 786.3C3087.3 787.7 3090.1 788 3092.7 787.3C3095.2 786.7 3098.3 784.3 3100.8 782.2C3103.4 780.2 3105.6 777.7 3108 775.1C3110.3 772.6 3112.9 769.8 3115.1 766.9C3117.3 764 3119.4 760.8 3121.2 757.8C3123.1 754.7 3125.2 751.3 3126.3 748.6C3127.4 745.9 3127.6 742.6 3127.9 741.4" fill="none" stroke="#1c75bc" stroke-width="3.5" stroke-linecap="round"/>
<text x="632" y="1147.6" font-size="54" text-anchor="middle">Opto TDP43</text>
<line x1="442.8" y1="1227.5" x2="475.7" y2="1227.5" stroke="#58595b" stroke-width="5.6" stroke-linecap="butt"/>
<line x1="818.4" y1="1227.5" x2="848" y2="1227.5" stroke="#58595b" stroke-width="5.6" stroke-linecap="butt"/>
<rect x="172" y="1189" width="270.8" height="77" rx="38.5" fill="url(#p6)" stroke="#000" stroke-width="2.4"/>
<text x="307.4" y="1246.8" font-size="54" text-anchor="middle">Cry2oligo</text>
<rect x="475.7" y="1189" width="342.7" height="77" rx="38.5" fill="url(#p7)" stroke="#000" stroke-width="2.4"/>
<text x="647" y="1246.8" font-size="54" text-anchor="middle">TDP-43 LCD</text>
<rect x="848" y="1189" width="243.3" height="77" rx="38.5" fill="url(#p8)" stroke="#000" stroke-width="2.4"/>
<text x="969.6" y="1246.8" font-size="54" text-anchor="middle">mCherry</text>
<path d="M675.1 1357.3C676.7 1358.1 681.7 1360 684.8 1361.8C687.8 1363.5 690.4 1366.3 693.6 1367.7C696.8 1369 700.5 1369.8 704 1369.9C707.4 1370 710.9 1369.8 714.3 1368.4C717.8 1367.1 721.2 1364.2 724.7 1361.8C728.1 1359.3 731.6 1355.6 735 1353.6C738.5 1351.6 741.9 1350.2 745.4 1349.6C748.8 1349 752.3 1349.1 755.7 1349.9C759.2 1350.7 762.6 1352.6 766.1 1354.4C769.5 1356.1 772.9 1358.7 776.4 1360.3C780 1361.9 785.7 1363.4 787.5 1364" fill="none" stroke="#6b84c4" stroke-width="5.3" stroke-linecap="round" stroke-linejoin="round"/>
<g transform="translate(511.2 1358.8) rotate(0) scale(1)" stroke="#000" stroke-width="2.60" stroke-linejoin="round"><path d="M100 -17.5L147 -17.5A16 17.5 0 0 1 147 17.5L100 17.5Q95 17.5 95 12.5L95 -12.5Q95 -17.5 100 -17.5Z" fill="url(#sPer)"/><path d="M55.6 -30.1Q65 -35.8 74.4 -30.1L85.6 -23.2Q95 -17.5 95 -6.5L95 6.5Q95 17.5 85.6 23.2L74.4 30.1Q65 35.8 55.6 30.1L43.9 23.2Q34.5 17.5 34.5 6.5L34.5 -6.5Q34.5 -17.5 43.9 -23.2Z" fill="url(#sPer)"/><path d="M0 0L-33.3 -6.8A34 34 0 1 1 -33.3 6.8Z" fill="url(#sTea)" stroke-linejoin="miter"/></g>
<path d="M1351 1114.3C1348.8 1113.3 1342 1110.8 1337.9 1108.4C1333.7 1106 1330.3 1101.6 1326.1 1099.6C1322 1097.6 1317.6 1096.2 1312.9 1096.7C1308.3 1097.2 1302.9 1100.1 1298.3 1102.5C1293.6 1105 1289.7 1109.6 1285.1 1111.3C1280.4 1113 1275.3 1114 1270.4 1112.8C1265.5 1111.6 1261.1 1106.8 1255.7 1104C1250.3 1101.2 1241.1 1097.2 1238.1 1095.8" fill="none" stroke="#6b84c4" stroke-width="5.5" stroke-linecap="round" stroke-linejoin="round"/>
<g transform="translate(1513.2 1128.9) rotate(186) scale(1)" stroke="#000" stroke-width="2.60" stroke-linejoin="round"><path d="M100 -17.5L147 -17.5A16 17.5 0 0 1 147 17.5L100 17.5Q95 17.5 95 12.5L95 -12.5Q95 -17.5 100 -17.5Z" fill="url(#sPer)"/><path d="M55.6 -30.1Q65 -35.8 74.4 -30.1L85.6 -23.2Q95 -17.5 95 -6.5L95 6.5Q95 17.5 85.6 23.2L74.4 30.1Q65 35.8 55.6 30.1L43.9 23.2Q34.5 17.5 34.5 6.5L34.5 -6.5Q34.5 -17.5 43.9 -23.2Z" fill="url(#sPer)"/><path d="M0 0L-33.3 -6.8A34 34 0 1 1 -33.3 6.8Z" fill="url(#sTea)" stroke-linejoin="miter"/></g>
<path d="M1364.2 1325.4C1364.7 1328.1 1366 1336.4 1367.2 1341.6C1368.4 1346.7 1368.6 1351.8 1371.6 1356.2C1374.5 1360.6 1379.6 1364.8 1384.8 1368C1389.9 1371.1 1397.5 1372.4 1402.4 1375.3C1407.3 1378.2 1411.3 1381.2 1414.1 1385.6C1416.9 1390 1418.2 1396.8 1419.4 1401.7C1420.6 1406.6 1420.2 1411.2 1421.4 1414.9C1422.7 1418.6 1425.8 1422.2 1426.7 1423.7" fill="none" stroke="#6b84c4" stroke-width="5.5" stroke-linecap="round" stroke-linejoin="round"/>
<g transform="translate(1266 1198.4) rotate(53.6) scale(1)" stroke="#000" stroke-width="2.60" stroke-linejoin="round"><path d="M100 -17.5L147 -17.5A16 17.5 0 0 1 147 17.5L100 17.5Q95 17.5 95 12.5L95 -12.5Q95 -17.5 100 -17.5Z" fill="url(#sPer)"/><path d="M55.6 -30.1Q65 -35.8 74.4 -30.1L85.6 -23.2Q95 -17.5 95 -6.5L95 6.5Q95 17.5 85.6 23.2L74.4 30.1Q65 35.8 55.6 30.1L43.9 23.2Q34.5 17.5 34.5 6.5L34.5 -6.5Q34.5 -17.5 43.9 -23.2Z" fill="url(#sPer)"/><path d="M0 0L-33.3 -6.8A34 34 0 1 1 -33.3 6.8Z" fill="url(#sTea)" stroke-linejoin="miter"/></g>
<path d="M1492.7 1388.5C1490.4 1390.4 1482.7 1395.8 1478.6 1400.2C1474.6 1404.6 1470.1 1409.5 1468.4 1414.9C1466.7 1420.3 1467.1 1426.6 1468.4 1432.5C1469.6 1438.4 1474.5 1444.5 1475.7 1450.1C1476.9 1455.7 1477.4 1461.3 1475.7 1466.2C1474 1471.1 1468.9 1475.8 1465.4 1479.4C1462 1483.1 1457.5 1485.3 1455.2 1488.2C1452.8 1491.1 1452 1495.5 1451.4 1497" fill="none" stroke="#6b84c4" stroke-width="5.5" stroke-linecap="round" stroke-linejoin="round"/>
<g transform="translate(1534.9 1232.2) rotate(106.2) scale(1)" stroke="#000" stroke-width="2.60" stroke-linejoin="round"><path d="M100 -17.5L147 -17.5A16 17.5 0 0 1 147 17.5L100 17.5Q95 17.5 95 12.5L95 -12.5Q95 -17.5 100 -17.5Z" fill="url(#sPer)"/><path d="M55.6 -30.1Q65 -35.8 74.4 -30.1L85.6 -23.2Q95 -17.5 95 -6.5L95 6.5Q95 17.5 85.6 23.2L74.4 30.1Q65 35.8 55.6 30.1L43.9 23.2Q34.5 17.5 34.5 6.5L34.5 -6.5Q34.5 -17.5 43.9 -23.2Z" fill="url(#sPer)"/><path d="M0 0L-33.3 -6.8A34 34 0 1 1 -33.3 6.8Z" fill="url(#sTea)" stroke-linejoin="miter"/></g>
<text x="1680.3" y="1087.8" font-size="54" text-anchor="start">Light</text>
<path d="M1725.5 1115C1724.9 1116.9 1721 1122.5 1721.8 1126.2C1722.7 1129.9 1726.6 1134.6 1730.6 1137C1734.6 1139.4 1741.5 1138.2 1745.9 1140.5C1750.3 1142.8 1755.5 1146.3 1757.1 1150.7C1758.8 1155.1 1756.4 1162.6 1755.7 1167C1755 1171.4 1752 1174 1753.1 1177.2C1754.1 1180.5 1757.9 1184.4 1761.8 1186.4C1765.7 1188.5 1772.2 1187.3 1776.5 1189.5C1780.9 1191.7 1786.3 1194.9 1787.8 1199.7C1789.2 1204.4 1785.8 1213.3 1785.1 1218C1784.4 1222.8 1782.4 1225.4 1783.7 1228.2C1785 1231.1 1789.6 1233.4 1792.9 1235.4C1796.1 1237.4 1800.2 1237.7 1803.1 1240.1C1806 1242.5 1809 1248.1 1810.2 1249.7" fill="none" stroke="#2aa7bd" stroke-width="4.6" stroke-linecap="butt"/>
<path d="M1819 1265.4L1798 1250.1L1809.2 1248.7L1814.9 1240.1 Z" fill="#2aa7bd"/>
<line x1="1688" y1="1277.5" x2="1875.1" y2="1277.5" stroke="#000" stroke-width="4.5"/>
<path d="M1896.2 1277.5L1867.6 1289.1L1875.1 1277.5L1867.6 1265.9Z" fill="#000"/>
<line x1="1896.2" y1="1305.3" x2="1709.1" y2="1305.3" stroke="#000" stroke-width="4.5"/>
<path d="M1688 1305.3L1716.6 1293.7L1709.1 1305.3L1716.6 1316.9Z" fill="#000"/>
<path d="M1787.3 1290L1810.3 1321M1810.3 1290L1787.3 1321" stroke="#e0242f" stroke-width="4.8" fill="none"/>
<text x="1799.4" y="1370.8" font-size="54" text-anchor="middle">Irreversible</text>
<circle cx="2221.4" cy="1292.7" r="225.8" fill="url(#gCon)" stroke="#000" stroke-width="2.2" stroke-dasharray="15.5 8"/>
<path d="M2221 1221C2220.8 1222.3 2220.9 1226.5 2219.9 1229C2218.9 1231.6 2216.6 1233.6 2215 1236.3C2213.5 1239 2211.3 1242.1 2210.8 1245.1C2210.3 1248 2210.7 1251.4 2212 1254C2213.3 1256.7 2216.4 1258.7 2218.8 1261.1C2221.1 1263.5 2224 1265.6 2226.2 1268.5C2228.4 1271.5 2231.4 1275.3 2232.1 1278.8C2232.8 1282.3 2231.7 1287.2 2230.4 1289.6C2229 1292 2225.1 1292.6 2224 1293.3" fill="none" stroke="#6b84c4" stroke-width="5.4" stroke-linecap="round" stroke-linejoin="round"/>
<path d="M2250.3 1227.2C2249.6 1228.4 2248 1232.2 2246 1234.1C2244.1 1236 2241.1 1237 2238.6 1238.8C2236.1 1240.6 2232.9 1242.6 2231.2 1245.1C2229.5 1247.6 2228.5 1250.8 2228.6 1253.7C2228.8 1256.7 2230.8 1259.8 2231.9 1262.9C2233.1 1266.1 2234.9 1269.2 2235.7 1272.8C2236.5 1276.4 2237.7 1281.1 2236.9 1284.5C2236.1 1288 2233.2 1292 2231 1293.7C2228.8 1295.3 2224.8 1294.3 2223.6 1294.5" fill="none" stroke="#6b84c4" stroke-width="5.4" stroke-linecap="round" stroke-linejoin="round"/>
<path d="M2274.5 1244.8C2273.4 1245.6 2270.4 1248.4 2267.8 1249.4C2265.2 1250.3 2262.1 1250 2259.1 1250.6C2256.1 1251.3 2252.3 1251.8 2249.8 1253.4C2247.3 1255 2245 1257.5 2243.9 1260.2C2242.8 1263 2243.4 1266.6 2243.2 1270C2243 1273.4 2243.4 1276.9 2242.7 1280.5C2241.9 1284.1 2241.1 1288.9 2239 1291.7C2236.8 1294.6 2232.5 1297.1 2229.8 1297.7C2227.1 1298.3 2224 1295.8 2222.8 1295.4" fill="none" stroke="#6b84c4" stroke-width="5.4" stroke-linecap="round" stroke-linejoin="round"/>
<path d="M2289.5 1270.8C2288.1 1271 2284.2 1272.3 2281.5 1272.2C2278.8 1272 2276.1 1270.4 2273.1 1269.8C2270.1 1269.2 2266.4 1268.1 2263.4 1268.5C2260.5 1268.9 2257.4 1270.3 2255.3 1272.4C2253.2 1274.5 2252.2 1278 2250.7 1281C2249.1 1284 2248 1287.4 2245.9 1290.4C2243.7 1293.4 2241 1297.4 2237.9 1299.2C2234.8 1300.9 2229.9 1301.4 2227.2 1300.9C2224.5 1300.3 2222.6 1296.7 2221.7 1295.9" fill="none" stroke="#6b84c4" stroke-width="5.4" stroke-linecap="round" stroke-linejoin="round"/>
<path d="M2292.6 1300.5C2291.3 1300.2 2287.2 1299.8 2284.8 1298.6C2282.3 1297.3 2280.5 1294.8 2278 1293C2275.5 1291.2 2272.6 1288.7 2269.7 1287.9C2266.8 1287.1 2263.5 1287.1 2260.7 1288.1C2257.9 1289.2 2255.6 1292 2253 1294.1C2250.3 1296.2 2247.9 1298.8 2244.8 1300.7C2241.6 1302.6 2237.5 1305.2 2233.9 1305.5C2230.4 1305.8 2225.7 1304.3 2223.4 1302.7C2221.2 1301.1 2220.9 1297.1 2220.4 1295.9" fill="none" stroke="#6b84c4" stroke-width="5.4" stroke-linecap="round" stroke-linejoin="round"/>
<path d="M2283.4 1329C2282.3 1328.2 2278.7 1326.2 2277 1324C2275.3 1321.9 2274.6 1318.8 2273.1 1316.2C2271.5 1313.5 2269.9 1310.1 2267.6 1308.1C2265.3 1306.2 2262.2 1304.9 2259.3 1304.7C2256.3 1304.5 2253 1306.2 2249.8 1307C2246.5 1307.9 2243.2 1309.3 2239.6 1309.7C2235.9 1310.2 2231.1 1310.8 2227.7 1309.7C2224.4 1308.5 2220.7 1305.2 2219.3 1302.8C2217.9 1300.5 2219.3 1296.7 2219.3 1295.5" fill="none" stroke="#6b84c4" stroke-width="5.4" stroke-linecap="round" stroke-linejoin="round"/>
<path d="M2263.3 1351.2C2262.7 1350.1 2260.2 1346.8 2259.5 1344.1C2258.8 1341.5 2259.5 1338.4 2259.1 1335.4C2258.8 1332.3 2258.7 1328.5 2257.4 1325.8C2256.1 1323.1 2253.8 1320.6 2251.2 1319.2C2248.5 1317.9 2244.9 1318.1 2241.6 1317.5C2238.2 1316.9 2234.7 1316.9 2231.2 1315.8C2227.6 1314.8 2223 1313.4 2220.4 1311C2217.7 1308.6 2215.7 1304 2215.4 1301.3C2215.1 1298.5 2217.9 1295.7 2218.4 1294.5" fill="none" stroke="#6b84c4" stroke-width="5.4" stroke-linecap="round" stroke-linejoin="round"/>
<path d="M2236 1363.4C2235.9 1362.1 2235 1358.1 2235.4 1355.4C2235.8 1352.7 2237.7 1350.1 2238.6 1347.2C2239.5 1344.3 2241 1340.8 2240.9 1337.8C2240.8 1334.8 2239.8 1331.6 2237.9 1329.3C2236.1 1326.9 2232.6 1325.6 2229.8 1323.8C2227 1321.9 2223.8 1320.4 2221 1318C2218.2 1315.6 2214.5 1312.5 2213.1 1309.2C2211.7 1305.9 2211.7 1300.9 2212.5 1298.3C2213.3 1295.7 2217.1 1294.2 2218 1293.4" fill="none" stroke="#6b84c4" stroke-width="5.4" stroke-linecap="round" stroke-linejoin="round"/>
<path d="M2206 1363.4C2206.5 1362.2 2207.3 1358.1 2208.8 1355.8C2210.3 1353.5 2213 1352 2215 1349.7C2217.1 1347.4 2219.9 1344.8 2221 1342C2222.1 1339.2 2222.4 1335.9 2221.7 1333C2221 1330.1 2218.4 1327.5 2216.5 1324.7C2214.7 1321.8 2212.4 1319.2 2210.8 1315.8C2209.3 1312.5 2207.2 1308.1 2207.2 1304.6C2207.3 1301 2209.3 1296.5 2211.1 1294.4C2212.9 1292.3 2217 1292.5 2218.1 1292.1" fill="none" stroke="#6b84c4" stroke-width="5.4" stroke-linecap="round" stroke-linejoin="round"/>
<path d="M2178.7 1351.2C2179.6 1350.3 2182 1346.9 2184.3 1345.4C2186.6 1343.9 2189.7 1343.6 2192.5 1342.4C2195.3 1341.1 2198.9 1339.9 2201.1 1337.8C2203.2 1335.7 2204.9 1332.8 2205.4 1329.8C2205.9 1326.9 2204.5 1323.5 2204 1320.1C2203.6 1316.8 2202.5 1313.4 2202.4 1309.7C2202.4 1306 2202.2 1301.2 2203.7 1298C2205.2 1294.7 2208.9 1291.4 2211.4 1290.2C2213.9 1289.1 2217.5 1290.9 2218.7 1291" fill="none" stroke="#6b84c4" stroke-width="5.4" stroke-linecap="round" stroke-linejoin="round"/>
<path d="M2158.6 1329C2159.9 1328.5 2163.4 1326.4 2166.1 1326C2168.8 1325.5 2171.8 1326.5 2174.9 1326.5C2178 1326.5 2181.8 1326.8 2184.6 1325.8C2187.4 1324.8 2190.1 1322.8 2191.7 1320.3C2193.4 1317.8 2193.6 1314.2 2194.5 1310.9C2195.4 1307.6 2195.8 1304.1 2197.2 1300.7C2198.7 1297.3 2200.5 1292.9 2203.2 1290.5C2205.9 1288.1 2210.6 1286.6 2213.3 1286.6C2216.1 1286.5 2218.7 1289.7 2219.7 1290.3" fill="none" stroke="#6b84c4" stroke-width="5.4" stroke-linecap="round" stroke-linejoin="round"/>
<path d="M2149.4 1300.5C2150.7 1300.6 2154.8 1300.1 2157.5 1300.8C2160.1 1301.5 2162.4 1303.6 2165.2 1304.9C2168.1 1306.1 2171.4 1307.9 2174.4 1308.1C2177.4 1308.3 2180.7 1307.6 2183.2 1306C2185.7 1304.4 2187.3 1301.2 2189.5 1298.6C2191.6 1296 2193.4 1292.9 2196.1 1290.4C2198.8 1287.9 2202.3 1284.5 2205.7 1283.5C2209.1 1282.4 2214.1 1282.9 2216.6 1284C2219.2 1285.1 2220.2 1289 2220.9 1290" fill="none" stroke="#6b84c4" stroke-width="5.4" stroke-linecap="round" stroke-linejoin="round"/>
<path d="M2152.5 1270.8C2153.7 1271.3 2157.7 1272.6 2159.8 1274.3C2161.9 1276 2163.2 1278.9 2165.2 1281.1C2167.3 1283.4 2169.6 1286.5 2172.3 1287.9C2174.9 1289.3 2178.2 1290 2181.2 1289.5C2184.1 1289.1 2186.9 1286.8 2190 1285.3C2193 1283.8 2195.9 1281.7 2199.3 1280.5C2202.8 1279.3 2207.4 1277.7 2210.9 1278.1C2214.5 1278.5 2218.8 1281 2220.7 1283C2222.5 1285 2221.9 1289 2222.2 1290.2" fill="none" stroke="#6b84c4" stroke-width="5.4" stroke-linecap="round" stroke-linejoin="round"/>
<path d="M2167.5 1244.8C2168.4 1245.9 2171.5 1248.6 2172.7 1251C2173.9 1253.5 2173.9 1256.6 2174.9 1259.5C2175.9 1262.4 2176.7 1266.1 2178.6 1268.5C2180.4 1270.9 2183.1 1272.8 2186 1273.6C2188.9 1274.4 2192.4 1273.4 2195.8 1273.3C2199.2 1273.2 2202.6 1272.4 2206.3 1272.8C2210 1273.1 2214.8 1273.4 2217.9 1275.3C2220.9 1277.1 2223.9 1281.1 2224.7 1283.7C2225.6 1286.3 2223.5 1289.7 2223.2 1291" fill="none" stroke="#6b84c4" stroke-width="5.4" stroke-linecap="round" stroke-linejoin="round"/>
<path d="M2191.7 1227.2C2192.1 1228.5 2193.8 1232.3 2194 1235C2194.1 1237.7 2192.8 1240.6 2192.5 1243.6C2192.2 1246.7 2191.5 1250.5 2192.2 1253.4C2192.9 1256.3 2194.6 1259.2 2196.9 1261.1C2199.2 1263 2202.8 1263.5 2206 1264.7C2209.1 1266 2212.6 1266.7 2215.8 1268.5C2219 1270.3 2223.3 1272.6 2225.4 1275.5C2227.4 1278.5 2228.4 1283.3 2228.2 1286.1C2227.9 1288.8 2224.6 1291 2223.8 1292" fill="none" stroke="#6b84c4" stroke-width="5.4" stroke-linecap="round" stroke-linejoin="round"/>
<circle cx="2221" cy="1293" r="21" fill="#6b84c4" stroke="none" stroke-width="0"/>
<circle cx="2221" cy="1293" r="1.2" fill="#c9d2ee" stroke="none" stroke-width="0"/>
<g transform="translate(2221 1101.6) rotate(90) scale(0.742)" stroke="#000" stroke-width="2.96" stroke-linejoin="round"><path d="M100 -17.5L147 -17.5A16 17.5 0 0 1 147 17.5L100 17.5Q95 17.5 95 12.5L95 -12.5Q95 -17.5 100 -17.5Z" fill="url(#sPer)"/><path d="M55.6 -30.1Q65 -35.8 74.4 -30.1L85.6 -23.2Q95 -17.5 95 -6.5L95 6.5Q95 17.5 85.6 23.2L74.4 30.1Q65 35.8 55.6 30.1L43.9 23.2Q34.5 17.5 34.5 6.5L34.5 -6.5Q34.5 -17.5 43.9 -23.2Z" fill="url(#sPer)"/><path d="M0 0L-33.3 -6.8A34 34 0 1 1 -33.3 6.8Z" fill="url(#sTea)" stroke-linejoin="miter"/></g>
<g transform="translate(2298.8 1118.1) rotate(114) scale(0.742)" stroke="#000" stroke-width="2.96" stroke-linejoin="round"><path d="M100 -17.5L147 -17.5A16 17.5 0 0 1 147 17.5L100 17.5Q95 17.5 95 12.5L95 -12.5Q95 -17.5 100 -17.5Z" fill="url(#sPer)"/><path d="M55.6 -30.1Q65 -35.8 74.4 -30.1L85.6 -23.2Q95 -17.5 95 -6.5L95 6.5Q95 17.5 85.6 23.2L74.4 30.1Q65 35.8 55.6 30.1L43.9 23.2Q34.5 17.5 34.5 6.5L34.5 -6.5Q34.5 -17.5 43.9 -23.2Z" fill="url(#sPer)"/><path d="M0 0L-33.3 -6.8A34 34 0 1 1 -33.3 6.8Z" fill="url(#sTea)" stroke-linejoin="miter"/></g>
<g transform="translate(2363.2 1164.9) rotate(138) scale(0.742)" stroke="#000" stroke-width="2.96" stroke-linejoin="round"><path d="M100 -17.5L147 -17.5A16 17.5 0 0 1 147 17.5L100 17.5Q95 17.5 95 12.5L95 -12.5Q95 -17.5 100 -17.5Z" fill="url(#sPer)"/><path d="M55.6 -30.1Q65 -35.8 74.4 -30.1L85.6 -23.2Q95 -17.5 95 -6.5L95 6.5Q95 17.5 85.6 23.2L74.4 30.1Q65 35.8 55.6 30.1L43.9 23.2Q34.5 17.5 34.5 6.5L34.5 -6.5Q34.5 -17.5 43.9 -23.2Z" fill="url(#sPer)"/><path d="M0 0L-33.3 -6.8A34 34 0 1 1 -33.3 6.8Z" fill="url(#sTea)" stroke-linejoin="miter"/></g>
<g transform="translate(2403 1233.9) rotate(162) scale(0.742)" stroke="#000" stroke-width="2.96" stroke-linejoin="round"><path d="M100 -17.5L147 -17.5A16 17.5 0 0 1 147 17.5L100 17.5Q95 17.5 95 12.5L95 -12.5Q95 -17.5 100 -17.5Z" fill="url(#sPer)"/><path d="M55.6 -30.1Q65 -35.8 74.4 -30.1L85.6 -23.2Q95 -17.5 95 -6.5L95 6.5Q95 17.5 85.6 23.2L74.4 30.1Q65 35.8 55.6 30.1L43.9 23.2Q34.5 17.5 34.5 6.5L34.5 -6.5Q34.5 -17.5 43.9 -23.2Z" fill="url(#sPer)"/><path d="M0 0L-33.3 -6.8A34 34 0 1 1 -33.3 6.8Z" fill="url(#sTea)" stroke-linejoin="miter"/></g>
<g transform="translate(2411.4 1313) rotate(186) scale(0.742)" stroke="#000" stroke-width="2.96" stroke-linejoin="round"><path d="M100 -17.5L147 -17.5A16 17.5 0 0 1 147 17.5L100 17.5Q95 17.5 95 12.5L95 -12.5Q95 -17.5 100 -17.5Z" fill="url(#sPer)"/><path d="M55.6 -30.1Q65 -35.8 74.4 -30.1L85.6 -23.2Q95 -17.5 95 -6.5L95 6.5Q95 17.5 85.6 23.2L74.4 30.1Q65 35.8 55.6 30.1L43.9 23.2Q34.5 17.5 34.5 6.5L34.5 -6.5Q34.5 -17.5 43.9 -23.2Z" fill="url(#sPer)"/><path d="M0 0L-33.3 -6.8A34 34 0 1 1 -33.3 6.8Z" fill="url(#sTea)" stroke-linejoin="miter"/></g>
<g transform="translate(2386.8 1388.7) rotate(210) scale(0.742)" stroke="#000" stroke-width="2.96" stroke-linejoin="round"><path d="M100 -17.5L147 -17.5A16 17.5 0 0 1 147 17.5L100 17.5Q95 17.5 95 12.5L95 -12.5Q95 -17.5 100 -17.5Z" fill="url(#sPer)"/><path d="M55.6 -30.1Q65 -35.8 74.4 -30.1L85.6 -23.2Q95 -17.5 95 -6.5L95 6.5Q95 17.5 85.6 23.2L74.4 30.1Q65 35.8 55.6 30.1L43.9 23.2Q34.5 17.5 34.5 6.5L34.5 -6.5Q34.5 -17.5 43.9 -23.2Z" fill="url(#sPer)"/><path d="M0 0L-33.3 -6.8A34 34 0 1 1 -33.3 6.8Z" fill="url(#sTea)" stroke-linejoin="miter"/></g>
<g transform="translate(2333.5 1447.8) rotate(234) scale(0.742)" stroke="#000" stroke-width="2.96" stroke-linejoin="round"><path d="M100 -17.5L147 -17.5A16 17.5 0 0 1 147 17.5L100 17.5Q95 17.5 95 12.5L95 -12.5Q95 -17.5 100 -17.5Z" fill="url(#sPer)"/><path d="M55.6 -30.1Q65 -35.8 74.4 -30.1L85.6 -23.2Q95 -17.5 95 -6.5L95 6.5Q95 17.5 85.6 23.2L74.4 30.1Q65 35.8 55.6 30.1L43.9 23.2Q34.5 17.5 34.5 6.5L34.5 -6.5Q34.5 -17.5 43.9 -23.2Z" fill="url(#sPer)"/><path d="M0 0L-33.3 -6.8A34 34 0 1 1 -33.3 6.8Z" fill="url(#sTea)" stroke-linejoin="miter"/></g>
<g transform="translate(2260.8 1480.2) rotate(258) scale(0.742)" stroke="#000" stroke-width="2.96" stroke-linejoin="round"><path d="M100 -17.5L147 -17.5A16 17.5 0 0 1 147 17.5L100 17.5Q95 17.5 95 12.5L95 -12.5Q95 -17.5 100 -17.5Z" fill="url(#sPer)"/><path d="M55.6 -30.1Q65 -35.8 74.4 -30.1L85.6 -23.2Q95 -17.5 95 -6.5L95 6.5Q95 17.5 85.6 23.2L74.4 30.1Q65 35.8 55.6 30.1L43.9 23.2Q34.5 17.5 34.5 6.5L34.5 -6.5Q34.5 -17.5 43.9 -23.2Z" fill="url(#sPer)"/><path d="M0 0L-33.3 -6.8A34 34 0 1 1 -33.3 6.8Z" fill="url(#sTea)" stroke-linejoin="miter"/></g>
<g transform="translate(2181.2 1480.2) rotate(282) scale(0.742)" stroke="#000" stroke-width="2.96" stroke-linejoin="round"><path d="M100 -17.5L147 -17.5A16 17.5 0 0 1 147 17.5L100 17.5Q95 17.5 95 12.5L95 -12.5Q95 -17.5 100 -17.5Z" fill="url(#sPer)"/><path d="M55.6 -30.1Q65 -35.8 74.4 -30.1L85.6 -23.2Q95 -17.5 95 -6.5L95 6.5Q95 17.5 85.6 23.2L74.4 30.1Q65 35.8 55.6 30.1L43.9 23.2Q34.5 17.5 34.5 6.5L34.5 -6.5Q34.5 -17.5 43.9 -23.2Z" fill="url(#sPer)"/><path d="M0 0L-33.3 -6.8A34 34 0 1 1 -33.3 6.8Z" fill="url(#sTea)" stroke-linejoin="miter"/></g>
<g transform="translate(2108.5 1447.8) rotate(306) scale(0.742)" stroke="#000" stroke-width="2.96" stroke-linejoin="round"><path d="M100 -17.5L147 -17.5A16 17.5 0 0 1 147 17.5L100 17.5Q95 17.5 95 12.5L95 -12.5Q95 -17.5 100 -17.5Z" fill="url(#sPer)"/><path d="M55.6 -30.1Q65 -35.8 74.4 -30.1L85.6 -23.2Q95 -17.5 95 -6.5L95 6.5Q95 17.5 85.6 23.2L74.4 30.1Q65 35.8 55.6 30.1L43.9 23.2Q34.5 17.5 34.5 6.5L34.5 -6.5Q34.5 -17.5 43.9 -23.2Z" fill="url(#sPer)"/><path d="M0 0L-33.3 -6.8A34 34 0 1 1 -33.3 6.8Z" fill="url(#sTea)" stroke-linejoin="miter"/></g>
<g transform="translate(2055.2 1388.7) rotate(330) scale(0.742)" stroke="#000" stroke-width="2.96" stroke-linejoin="round"><path d="M100 -17.5L147 -17.5A16 17.5 0 0 1 147 17.5L100 17.5Q95 17.5 95 12.5L95 -12.5Q95 -17.5 100 -17.5Z" fill="url(#sPer)"/><path d="M55.6 -30.1Q65 -35.8 74.4 -30.1L85.6 -23.2Q95 -17.5 95 -6.5L95 6.5Q95 17.5 85.6 23.2L74.4 30.1Q65 35.8 55.6 30.1L43.9 23.2Q34.5 17.5 34.5 6.5L34.5 -6.5Q34.5 -17.5 43.9 -23.2Z" fill="url(#sPer)"/><path d="M0 0L-33.3 -6.8A34 34 0 1 1 -33.3 6.8Z" fill="url(#sTea)" stroke-linejoin="miter"/></g>
<g transform="translate(2030.6 1313) rotate(354) scale(0.742)" stroke="#000" stroke-width="2.96" stroke-linejoin="round"><path d="M100 -17.5L147 -17.5A16 17.5 0 0 1 147 17.5L100 17.5Q95 17.5 95 12.5L95 -12.5Q95 -17.5 100 -17.5Z" fill="url(#sPer)"/><path d="M55.6 -30.1Q65 -35.8 74.4 -30.1L85.6 -23.2Q95 -17.5 95 -6.5L95 6.5Q95 17.5 85.6 23.2L74.4 30.1Q65 35.8 55.6 30.1L43.9 23.2Q34.5 17.5 34.5 6.5L34.5 -6.5Q34.5 -17.5 43.9 -23.2Z" fill="url(#sPer)"/><path d="M0 0L-33.3 -6.8A34 34 0 1 1 -33.3 6.8Z" fill="url(#sTea)" stroke-linejoin="miter"/></g>
<g transform="translate(2039 1233.9) rotate(378) scale(0.742)" stroke="#000" stroke-width="2.96" stroke-linejoin="round"><path d="M100 -17.5L147 -17.5A16 17.5 0 0 1 147 17.5L100 17.5Q95 17.5 95 12.5L95 -12.5Q95 -17.5 100 -17.5Z" fill="url(#sPer)"/><path d="M55.6 -30.1Q65 -35.8 74.4 -30.1L85.6 -23.2Q95 -17.5 95 -6.5L95 6.5Q95 17.5 85.6 23.2L74.4 30.1Q65 35.8 55.6 30.1L43.9 23.2Q34.5 17.5 34.5 6.5L34.5 -6.5Q34.5 -17.5 43.9 -23.2Z" fill="url(#sPer)"/><path d="M0 0L-33.3 -6.8A34 34 0 1 1 -33.3 6.8Z" fill="url(#sTea)" stroke-linejoin="miter"/></g>
<g transform="translate(2078.8 1164.9) rotate(402) scale(0.742)" stroke="#000" stroke-width="2.96" stroke-linejoin="round"><path d="M100 -17.5L147 -17.5A16 17.5 0 0 1 147 17.5L100 17.5Q95 17.5 95 12.5L95 -12.5Q95 -17.5 100 -17.5Z" fill="url(#sPer)"/><path d="M55.6 -30.1Q65 -35.8 74.4 -30.1L85.6 -23.2Q95 -17.5 95 -6.5L95 6.5Q95 17.5 85.6 23.2L74.4 30.1Q65 35.8 55.6 30.1L43.9 23.2Q34.5 17.5 34.5 6.5L34.5 -6.5Q34.5 -17.5 43.9 -23.2Z" fill="url(#sPer)"/><path d="M0 0L-33.3 -6.8A34 34 0 1 1 -33.3 6.8Z" fill="url(#sTea)" stroke-linejoin="miter"/></g>
<g transform="translate(2143.2 1118.1) rotate(426) scale(0.742)" stroke="#000" stroke-width="2.96" stroke-linejoin="round"><path d="M100 -17.5L147 -17.5A16 17.5 0 0 1 147 17.5L100 17.5Q95 17.5 95 12.5L95 -12.5Q95 -17.5 100 -17.5Z" fill="url(#sPer)"/><path d="M55.6 -30.1Q65 -35.8 74.4 -30.1L85.6 -23.2Q95 -17.5 95 -6.5L95 6.5Q95 17.5 85.6 23.2L74.4 30.1Q65 35.8 55.6 30.1L43.9 23.2Q34.5 17.5 34.5 6.5L34.5 -6.5Q34.5 -17.5 43.9 -23.2Z" fill="url(#sPer)"/><path d="M0 0L-33.3 -6.8A34 34 0 1 1 -33.3 6.8Z" fill="url(#sTea)" stroke-linejoin="miter"/></g>
<text x="2818" y="1080.2" font-size="54" text-anchor="middle">Healthy</text>
<text x="2818" y="1144.4" font-size="54" text-anchor="middle">brain</text>
<text x="3235.3" y="1080.2" font-size="54" text-anchor="middle">Neurodegenerative</text>
<text x="3235.3" y="1144.4" font-size="54" text-anchor="middle">disease</text>
<path d="M2818.2 1303.4C2817.8 1302.9 2816.6 1301.1 2815.9 1300.5C2815.3 1299.9 2814.3 1300.1 2813.9 1299.3C2813.5 1298.5 2813.8 1296.8 2813.4 1295.2C2812.9 1293.6 2811.2 1291.3 2811 1288.6C2810.9 1285.8 2812.1 1281.4 2812.3 1276.8C2812.6 1272.3 2812.9 1261.7 2812.6 1258.5C2812.2 1255.2 2810.2 1256.5 2810.2 1255C2810.2 1253.5 2812.4 1250.8 2812.9 1248.3C2813.3 1245.7 2813 1241.4 2813.1 1238.1C2813.2 1234.8 2813.1 1229.2 2813.5 1226.3C2813.8 1223.4 2815 1221.7 2815.4 1218.7C2815.8 1215.7 2816.4 1209.2 2816.1 1206.4C2815.9 1203.7 2814.8 1201.6 2813.9 1200.3C2812.9 1199 2811.3 1198.2 2809.8 1197.8C2808.3 1197.3 2806.1 1197.1 2803.7 1197.3C2801.2 1197.6 2796.5 1198.6 2793.5 1199.3C2790.4 1200 2786.3 1201 2783.3 1201.8C2780.2 1202.6 2775.7 1204 2773.1 1204.6C2770.5 1205.2 2769 1205.2 2765.9 1205.9C2762.9 1206.7 2756.6 1208.2 2752.7 1209.5C2748.7 1210.8 2742.4 1212.9 2739.4 1214.6C2736.3 1216.3 2734.4 1219.8 2732.2 1220.9C2730.1 1222 2728.2 1221.2 2725.1 1221.7C2722 1222.3 2715.5 1223.3 2711.8 1224.8C2708.2 1226.3 2703.4 1229.2 2700.6 1231.9C2697.8 1234.7 2694.5 1241.1 2693 1243.4C2691.4 1245.6 2692.2 1245.2 2690.4 1246.7C2688.6 1248.2 2683.8 1250.8 2681.2 1253.4C2678.6 1255.9 2674.6 1260.8 2673.1 1263.6C2671.5 1266.4 2671.8 1270.6 2671 1271.9C2670.3 1273.3 2669.5 1271.9 2668 1272.8C2666.4 1273.6 2662.7 1275.9 2660.8 1277.9C2659 1279.8 2656.7 1283.2 2655.7 1286C2654.7 1288.8 2654.9 1294.6 2654.2 1296.4C2653.4 1298.3 2651.8 1296.6 2650.6 1298.3C2649.5 1299.9 2647.4 1304.1 2646.5 1307.4C2645.7 1310.8 2645.2 1316.9 2645 1320.7C2644.8 1324.5 2645.1 1329.4 2645.5 1333C2646 1336.5 2647 1341.6 2648 1344.1C2649 1346.6 2653.1 1347.7 2652.5 1349.7C2651.8 1351.7 2645.4 1354.3 2643.5 1357.5C2641.7 1360.7 2640 1367.1 2640.2 1370.9C2640.4 1374.8 2645 1380.7 2644.6 1383.2C2644.3 1385.7 2639.7 1384.5 2638 1387.7C2636.2 1390.8 2633.5 1399.5 2633 1404.4C2632.5 1409.3 2633.4 1416 2634.6 1420C2635.8 1424 2640 1427.8 2641.3 1431.2C2642.6 1434.5 2642.5 1439 2643.5 1442.4C2644.5 1445.7 2646.5 1450.8 2648 1453.5C2649.5 1456.2 2652.9 1457.5 2653.6 1460.2C2654.2 1462.9 2651.5 1468 2652.5 1471.4C2653.5 1474.7 2656.8 1480.4 2660.3 1482.5C2663.8 1484.7 2672.6 1485.4 2675.9 1485.9C2679.2 1486.4 2679.9 1485 2682.6 1485.9C2685.3 1486.7 2689.4 1490.4 2693.8 1491.5C2698.1 1492.5 2706.6 1493 2711.6 1493C2716.6 1493 2723.4 1492.7 2727.2 1491.5C2731.1 1490.2 2735.5 1486.9 2737.3 1484.8C2739.1 1482.6 2739.4 1479 2739.5 1477C2739.6 1474.9 2736.1 1473.2 2738 1471.4C2739.8 1469.5 2748.4 1467.4 2751.8 1464.7C2755.2 1462 2758.1 1457.5 2760.7 1453.5C2763.4 1449.5 2767.3 1442.2 2769.7 1437.9C2772 1433.5 2775.9 1427.8 2776.4 1424.5C2776.9 1421.1 2774.7 1418.2 2773 1415.6C2771.3 1412.9 2767.7 1408.6 2765.2 1406.6C2762.7 1404.6 2757.9 1403.3 2756.3 1402.2C2754.6 1401 2754 1399.6 2754 1398.8C2754.1 1398.1 2755 1397.1 2756.7 1397C2758.4 1396.9 2761.9 1397 2765.2 1398.2C2768.5 1399.3 2774.9 1402.9 2778.6 1404.4C2782.3 1405.9 2786.4 1407.9 2789.8 1408.4C2793.1 1408.9 2797.6 1407 2800.9 1407.7C2804.3 1408.5 2809.5 1412.2 2812.1 1413.3C2814.7 1414.5 2816.5 1415.6 2818.4 1415.6C2820.3 1415.6 2822.1 1414.5 2824.7 1413.3C2827.3 1412.2 2832.5 1408.5 2835.9 1407.7C2839.2 1407 2843.7 1408.9 2847 1408.4C2850.4 1407.9 2854.5 1405.9 2858.2 1404.4C2861.9 1402.9 2868.3 1399.3 2871.6 1398.2C2874.9 1397 2878.4 1396.9 2880.1 1397C2881.8 1397.1 2882.7 1398.1 2882.8 1398.8C2882.8 1399.6 2882.2 1401 2880.5 1402.2C2878.9 1403.3 2874.1 1404.6 2871.6 1406.6C2869.1 1408.6 2865.5 1412.9 2863.8 1415.6C2862.1 1418.2 2859.9 1421.1 2860.4 1424.5C2860.9 1427.8 2864.8 1433.5 2867.1 1437.9C2869.5 1442.2 2873.4 1449.5 2876.1 1453.5C2878.7 1457.5 2881.6 1462 2885 1464.7C2888.4 1467.4 2897 1469.5 2898.8 1471.4C2900.7 1473.2 2897.2 1474.9 2897.3 1477C2897.4 1479 2897.7 1482.6 2899.5 1484.8C2901.3 1486.9 2905.7 1490.2 2909.6 1491.5C2913.4 1492.7 2920.2 1493 2925.2 1493C2930.2 1493 2938.7 1492.5 2943 1491.5C2947.4 1490.4 2951.5 1486.7 2954.2 1485.9C2956.9 1485 2957.6 1486.4 2960.9 1485.9C2964.2 1485.4 2973 1484.7 2976.5 1482.5C2980 1480.4 2983.3 1474.7 2984.3 1471.4C2985.3 1468 2982.6 1462.9 2983.2 1460.2C2983.9 1457.5 2987.3 1456.2 2988.8 1453.5C2990.3 1450.8 2992.3 1445.7 2993.3 1442.4C2994.3 1439 2994.2 1434.5 2995.5 1431.2C2996.8 1427.8 3001 1424 3002.2 1420C3003.4 1416 3004.3 1409.3 3003.8 1404.4C3003.3 1399.5 3000.6 1390.8 2998.8 1387.7C2997.1 1384.5 2992.5 1385.7 2992.2 1383.2C2991.8 1380.7 2996.4 1374.8 2996.6 1370.9C2996.8 1367.1 2995.1 1360.7 2993.3 1357.5C2991.4 1354.3 2985 1351.7 2984.3 1349.7C2983.7 1347.7 2987.8 1346.6 2988.8 1344.1C2989.8 1341.6 2990.8 1336.5 2991.3 1333C2991.7 1329.4 2992 1324.5 2991.8 1320.7C2991.6 1316.9 2991.1 1310.8 2990.3 1307.4C2989.4 1304.1 2987.3 1299.9 2986.2 1298.3C2985 1296.6 2983.4 1298.3 2982.6 1296.4C2981.9 1294.6 2982.1 1288.8 2981.1 1286C2980.1 1283.2 2977.8 1279.8 2976 1277.9C2974.1 1275.9 2970.4 1273.6 2968.8 1272.8C2967.3 1271.9 2966.5 1273.3 2965.8 1271.9C2965 1270.6 2965.3 1266.4 2963.7 1263.6C2962.2 1260.8 2958.2 1255.9 2955.6 1253.4C2953 1250.8 2948.2 1248.2 2946.4 1246.7C2944.6 1245.2 2945.4 1245.6 2943.8 1243.4C2942.3 1241.1 2939 1234.7 2936.2 1231.9C2933.4 1229.2 2928.6 1226.3 2925 1224.8C2921.3 1223.3 2914.8 1222.3 2911.7 1221.7C2908.6 1221.2 2906.7 1222 2904.6 1220.9C2902.4 1219.8 2900.5 1216.3 2897.4 1214.6C2894.4 1212.9 2888.1 1210.8 2884.1 1209.5C2880.2 1208.2 2873.9 1206.7 2870.9 1205.9C2867.8 1205.2 2866.3 1205.2 2863.7 1204.6C2861.1 1204 2856.6 1202.6 2853.5 1201.8C2850.5 1201 2846.4 1200 2843.3 1199.3C2840.3 1198.6 2835.6 1197.6 2833.1 1197.3C2830.7 1197.1 2828.5 1197.3 2827 1197.8C2825.5 1198.2 2823.9 1199 2822.9 1200.3C2822 1201.6 2820.9 1203.7 2820.7 1206.4C2820.4 1209.2 2821 1215.7 2821.4 1218.7C2821.8 1221.7 2823 1223.4 2823.3 1226.3C2823.7 1229.2 2823.6 1234.8 2823.7 1238.1C2823.8 1241.4 2823.5 1245.7 2823.9 1248.3C2824.4 1250.8 2826.6 1253.5 2826.6 1255C2826.6 1256.5 2824.6 1255.2 2824.2 1258.5C2823.9 1261.7 2824.2 1272.3 2824.5 1276.8C2824.7 1281.4 2825.9 1285.8 2825.8 1288.6C2825.6 1291.3 2823.9 1293.6 2823.4 1295.2C2823 1296.8 2823.3 1298.5 2822.9 1299.3C2822.5 1300.1 2821.5 1299.9 2820.9 1300.5C2820.2 1301.1 2819 1302.9 2818.6 1303.4C2818.2 1303.8 2818.6 1303.8 2818.2 1303.4Z" fill="#f2e1e2"/>
<g clip-path="url(#cpH)"><g fill="none" stroke="#f1c6c9" stroke-linecap="round" stroke-linejoin="round" filter="url(#fB)"><path d="M2818.2 1303.4C2817.8 1302.9 2816.6 1301.1 2815.9 1300.5C2815.3 1299.9 2814.3 1300.1 2813.9 1299.3C2813.5 1298.5 2813.8 1296.8 2813.4 1295.2C2812.9 1293.6 2811.2 1291.3 2811 1288.6C2810.9 1285.8 2812.1 1281.4 2812.3 1276.8C2812.6 1272.3 2812.9 1261.7 2812.6 1258.5C2812.2 1255.2 2810.2 1256.5 2810.2 1255C2810.2 1253.5 2812.4 1250.8 2812.9 1248.3C2813.3 1245.7 2813 1241.4 2813.1 1238.1C2813.2 1234.8 2813.1 1229.2 2813.5 1226.3C2813.8 1223.4 2815 1221.7 2815.4 1218.7C2815.8 1215.7 2816.4 1209.2 2816.1 1206.4C2815.9 1203.7 2814.8 1201.6 2813.9 1200.3C2812.9 1199 2811.3 1198.2 2809.8 1197.8C2808.3 1197.3 2806.1 1197.1 2803.7 1197.3C2801.2 1197.6 2796.5 1198.6 2793.5 1199.3C2790.4 1200 2786.3 1201 2783.3 1201.8C2780.2 1202.6 2775.7 1204 2773.1 1204.6C2770.5 1205.2 2769 1205.2 2765.9 1205.9C2762.9 1206.7 2756.6 1208.2 2752.7 1209.5C2748.7 1210.8 2742.4 1212.9 2739.4 1214.6C2736.3 1216.3 2734.4 1219.8 2732.2 1220.9C2730.1 1222 2728.2 1221.2 2725.1 1221.7C2722 1222.3 2715.5 1223.3 2711.8 1224.8C2708.2 1226.3 2703.4 1229.2 2700.6 1231.9C2697.8 1234.7 2694.5 1241.1 2693 1243.4C2691.4 1245.6 2692.2 1245.2 2690.4 1246.7C2688.6 1248.2 2683.8 1250.8 2681.2 1253.4C2678.6 1255.9 2674.6 1260.8 2673.1 1263.6C2671.5 1266.4 2671.8 1270.6 2671 1271.9C2670.3 1273.3 2669.5 1271.9 2668 1272.8C2666.4 1273.6 2662.7 1275.9 2660.8 1277.9C2659 1279.8 2656.7 1283.2 2655.7 1286C2654.7 1288.8 2654.9 1294.6 2654.2 1296.4C2653.4 1298.3 2651.8 1296.6 2650.6 1298.3C2649.5 1299.9 2647.4 1304.1 2646.5 1307.4C2645.7 1310.8 2645.2 1316.9 2645 1320.7C2644.8 1324.5 2645.1 1329.4 2645.5 1333C2646 1336.5 2647 1341.6 2648 1344.1C2649 1346.6 2653.1 1347.7 2652.5 1349.7C2651.8 1351.7 2645.4 1354.3 2643.5 1357.5C2641.7 1360.7 2640 1367.1 2640.2 1370.9C2640.4 1374.8 2645 1380.7 2644.6 1383.2C2644.3 1385.7 2639.7 1384.5 2638 1387.7C2636.2 1390.8 2633.5 1399.5 2633 1404.4C2632.5 1409.3 2633.4 1416 2634.6 1420C2635.8 1424 2640 1427.8 2641.3 1431.2C2642.6 1434.5 2642.5 1439 2643.5 1442.4C2644.5 1445.7 2646.5 1450.8 2648 1453.5C2649.5 1456.2 2652.9 1457.5 2653.6 1460.2C2654.2 1462.9 2651.5 1468 2652.5 1471.4C2653.5 1474.7 2656.8 1480.4 2660.3 1482.5C2663.8 1484.7 2672.6 1485.4 2675.9 1485.9C2679.2 1486.4 2679.9 1485 2682.6 1485.9C2685.3 1486.7 2689.4 1490.4 2693.8 1491.5C2698.1 1492.5 2706.6 1493 2711.6 1493C2716.6 1493 2723.4 1492.7 2727.2 1491.5C2731.1 1490.2 2735.5 1486.9 2737.3 1484.8C2739.1 1482.6 2739.4 1479 2739.5 1477C2739.6 1474.9 2736.1 1473.2 2738 1471.4C2739.8 1469.5 2748.4 1467.4 2751.8 1464.7C2755.2 1462 2758.1 1457.5 2760.7 1453.5C2763.4 1449.5 2767.3 1442.2 2769.7 1437.9C2772 1433.5 2775.9 1427.8 2776.4 1424.5C2776.9 1421.1 2774.7 1418.2 2773 1415.6C2771.3 1412.9 2767.7 1408.6 2765.2 1406.6C2762.7 1404.6 2757.6 1402.8 2756.3 1402.2M2818.6 1303.4C2819 1302.9 2820.2 1301.1 2820.9 1300.5C2821.5 1299.9 2822.5 1300.1 2822.9 1299.3C2823.3 1298.5 2823 1296.8 2823.4 1295.2C2823.9 1293.6 2825.6 1291.3 2825.8 1288.6C2825.9 1285.8 2824.7 1281.4 2824.5 1276.8C2824.2 1272.3 2823.9 1261.7 2824.2 1258.5C2824.6 1255.2 2826.6 1256.5 2826.6 1255C2826.6 1253.5 2824.4 1250.8 2823.9 1248.3C2823.5 1245.7 2823.8 1241.4 2823.7 1238.1C2823.6 1234.8 2823.7 1229.2 2823.3 1226.3C2823 1223.4 2821.8 1221.7 2821.4 1218.7C2821 1215.7 2820.4 1209.2 2820.7 1206.4C2820.9 1203.7 2822 1201.6 2822.9 1200.3C2823.9 1199 2825.5 1198.2 2827 1197.8C2828.5 1197.3 2830.7 1197.1 2833.1 1197.3C2835.6 1197.6 2840.3 1198.6 2843.3 1199.3C2846.4 1200 2850.5 1201 2853.5 1201.8C2856.6 1202.6 2861.1 1204 2863.7 1204.6C2866.3 1205.2 2867.8 1205.2 2870.9 1205.9C2873.9 1206.7 2880.2 1208.2 2884.1 1209.5C2888.1 1210.8 2894.4 1212.9 2897.4 1214.6C2900.5 1216.3 2902.4 1219.8 2904.6 1220.9C2906.7 1222 2908.6 1221.2 2911.7 1221.7C2914.8 1222.3 2921.3 1223.3 2925 1224.8C2928.6 1226.3 2933.4 1229.2 2936.2 1231.9C2939 1234.7 2942.3 1241.1 2943.8 1243.4C2945.4 1245.6 2944.6 1245.2 2946.4 1246.7C2948.2 1248.2 2953 1250.8 2955.6 1253.4C2958.2 1255.9 2962.2 1260.8 2963.7 1263.6C2965.3 1266.4 2965 1270.6 2965.8 1271.9C2966.5 1273.3 2967.3 1271.9 2968.8 1272.8C2970.4 1273.6 2974.1 1275.9 2976 1277.9C2977.8 1279.8 2980.1 1283.2 2981.1 1286C2982.1 1288.8 2981.9 1294.6 2982.6 1296.4C2983.4 1298.3 2985 1296.6 2986.2 1298.3C2987.3 1299.9 2989.4 1304.1 2990.3 1307.4C2991.1 1310.8 2991.6 1316.9 2991.8 1320.7C2992 1324.5 2991.7 1329.4 2991.3 1333C2990.8 1336.5 2989.8 1341.6 2988.8 1344.1C2987.8 1346.6 2983.7 1347.7 2984.3 1349.7C2985 1351.7 2991.4 1354.3 2993.3 1357.5C2995.1 1360.7 2996.8 1367.1 2996.6 1370.9C2996.4 1374.8 2991.8 1380.7 2992.2 1383.2C2992.5 1385.7 2997.1 1384.5 2998.8 1387.7C3000.6 1390.8 3003.3 1399.5 3003.8 1404.4C3004.3 1409.3 3003.4 1416 3002.2 1420C3001 1424 2996.8 1427.8 2995.5 1431.2C2994.2 1434.5 2994.3 1439 2993.3 1442.4C2992.3 1445.7 2990.3 1450.8 2988.8 1453.5C2987.3 1456.2 2983.9 1457.5 2983.2 1460.2C2982.6 1462.9 2985.3 1468 2984.3 1471.4C2983.3 1474.7 2980 1480.4 2976.5 1482.5C2973 1484.7 2964.2 1485.4 2960.9 1485.9C2957.6 1486.4 2956.9 1485 2954.2 1485.9C2951.5 1486.7 2947.4 1490.4 2943 1491.5C2938.7 1492.5 2930.2 1493 2925.2 1493C2920.2 1493 2913.4 1492.7 2909.6 1491.5C2905.7 1490.2 2901.3 1486.9 2899.5 1484.8C2897.7 1482.6 2897.4 1479 2897.3 1477C2897.2 1474.9 2900.7 1473.2 2898.8 1471.4C2897 1469.5 2888.4 1467.4 2885 1464.7C2881.6 1462 2878.7 1457.5 2876.1 1453.5C2873.4 1449.5 2869.5 1442.2 2867.1 1437.9C2864.8 1433.5 2860.9 1427.8 2860.4 1424.5C2859.9 1421.1 2862.1 1418.2 2863.8 1415.6C2865.5 1412.9 2869.1 1408.6 2871.6 1406.6C2874.1 1404.6 2879.2 1402.8 2880.5 1402.2" stroke-width="24"/><path d="M2772.6 1204.9C2773.3 1206 2776.2 1208.4 2777.1 1211.5C2778 1214.7 2778.4 1219.4 2778 1223.8C2777.5 1228.2 2775.2 1235.7 2774.6 1238.1M2864.2 1204.9C2863.5 1206 2860.6 1208.4 2859.7 1211.5C2858.8 1214.7 2858.4 1219.4 2858.8 1223.8C2859.3 1228.2 2861.6 1235.7 2862.2 1238.1M2732.2 1221.2C2732.8 1222.8 2734.3 1227.9 2735.3 1230.9C2736.3 1234 2737.9 1238.1 2738.4 1239.6M2904.6 1221.2C2904 1222.8 2902.5 1227.9 2901.5 1230.9C2900.5 1234 2898.9 1238.1 2898.4 1239.6M2693 1244.2C2693.1 1245.9 2693.5 1251.2 2694 1254.4C2694.5 1257.6 2694.2 1260.7 2696 1263.6C2697.8 1266.5 2701.7 1269.2 2704.7 1271.7C2707.7 1274.3 2711.2 1277.1 2713.9 1278.9C2716.5 1280.7 2718.3 1282.1 2720.5 1282.4C2722.7 1282.8 2725.3 1281.4 2727.1 1280.9C2729 1280.4 2731 1279.6 2731.7 1279.4M2943.8 1244.2C2943.7 1245.9 2943.3 1251.2 2942.8 1254.4C2942.3 1257.6 2942.6 1260.7 2940.8 1263.6C2939 1266.5 2935.1 1269.2 2932.1 1271.7C2929.1 1274.3 2925.6 1277.1 2922.9 1278.9C2920.3 1280.7 2918.5 1282.1 2916.3 1282.4C2914.1 1282.8 2911.5 1281.4 2909.7 1280.9C2907.8 1280.4 2905.8 1279.6 2905.1 1279.4M2671 1272.8C2671.9 1273.5 2674.4 1276 2676.1 1277.3C2677.8 1278.7 2679.5 1280.3 2681.2 1280.9C2682.9 1281.5 2684.9 1281 2686.3 1280.9C2687.8 1280.8 2689.3 1280.5 2689.9 1280.4M2965.8 1272.8C2964.9 1273.5 2962.4 1276 2960.7 1277.3C2959 1278.7 2957.3 1280.3 2955.6 1280.9C2953.9 1281.5 2951.9 1281 2950.5 1280.9C2949 1280.8 2947.5 1280.5 2946.9 1280.4M2654.7 1296.7C2655.5 1296.7 2657.9 1296.3 2659.8 1296.7C2661.7 1297.2 2664.2 1298.5 2665.9 1299.3C2667.6 1300.1 2669.3 1301.2 2670 1301.6M2982.1 1296.7C2981.3 1296.7 2978.9 1296.3 2977 1296.7C2975.1 1297.2 2972.6 1298.5 2970.9 1299.3C2969.2 1300.1 2967.5 1301.2 2966.8 1301.6M2800.1 1227L2811.8 1227.9M2836.7 1227L2825 1227.9M2787.3 1267.7C2789.2 1266.6 2794.8 1263.6 2798.6 1261.5C2802.3 1259.5 2807.9 1256.4 2809.8 1255.4M2849.5 1267.7C2847.6 1266.6 2842 1263.6 2838.2 1261.5C2834.5 1259.5 2828.9 1256.4 2827 1255.4M2796 1292.7C2797.3 1292.2 2801.4 1290.7 2803.7 1290.1C2806 1289.5 2808.8 1289.3 2809.8 1289.1M2840.8 1292.7C2839.5 1292.2 2835.4 1290.7 2833.1 1290.1C2830.8 1289.5 2828 1289.3 2827 1289.1M2652.5 1349.7C2654.9 1349.4 2661.6 1348 2667 1348.1C2672.4 1348.3 2679.4 1349.7 2684.8 1350.4C2690.2 1351 2696.9 1351.7 2699.3 1351.9M2984.3 1349.7C2981.9 1349.4 2975.2 1348 2969.8 1348.1C2964.4 1348.3 2957.4 1349.7 2952 1350.4C2946.6 1351 2939.9 1351.7 2937.5 1351.9M2721.7 1325.2C2719.6 1326.8 2712.6 1331.7 2709.4 1335.2C2706.2 1338.7 2703.5 1342.5 2702.2 1346.4C2700.9 1350.3 2700.8 1354.6 2701.6 1358.6C2702.3 1362.7 2704.6 1367.9 2706.7 1370.5C2708.8 1373.1 2712.7 1372.4 2714.3 1374.3C2715.9 1376.1 2714.9 1377.9 2716.1 1381.6C2717.3 1385.4 2720.7 1394.1 2721.7 1396.6M2915.1 1325.2C2917.2 1326.8 2924.2 1331.7 2927.4 1335.2C2930.6 1338.7 2933.3 1342.5 2934.6 1346.4C2935.9 1350.3 2936 1354.6 2935.2 1358.6C2934.5 1362.7 2932.2 1367.9 2930.1 1370.5C2928 1373.1 2924.1 1372.4 2922.5 1374.3C2920.9 1376.1 2921.9 1377.9 2920.7 1381.6C2919.5 1385.4 2916.1 1394.1 2915.1 1396.6M2645.8 1383.9C2647.8 1384.1 2654.7 1386.1 2658 1385.4C2661.4 1384.8 2664.6 1380.8 2665.9 1379.8M2991 1383.9C2989 1384.1 2982.1 1386.1 2978.8 1385.4C2975.4 1384.8 2972.2 1380.8 2970.9 1379.8M2653.1 1389.9C2653.8 1391.4 2655 1396 2656.9 1398.8C2658.9 1401.6 2661.8 1404 2664.7 1406.6C2667.7 1409.2 2673.1 1413.1 2674.8 1414.4M2983.7 1389.9C2983 1391.4 2981.8 1396 2979.9 1398.8C2977.9 1401.6 2975 1404 2972.1 1406.6C2969.1 1409.2 2963.7 1413.1 2962 1414.4M2642.4 1431.2L2654.7 1425.6M2994.4 1431.2L2982.1 1425.6M2654.7 1460.2L2672.6 1451.7M2982.1 1460.2L2964.2 1451.7M2736.6 1470.3C2734.7 1468.6 2729 1463.8 2725 1460.2C2721 1456.6 2714.8 1450.5 2712.7 1448.6M2900.2 1470.3C2902.1 1468.6 2907.8 1463.8 2911.8 1460.2C2915.8 1456.6 2922 1450.5 2924.1 1448.6" stroke-width="20"/></g></g>
<path d="M2772.6 1204.9C2773.3 1206 2776.2 1208.4 2777.1 1211.5C2778 1214.7 2778.4 1219.4 2778 1223.8C2777.5 1228.2 2775.2 1235.7 2774.6 1238.1M2864.2 1204.9C2863.5 1206 2860.6 1208.4 2859.7 1211.5C2858.8 1214.7 2858.4 1219.4 2858.8 1223.8C2859.3 1228.2 2861.6 1235.7 2862.2 1238.1M2732.2 1221.2C2732.8 1222.8 2734.3 1227.9 2735.3 1230.9C2736.3 1234 2737.9 1238.1 2738.4 1239.6M2904.6 1221.2C2904 1222.8 2902.5 1227.9 2901.5 1230.9C2900.5 1234 2898.9 1238.1 2898.4 1239.6M2693 1244.2C2693.1 1245.9 2693.5 1251.2 2694 1254.4C2694.5 1257.6 2694.2 1260.7 2696 1263.6C2697.8 1266.5 2701.7 1269.2 2704.7 1271.7C2707.7 1274.3 2711.2 1277.1 2713.9 1278.9C2716.5 1280.7 2718.3 1282.1 2720.5 1282.4C2722.7 1282.8 2725.3 1281.4 2727.1 1280.9C2729 1280.4 2731 1279.6 2731.7 1279.4M2943.8 1244.2C2943.7 1245.9 2943.3 1251.2 2942.8 1254.4C2942.3 1257.6 2942.6 1260.7 2940.8 1263.6C2939 1266.5 2935.1 1269.2 2932.1 1271.7C2929.1 1274.3 2925.6 1277.1 2922.9 1278.9C2920.3 1280.7 2918.5 1282.1 2916.3 1282.4C2914.1 1282.8 2911.5 1281.4 2909.7 1280.9C2907.8 1280.4 2905.8 1279.6 2905.1 1279.4M2671 1272.8C2671.9 1273.5 2674.4 1276 2676.1 1277.3C2677.8 1278.7 2679.5 1280.3 2681.2 1280.9C2682.9 1281.5 2684.9 1281 2686.3 1280.9C2687.8 1280.8 2689.3 1280.5 2689.9 1280.4M2965.8 1272.8C2964.9 1273.5 2962.4 1276 2960.7 1277.3C2959 1278.7 2957.3 1280.3 2955.6 1280.9C2953.9 1281.5 2951.9 1281 2950.5 1280.9C2949 1280.8 2947.5 1280.5 2946.9 1280.4M2654.7 1296.7C2655.5 1296.7 2657.9 1296.3 2659.8 1296.7C2661.7 1297.2 2664.2 1298.5 2665.9 1299.3C2667.6 1300.1 2669.3 1301.2 2670 1301.6M2982.1 1296.7C2981.3 1296.7 2978.9 1296.3 2977 1296.7C2975.1 1297.2 2972.6 1298.5 2970.9 1299.3C2969.2 1300.1 2967.5 1301.2 2966.8 1301.6M2800.1 1227L2811.8 1227.9M2836.7 1227L2825 1227.9M2787.3 1267.7C2789.2 1266.6 2794.8 1263.6 2798.6 1261.5C2802.3 1259.5 2807.9 1256.4 2809.8 1255.4M2849.5 1267.7C2847.6 1266.6 2842 1263.6 2838.2 1261.5C2834.5 1259.5 2828.9 1256.4 2827 1255.4M2796 1292.7C2797.3 1292.2 2801.4 1290.7 2803.7 1290.1C2806 1289.5 2808.8 1289.3 2809.8 1289.1M2840.8 1292.7C2839.5 1292.2 2835.4 1290.7 2833.1 1290.1C2830.8 1289.5 2828 1289.3 2827 1289.1M2652.5 1349.7C2654.9 1349.4 2661.6 1348 2667 1348.1C2672.4 1348.3 2679.4 1349.7 2684.8 1350.4C2690.2 1351 2696.9 1351.7 2699.3 1351.9M2984.3 1349.7C2981.9 1349.4 2975.2 1348 2969.8 1348.1C2964.4 1348.3 2957.4 1349.7 2952 1350.4C2946.6 1351 2939.9 1351.7 2937.5 1351.9M2721.7 1325.2C2719.6 1326.8 2712.6 1331.7 2709.4 1335.2C2706.2 1338.7 2703.5 1342.5 2702.2 1346.4C2700.9 1350.3 2700.8 1354.6 2701.6 1358.6C2702.3 1362.7 2704.6 1367.9 2706.7 1370.5C2708.8 1373.1 2712.7 1372.4 2714.3 1374.3C2715.9 1376.1 2714.9 1377.9 2716.1 1381.6C2717.3 1385.4 2720.7 1394.1 2721.7 1396.6M2915.1 1325.2C2917.2 1326.8 2924.2 1331.7 2927.4 1335.2C2930.6 1338.7 2933.3 1342.5 2934.6 1346.4C2935.9 1350.3 2936 1354.6 2935.2 1358.6C2934.5 1362.7 2932.2 1367.9 2930.1 1370.5C2928 1373.1 2924.1 1372.4 2922.5 1374.3C2920.9 1376.1 2921.9 1377.9 2920.7 1381.6C2919.5 1385.4 2916.1 1394.1 2915.1 1396.6M2645.8 1383.9C2647.8 1384.1 2654.7 1386.1 2658 1385.4C2661.4 1384.8 2664.6 1380.8 2665.9 1379.8M2991 1383.9C2989 1384.1 2982.1 1386.1 2978.8 1385.4C2975.4 1384.8 2972.2 1380.8 2970.9 1379.8M2653.1 1389.9C2653.8 1391.4 2655 1396 2656.9 1398.8C2658.9 1401.6 2661.8 1404 2664.7 1406.6C2667.7 1409.2 2673.1 1413.1 2674.8 1414.4M2983.7 1389.9C2983 1391.4 2981.8 1396 2979.9 1398.8C2977.9 1401.6 2975 1404 2972.1 1406.6C2969.1 1409.2 2963.7 1413.1 2962 1414.4M2642.4 1431.2L2654.7 1425.6M2994.4 1431.2L2982.1 1425.6M2654.7 1460.2L2672.6 1451.7M2982.1 1460.2L2964.2 1451.7M2736.6 1470.3C2734.7 1468.6 2729 1463.8 2725 1460.2C2721 1456.6 2714.8 1450.5 2712.7 1448.6M2900.2 1470.3C2902.1 1468.6 2907.8 1463.8 2911.8 1460.2C2915.8 1456.6 2922 1450.5 2924.1 1448.6" fill="none" stroke="#111" stroke-width="2.2" stroke-linecap="round"/>
<path d="M2818.2 1303.4C2817.8 1302.9 2816.6 1301.1 2815.9 1300.5C2815.3 1299.9 2814.3 1300.1 2813.9 1299.3C2813.5 1298.5 2813.8 1296.8 2813.4 1295.2C2812.9 1293.6 2811.2 1291.3 2811 1288.6C2810.9 1285.8 2812.1 1281.4 2812.3 1276.8C2812.6 1272.3 2812.9 1261.7 2812.6 1258.5C2812.2 1255.2 2810.2 1256.5 2810.2 1255C2810.2 1253.5 2812.4 1250.8 2812.9 1248.3C2813.3 1245.7 2813 1241.4 2813.1 1238.1C2813.2 1234.8 2813.1 1229.2 2813.5 1226.3C2813.8 1223.4 2815 1221.7 2815.4 1218.7C2815.8 1215.7 2816.4 1209.2 2816.1 1206.4C2815.9 1203.7 2814.8 1201.6 2813.9 1200.3C2812.9 1199 2811.3 1198.2 2809.8 1197.8C2808.3 1197.3 2806.1 1197.1 2803.7 1197.3C2801.2 1197.6 2796.5 1198.6 2793.5 1199.3C2790.4 1200 2786.3 1201 2783.3 1201.8C2780.2 1202.6 2775.7 1204 2773.1 1204.6C2770.5 1205.2 2769 1205.2 2765.9 1205.9C2762.9 1206.7 2756.6 1208.2 2752.7 1209.5C2748.7 1210.8 2742.4 1212.9 2739.4 1214.6C2736.3 1216.3 2734.4 1219.8 2732.2 1220.9C2730.1 1222 2728.2 1221.2 2725.1 1221.7C2722 1222.3 2715.5 1223.3 2711.8 1224.8C2708.2 1226.3 2703.4 1229.2 2700.6 1231.9C2697.8 1234.7 2694.5 1241.1 2693 1243.4C2691.4 1245.6 2692.2 1245.2 2690.4 1246.7C2688.6 1248.2 2683.8 1250.8 2681.2 1253.4C2678.6 1255.9 2674.6 1260.8 2673.1 1263.6C2671.5 1266.4 2671.8 1270.6 2671 1271.9C2670.3 1273.3 2669.5 1271.9 2668 1272.8C2666.4 1273.6 2662.7 1275.9 2660.8 1277.9C2659 1279.8 2656.7 1283.2 2655.7 1286C2654.7 1288.8 2654.9 1294.6 2654.2 1296.4C2653.4 1298.3 2651.8 1296.6 2650.6 1298.3C2649.5 1299.9 2647.4 1304.1 2646.5 1307.4C2645.7 1310.8 2645.2 1316.9 2645 1320.7C2644.8 1324.5 2645.1 1329.4 2645.5 1333C2646 1336.5 2647 1341.6 2648 1344.1C2649 1346.6 2653.1 1347.7 2652.5 1349.7C2651.8 1351.7 2645.4 1354.3 2643.5 1357.5C2641.7 1360.7 2640 1367.1 2640.2 1370.9C2640.4 1374.8 2645 1380.7 2644.6 1383.2C2644.3 1385.7 2639.7 1384.5 2638 1387.7C2636.2 1390.8 2633.5 1399.5 2633 1404.4C2632.5 1409.3 2633.4 1416 2634.6 1420C2635.8 1424 2640 1427.8 2641.3 1431.2C2642.6 1434.5 2642.5 1439 2643.5 1442.4C2644.5 1445.7 2646.5 1450.8 2648 1453.5C2649.5 1456.2 2652.9 1457.5 2653.6 1460.2C2654.2 1462.9 2651.5 1468 2652.5 1471.4C2653.5 1474.7 2656.8 1480.4 2660.3 1482.5C2663.8 1484.7 2672.6 1485.4 2675.9 1485.9C2679.2 1486.4 2679.9 1485 2682.6 1485.9C2685.3 1486.7 2689.4 1490.4 2693.8 1491.5C2698.1 1492.5 2706.6 1493 2711.6 1493C2716.6 1493 2723.4 1492.7 2727.2 1491.5C2731.1 1490.2 2735.5 1486.9 2737.3 1484.8C2739.1 1482.6 2739.4 1479 2739.5 1477C2739.6 1474.9 2736.1 1473.2 2738 1471.4C2739.8 1469.5 2748.4 1467.4 2751.8 1464.7C2755.2 1462 2758.1 1457.5 2760.7 1453.5C2763.4 1449.5 2767.3 1442.2 2769.7 1437.9C2772 1433.5 2775.9 1427.8 2776.4 1424.5C2776.9 1421.1 2774.7 1418.2 2773 1415.6C2771.3 1412.9 2767.7 1408.6 2765.2 1406.6C2762.7 1404.6 2757.9 1403.3 2756.3 1402.2C2754.6 1401 2754 1399.6 2754 1398.8C2754.1 1398.1 2755 1397.1 2756.7 1397C2758.4 1396.9 2761.9 1397 2765.2 1398.2C2768.5 1399.3 2774.9 1402.9 2778.6 1404.4C2782.3 1405.9 2786.4 1407.9 2789.8 1408.4C2793.1 1408.9 2797.6 1407 2800.9 1407.7C2804.3 1408.5 2809.5 1412.2 2812.1 1413.3C2814.7 1414.5 2816.5 1415.6 2818.4 1415.6C2820.3 1415.6 2822.1 1414.5 2824.7 1413.3C2827.3 1412.2 2832.5 1408.5 2835.9 1407.7C2839.2 1407 2843.7 1408.9 2847 1408.4C2850.4 1407.9 2854.5 1405.9 2858.2 1404.4C2861.9 1402.9 2868.3 1399.3 2871.6 1398.2C2874.9 1397 2878.4 1396.9 2880.1 1397C2881.8 1397.1 2882.7 1398.1 2882.8 1398.8C2882.8 1399.6 2882.2 1401 2880.5 1402.2C2878.9 1403.3 2874.1 1404.6 2871.6 1406.6C2869.1 1408.6 2865.5 1412.9 2863.8 1415.6C2862.1 1418.2 2859.9 1421.1 2860.4 1424.5C2860.9 1427.8 2864.8 1433.5 2867.1 1437.9C2869.5 1442.2 2873.4 1449.5 2876.1 1453.5C2878.7 1457.5 2881.6 1462 2885 1464.7C2888.4 1467.4 2897 1469.5 2898.8 1471.4C2900.7 1473.2 2897.2 1474.9 2897.3 1477C2897.4 1479 2897.7 1482.6 2899.5 1484.8C2901.3 1486.9 2905.7 1490.2 2909.6 1491.5C2913.4 1492.7 2920.2 1493 2925.2 1493C2930.2 1493 2938.7 1492.5 2943 1491.5C2947.4 1490.4 2951.5 1486.7 2954.2 1485.9C2956.9 1485 2957.6 1486.4 2960.9 1485.9C2964.2 1485.4 2973 1484.7 2976.5 1482.5C2980 1480.4 2983.3 1474.7 2984.3 1471.4C2985.3 1468 2982.6 1462.9 2983.2 1460.2C2983.9 1457.5 2987.3 1456.2 2988.8 1453.5C2990.3 1450.8 2992.3 1445.7 2993.3 1442.4C2994.3 1439 2994.2 1434.5 2995.5 1431.2C2996.8 1427.8 3001 1424 3002.2 1420C3003.4 1416 3004.3 1409.3 3003.8 1404.4C3003.3 1399.5 3000.6 1390.8 2998.8 1387.7C2997.1 1384.5 2992.5 1385.7 2992.2 1383.2C2991.8 1380.7 2996.4 1374.8 2996.6 1370.9C2996.8 1367.1 2995.1 1360.7 2993.3 1357.5C2991.4 1354.3 2985 1351.7 2984.3 1349.7C2983.7 1347.7 2987.8 1346.6 2988.8 1344.1C2989.8 1341.6 2990.8 1336.5 2991.3 1333C2991.7 1329.4 2992 1324.5 2991.8 1320.7C2991.6 1316.9 2991.1 1310.8 2990.3 1307.4C2989.4 1304.1 2987.3 1299.9 2986.2 1298.3C2985 1296.6 2983.4 1298.3 2982.6 1296.4C2981.9 1294.6 2982.1 1288.8 2981.1 1286C2980.1 1283.2 2977.8 1279.8 2976 1277.9C2974.1 1275.9 2970.4 1273.6 2968.8 1272.8C2967.3 1271.9 2966.5 1273.3 2965.8 1271.9C2965 1270.6 2965.3 1266.4 2963.7 1263.6C2962.2 1260.8 2958.2 1255.9 2955.6 1253.4C2953 1250.8 2948.2 1248.2 2946.4 1246.7C2944.6 1245.2 2945.4 1245.6 2943.8 1243.4C2942.3 1241.1 2939 1234.7 2936.2 1231.9C2933.4 1229.2 2928.6 1226.3 2925 1224.8C2921.3 1223.3 2914.8 1222.3 2911.7 1221.7C2908.6 1221.2 2906.7 1222 2904.6 1220.9C2902.4 1219.8 2900.5 1216.3 2897.4 1214.6C2894.4 1212.9 2888.1 1210.8 2884.1 1209.5C2880.2 1208.2 2873.9 1206.7 2870.9 1205.9C2867.8 1205.2 2866.3 1205.2 2863.7 1204.6C2861.1 1204 2856.6 1202.6 2853.5 1201.8C2850.5 1201 2846.4 1200 2843.3 1199.3C2840.3 1198.6 2835.6 1197.6 2833.1 1197.3C2830.7 1197.1 2828.5 1197.3 2827 1197.8C2825.5 1198.2 2823.9 1199 2822.9 1200.3C2822 1201.6 2820.9 1203.7 2820.7 1206.4C2820.4 1209.2 2821 1215.7 2821.4 1218.7C2821.8 1221.7 2823 1223.4 2823.3 1226.3C2823.7 1229.2 2823.6 1234.8 2823.7 1238.1C2823.8 1241.4 2823.5 1245.7 2823.9 1248.3C2824.4 1250.8 2826.6 1253.5 2826.6 1255C2826.6 1256.5 2824.6 1255.2 2824.2 1258.5C2823.9 1261.7 2824.2 1272.3 2824.5 1276.8C2824.7 1281.4 2825.9 1285.8 2825.8 1288.6C2825.6 1291.3 2823.9 1293.6 2823.4 1295.2C2823 1296.8 2823.3 1298.5 2822.9 1299.3C2822.5 1300.1 2821.5 1299.9 2820.9 1300.5C2820.2 1301.1 2819 1302.9 2818.6 1303.4C2818.2 1303.8 2818.6 1303.8 2818.2 1303.4Z" fill="none" stroke="#111" stroke-width="2.3" stroke-linejoin="round"/>
<path d="M2769.7 1303.9C2770.4 1303.4 2771.4 1302.5 2773.7 1303.9C2775.9 1305.4 2779.3 1310.1 2783.1 1312.9C2786.9 1315.7 2792.2 1318.5 2796.5 1320.7C2800.7 1322.8 2805.8 1324 2808.7 1325.8C2811.7 1327.7 2813.2 1328.8 2814.3 1331.8C2815.4 1334.9 2815.7 1339.8 2815.4 1344.1C2815.1 1348.4 2813.6 1354 2812.5 1357.5C2811.4 1361.1 2810.3 1363.6 2808.7 1365.3C2807.2 1367 2805 1367.9 2803.1 1367.8C2801.3 1367.7 2799.4 1366.7 2797.6 1364.7C2795.8 1362.6 2793.9 1359.1 2792.4 1355.3C2790.9 1351.5 2790.4 1346.7 2788.6 1341.9C2786.9 1337.1 2784.4 1330.9 2781.9 1326.3C2779.5 1321.6 2776.2 1317.2 2774.1 1314C2772 1310.8 2770 1309 2769.2 1307.3C2768.5 1305.6 2768.9 1304.5 2769.7 1303.9Z" fill="#fff" stroke="#111" stroke-width="2.3"/>
<path d="M2867.1 1303.9C2866.4 1303.4 2865.4 1302.5 2863.1 1303.9C2860.9 1305.4 2857.5 1310.1 2853.7 1312.9C2849.9 1315.7 2844.6 1318.5 2840.3 1320.7C2836.1 1322.8 2831 1324 2828.1 1325.8C2825.1 1327.7 2823.6 1328.8 2822.5 1331.8C2821.4 1334.9 2821.1 1339.8 2821.4 1344.1C2821.7 1348.4 2823.2 1354 2824.3 1357.5C2825.4 1361.1 2826.5 1363.6 2828.1 1365.3C2829.6 1367 2831.8 1367.9 2833.7 1367.8C2835.5 1367.7 2837.4 1366.7 2839.2 1364.7C2841 1362.6 2842.9 1359.1 2844.4 1355.3C2845.9 1351.5 2846.4 1346.7 2848.2 1341.9C2849.9 1337.1 2852.4 1330.9 2854.9 1326.3C2857.3 1321.6 2860.6 1317.2 2862.7 1314C2864.8 1310.8 2866.8 1309 2867.6 1307.3C2868.3 1305.6 2867.9 1304.5 2867.1 1303.9Z" fill="#fff" stroke="#111" stroke-width="2.3"/>
<path d="M3235.6 1299.3C3234 1299.3 3230.1 1294.7 3229.8 1293.5C3229.6 1292.2 3233.4 1291.6 3233.8 1290.4C3234.3 1289.2 3233.4 1286.5 3233.2 1285C3233 1283.5 3232.9 1281.8 3232.5 1279.6C3232.1 1277.5 3231.3 1271.7 3230.7 1269.8C3230.1 1268 3229.3 1267 3228 1266.7C3226.8 1266.4 3223.2 1267.9 3221.8 1267.9C3220.3 1267.9 3218.2 1267.4 3217.8 1266.7C3217.3 1266 3217.8 1264.1 3218.7 1262.7C3219.5 1261.2 3222.4 1258.5 3223.6 1256.4C3224.7 1254.4 3226.4 1250.8 3226.7 1248.4C3226.9 1246 3225.9 1241.4 3225.4 1239.5C3224.8 1237.5 3223.6 1235.4 3222.7 1234.6C3221.8 1233.7 3220.1 1233.5 3219.1 1233.7C3218.1 1233.8 3216.4 1235.5 3215.5 1235.4C3214.7 1235.4 3213.8 1234.5 3213.3 1233.2C3212.8 1231.9 3212.8 1227.7 3212 1226.1C3211.1 1224.4 3209.3 1222.6 3207.5 1221.6C3205.7 1220.6 3201.6 1219.3 3199.5 1218.9C3197.3 1218.5 3194 1218.4 3192.3 1218.8C3190.7 1219.1 3188.8 1220.2 3187.9 1221.6C3186.9 1223 3186 1226.6 3185.9 1228.8C3185.8 1230.9 3186.3 1234.5 3187 1236.8C3187.6 1239.1 3189.5 1242.5 3190.5 1244.8C3191.5 1247.1 3193.5 1251 3194.1 1252.9C3194.7 1254.8 3195.3 1256.9 3195 1258.2C3194.7 1259.5 3193.2 1261.3 3192.3 1261.8C3191.4 1262.2 3189.8 1262.1 3188.8 1261.3C3187.7 1260.6 3186.1 1258.3 3185.2 1256.4C3184.2 1254.6 3183.1 1250.5 3182.1 1248.4C3181 1246.2 3179.2 1242.7 3178 1241.2C3176.8 1239.8 3175 1238.6 3173.6 1238.1C3172.2 1237.7 3169.7 1237.6 3168.2 1238.1C3166.8 1238.7 3164.5 1240.6 3163.3 1242.1C3162.1 1243.7 3160.6 1247.1 3159.7 1249.3C3158.8 1251.4 3157.6 1255.3 3157.1 1257.3C3156.5 1259.3 3156 1261.8 3156.2 1263.6C3156.3 1265.3 3157.1 1268.1 3157.9 1269.8C3158.8 1271.6 3160.7 1274.4 3162 1276.1C3163.2 1277.7 3165.6 1280.2 3166.9 1281.4C3168.1 1282.7 3170.1 1283.9 3170.9 1285C3171.7 1286.1 3172.3 1288.6 3172.2 1289.5C3172.2 1290.3 3171 1291.4 3170.4 1291.2C3169.9 1291.1 3168.7 1289.4 3168.2 1288.6C3167.7 1287.7 3167.4 1285.9 3166.9 1285.4C3166.3 1285 3164.9 1285.1 3164.2 1285.4C3163.5 1285.8 3162.7 1287.2 3162 1287.7C3161.3 1288.2 3160 1289.1 3159.3 1289C3158.6 1288.9 3157.9 1287.7 3157.1 1286.8C3156.2 1285.8 3154.2 1283.6 3153 1282.3C3151.8 1281.1 3149.7 1279.4 3148.6 1277.9C3147.4 1276.3 3146.1 1273.5 3145 1271.6C3143.9 1269.7 3141.9 1265.9 3140.5 1264.5C3139.1 1263 3136.7 1261.8 3135.2 1261.3C3133.7 1260.9 3131.5 1260.8 3129.8 1261.1C3128.2 1261.4 3125.3 1262.5 3123.6 1263.6C3121.8 1264.7 3119 1267.3 3117.3 1268.9C3115.7 1270.6 3112.9 1273.5 3112 1275.2C3111 1276.8 3110.6 1278.9 3110.6 1280.5C3110.6 1282.2 3111.1 1285.1 3112 1286.8C3112.8 1288.4 3114.9 1290.9 3116.4 1292.1C3117.9 1293.3 3120.9 1294.5 3122.7 1295.3C3124.4 1296 3127.5 1296.8 3128.9 1297.5C3130.3 1298.2 3131.9 1299.4 3132.5 1300.2C3133.1 1301 3133.2 1302.7 3132.9 1303.3C3132.7 1303.9 3131.5 1304.7 3130.7 1304.6C3129.9 1304.6 3128.4 1303.6 3127.1 1302.9C3125.9 1302.2 3123.6 1300.6 3121.8 1299.7C3120 1298.8 3116.7 1297.4 3114.6 1296.6C3112.6 1295.8 3109.4 1294.4 3107.5 1293.9C3105.6 1293.4 3102.8 1292.9 3101.2 1293C3099.7 1293.2 3097.7 1293.8 3096.8 1294.8C3095.8 1295.8 3095.1 1298.4 3094.6 1300.2C3094 1301.9 3093.1 1305.6 3092.8 1307.3C3092.5 1309.1 3092 1311.2 3092.3 1312.7C3092.6 1314.2 3093.9 1316.9 3095 1318C3096.1 1319.2 3098.8 1320.1 3100.4 1320.7C3101.9 1321.3 3104.3 1321.4 3105.7 1322.1C3107.1 1322.7 3109.2 1324.1 3110.2 1325.2C3111.2 1326.3 3112.5 1328.5 3112.9 1329.6C3113.2 1330.8 3113 1332.6 3112.4 1333.2C3111.8 1333.8 3109.5 1334.2 3108.4 1334.1C3107.3 1334 3105.7 1333.2 3104.8 1332.3C3103.9 1331.4 3103 1329.1 3102.1 1327.9C3101.3 1326.7 3099.7 1324.6 3098.6 1323.8C3097.4 1323.1 3095.5 1322.3 3094.1 1322.5C3092.7 1322.7 3090.3 1323.9 3088.8 1325.2C3087.2 1326.4 3084.6 1329.8 3083.4 1331.4C3082.2 1333.1 3080.6 1335.3 3080.3 1336.8C3079.9 1338.3 3080.4 1341 3080.7 1342.1C3081 1343.3 3082.6 1343.9 3082.5 1344.8C3082.4 1345.8 3079.9 1347.5 3079.7 1348.7C3079.5 1349.9 3080.3 1351.8 3081.1 1353.3C3081.9 1354.9 3084.1 1358.2 3085.3 1359.8C3086.4 1361.4 3088 1363.8 3089.4 1364.9C3090.8 1366 3093.3 1367.5 3095 1367.7C3096.7 1367.9 3099.7 1366.8 3101.4 1366.3C3103.2 1365.8 3105.7 1364.5 3107 1364C3108.3 1363.4 3109.9 1362.3 3110.7 1362.6C3111.5 1362.8 3111.8 1365 3112.5 1365.8C3113.3 1366.7 3114.9 1368.1 3116.2 1368.6C3117.6 1369.1 3120.4 1369.7 3121.8 1369.5C3123.2 1369.3 3125.3 1368.2 3126.4 1367.2C3127.5 1366.2 3129 1363.9 3129.7 1362.6C3130.3 1361.3 3130.7 1359 3131 1357.9C3131.4 1356.9 3131.4 1355.3 3131.8 1355C3132.2 1354.7 3133.3 1355.5 3133.8 1356.1C3134.4 1356.7 3135.6 1358.3 3135.7 1359.3C3135.7 1360.4 3134.7 1362.1 3134.3 1363.5C3133.8 1364.9 3132.5 1367.5 3132.4 1369C3132.4 1370.6 3133.1 1373.2 3133.8 1374.6C3134.5 1376 3136.5 1378.1 3137.5 1378.8C3138.6 1379.4 3140.2 1379.6 3141.2 1379.2C3142.3 1378.9 3144.1 1377.6 3144.9 1376.4C3145.8 1375.3 3146.8 1372.7 3147.2 1370.9C3147.7 1369.1 3147.9 1365.5 3148.2 1363.5C3148.4 1361.5 3148.5 1358.5 3148.8 1357C3149.1 1355.5 3149.9 1353.5 3150.5 1352.9C3151 1352.2 3152.2 1351.9 3152.8 1352.2C3153.4 1352.5 3154.4 1353.8 3154.6 1355.2C3154.9 1356.5 3154.8 1359.9 3154.6 1361.6C3154.4 1363.4 3153.8 1365.8 3153.2 1367.2C3152.7 1368.6 3151.3 1370.5 3150.5 1371.8C3149.6 1373.1 3147.8 1375.1 3147.2 1376.4C3146.6 1377.8 3146.2 1380 3146.3 1381.1C3146.4 1382.1 3147.8 1383.1 3148.2 1383.8C3148.6 1384.6 3149.3 1385.9 3149.1 1386.6C3148.9 1387.3 3147.5 1388.5 3146.8 1388.9C3146.1 1389.4 3144.5 1389.3 3144 1389.9C3143.5 1390.5 3143.1 1392 3143.1 1393.1C3143.1 1394.2 3143.7 1396.3 3144 1397.7C3144.3 1399.2 3145.2 1401.6 3145.4 1403.3C3145.6 1405 3145.7 1408.2 3145.4 1409.7C3145.1 1411.3 3144.1 1413.5 3143.1 1414.4C3142.1 1415.3 3139.9 1416 3138.4 1416.2C3137 1416.4 3134.3 1416.2 3132.9 1415.8C3131.5 1415.3 3129.3 1414 3128.3 1413C3127.3 1412 3126.2 1409.8 3126 1408.8C3125.7 1407.8 3126.2 1406.8 3126.4 1406C3126.7 1405.3 3127.8 1404.1 3127.8 1403.3C3127.8 1402.5 3126.4 1401.4 3126.4 1400.5C3126.4 1399.6 3127.5 1398.4 3127.8 1397.3C3128.1 1396.1 3128.5 1393.7 3128.3 1392.2C3128 1390.7 3126.9 1387.8 3126 1386.6C3125 1385.4 3123.2 1384.4 3121.8 1383.8C3120.4 1383.3 3118.1 1383 3116.2 1382.7C3114.4 1382.5 3110.9 1382.3 3108.8 1382C3106.8 1381.7 3103.4 1381.3 3101.4 1380.6C3099.5 1379.9 3096.7 1377.9 3095 1376.9C3093.3 1375.9 3091 1374.3 3089.4 1373.7C3087.9 1373.1 3085.4 1372.6 3083.9 1372.7C3082.4 1372.9 3079.9 1373.7 3078.8 1374.6C3077.7 1375.5 3076.4 1377.8 3076 1379.2C3075.6 1380.7 3075.9 1382.9 3076 1384.8C3076.1 1386.6 3076.3 1390.3 3076.9 1392.2C3077.5 1394 3078.9 1396.7 3080.2 1397.7C3081.4 1398.8 3084 1399.3 3085.7 1399.6C3087.4 1399.8 3090.5 1399.2 3092.2 1399.6C3093.9 1399.9 3096.4 1401 3097.7 1401.9C3099.1 1402.8 3101.2 1405.1 3101.9 1406C3102.6 1407 3103 1408.2 3102.8 1408.8C3102.7 1409.5 3101.6 1410.5 3101 1410.7C3100.3 1410.8 3099.1 1410.5 3098.2 1409.7C3097.4 1409 3095.8 1406.3 3095 1405.1C3094.1 1403.9 3093.2 1402 3092.2 1401.4C3091.2 1400.8 3089 1400.9 3087.6 1401C3086.1 1401 3083.4 1401 3082 1401.6C3080.6 1402.2 3078.6 1403.8 3077.9 1405.1C3077.1 1406.4 3076.9 1409 3076.9 1410.7C3077 1412.4 3077.8 1415.3 3078.3 1417.1C3078.8 1419 3080.1 1421.8 3080.6 1423.6C3081.2 1425.5 3081.9 1428.1 3082 1430.1C3082.2 1432.1 3081.5 1435.5 3081.6 1437.5C3081.6 1439.5 3081.9 1442.3 3082.5 1444C3083.1 1445.7 3084.5 1448.4 3085.7 1449.5C3087 1450.6 3090 1451.6 3091.3 1451.8C3092.5 1452.1 3094.2 1450.8 3094.5 1451.4C3094.8 1452 3093.2 1454.3 3093.1 1456C3093.1 1457.7 3093.4 1461.4 3094 1463.4C3094.7 1465.4 3096.3 1468.4 3097.7 1469.9C3099.2 1471.3 3102.4 1472.5 3104.2 1473.6C3106.1 1474.6 3108.9 1476.4 3110.7 1477.3C3112.5 1478.1 3115.3 1479.2 3117.2 1479.6C3119 1480 3122.1 1480.2 3123.6 1480C3125.2 1479.9 3127.3 1479.1 3128.3 1478.2C3129.3 1477.3 3130.4 1475.1 3130.6 1473.6C3130.8 1472 3129.9 1468.9 3129.7 1467.1C3129.5 1465.3 3129.1 1462.1 3129.2 1460.6C3129.3 1459.2 3129.8 1457.7 3130.6 1456.9C3131.4 1456.1 3133.6 1455.7 3134.7 1455.1C3135.9 1454.4 3137.6 1452.6 3138.4 1452.3C3139.3 1452 3140.4 1452.4 3140.8 1453.2C3141.1 1454 3141 1456.3 3140.8 1457.8C3140.5 1459.4 3139.4 1462.6 3138.9 1464.3C3138.4 1466 3137.2 1468.4 3137.1 1469.9C3136.9 1471.3 3137.7 1473.1 3138 1474.5C3138.3 1475.9 3138.7 1478.8 3139.4 1480C3140.1 1481.3 3141.6 1482.8 3143.1 1483.3C3144.5 1483.8 3147.3 1483.7 3149.5 1483.7C3151.8 1483.8 3156.2 1483.7 3158.8 1483.6C3161.4 1483.4 3165.8 1483.3 3168 1482.8C3170.3 1482.4 3173.1 1481.6 3174.5 1480.5C3175.9 1479.5 3177.5 1476.9 3177.8 1475.4C3178 1473.9 3177.2 1471.2 3176.4 1469.9C3175.5 1468.6 3173.2 1467.2 3171.7 1466.2C3170.3 1465.1 3167.6 1463.7 3166.2 1462.5C3164.8 1461.3 3162.8 1459.2 3162 1457.8C3161.3 1456.5 3161 1454.3 3161.1 1453.2C3161.2 1452.2 3161.9 1450.7 3162.5 1450.4C3163.1 1450.2 3164.7 1450.6 3165.3 1451.4C3165.9 1452.2 3166.1 1454.7 3166.7 1456C3167.2 1457.3 3168.1 1459.6 3169 1460.6C3169.8 1461.7 3171.5 1462.9 3172.7 1463.4C3173.9 1463.9 3175.9 1464.1 3177.3 1463.9C3178.7 1463.6 3181.3 1462.7 3182.8 1461.5C3184.4 1460.4 3187 1457.8 3188.4 1456C3189.8 1454.2 3191.8 1450.8 3193 1448.6C3194.2 1446.4 3195.8 1442.5 3196.7 1440.3C3197.6 1438 3198.6 1434.6 3199.5 1432.9C3200.4 1431.2 3202.5 1429.4 3203.2 1428.2C3203.9 1427.1 3204.6 1425.7 3204.6 1424.5C3204.6 1423.4 3203.9 1420.7 3203.2 1419.9C3202.5 1419.1 3200.4 1419.3 3199.5 1419C3198.6 1418.7 3197.5 1418.9 3196.7 1418.1C3195.9 1417.3 3194.9 1414.6 3193.9 1413.4C3193 1412.3 3191.4 1410.4 3190.2 1409.7C3189.1 1409.1 3187.2 1409 3185.6 1408.8C3184.1 1408.7 3181 1409 3179.1 1408.8C3177.3 1408.7 3174 1408.4 3172.7 1407.9C3171.3 1407.4 3169.9 1406 3169.4 1405.1C3169 1404.3 3169 1402.5 3169.4 1401.9C3169.9 1401.2 3171 1400.7 3172.7 1400.5C3174.3 1400.3 3178.5 1400.3 3181 1400.3C3183.5 1400.3 3187.6 1400.3 3190.2 1400.3C3192.9 1400.3 3197.5 1400.1 3199.5 1400.3C3201.5 1400.5 3202.8 1401.2 3204.1 1401.9C3205.4 1402.6 3207.2 1404.4 3208.7 1405.1C3210.3 1405.8 3213.3 1406.6 3215.2 1407C3217.2 1407.4 3220.9 1407.4 3222.6 1407.9C3224.3 1408.4 3225.9 1409.8 3227.2 1410.7C3228.6 1411.5 3230.7 1413.2 3231.9 1413.9C3233.1 1414.6 3234.5 1415.6 3235.6 1415.6C3236.7 1415.6 3238.1 1414.6 3239.3 1413.9C3240.5 1413.2 3242.6 1411.5 3244 1410.7C3245.3 1409.8 3246.9 1408.4 3248.6 1407.9C3250.3 1407.4 3254 1407.4 3256 1407C3257.9 1406.6 3260.9 1405.8 3262.5 1405.1C3264 1404.4 3265.8 1402.6 3267.1 1401.9C3268.4 1401.2 3269.7 1400.5 3271.7 1400.3C3273.7 1400.1 3278.3 1400.3 3281 1400.3C3283.6 1400.3 3287.7 1400.3 3290.2 1400.3C3292.7 1400.3 3296.9 1400.3 3298.5 1400.5C3300.2 1400.7 3301.3 1401.2 3301.8 1401.9C3302.2 1402.5 3302.2 1404.3 3301.8 1405.1C3301.3 1406 3299.9 1407.4 3298.5 1407.9C3297.2 1408.4 3293.9 1408.7 3292.1 1408.8C3290.2 1409 3287.1 1408.7 3285.6 1408.8C3284 1409 3282.1 1409.1 3281 1409.7C3279.8 1410.4 3278.2 1412.3 3277.3 1413.4C3276.3 1414.6 3275.3 1417.3 3274.5 1418.1C3273.7 1418.9 3272.6 1418.7 3271.7 1419C3270.8 1419.3 3268.7 1419.1 3268 1419.9C3267.3 1420.7 3266.6 1423.4 3266.6 1424.5C3266.6 1425.7 3267.3 1427.1 3268 1428.2C3268.7 1429.4 3270.8 1431.2 3271.7 1432.9C3272.6 1434.6 3273.6 1438 3274.5 1440.3C3275.4 1442.5 3277 1446.4 3278.2 1448.6C3279.4 1450.8 3281.4 1454.2 3282.8 1456C3284.2 1457.8 3286.8 1460.4 3288.4 1461.5C3289.9 1462.7 3292.5 1463.6 3293.9 1463.9C3295.3 1464.1 3297.3 1463.9 3298.5 1463.4C3299.7 1462.9 3301.4 1461.7 3302.2 1460.6C3303.1 1459.6 3304 1457.3 3304.5 1456C3305.1 1454.7 3305.3 1452.2 3305.9 1451.4C3306.5 1450.6 3308.1 1450.2 3308.7 1450.4C3309.3 1450.7 3310 1452.2 3310.1 1453.2C3310.2 1454.3 3309.9 1456.5 3309.2 1457.8C3308.4 1459.2 3306.4 1461.3 3305 1462.5C3303.6 1463.7 3300.9 1465.1 3299.5 1466.2C3298 1467.2 3295.7 1468.6 3294.8 1469.9C3294 1471.2 3293.2 1473.9 3293.4 1475.4C3293.7 1476.9 3295.3 1479.5 3296.7 1480.5C3298.1 1481.6 3300.9 1482.4 3303.2 1482.8C3305.4 1483.3 3309.8 1483.4 3312.4 1483.6C3315 1483.7 3319.4 1483.8 3321.7 1483.7C3323.9 1483.7 3326.7 1483.8 3328.1 1483.3C3329.6 1482.8 3331.1 1481.3 3331.8 1480C3332.5 1478.8 3332.9 1475.9 3333.2 1474.5C3333.5 1473.1 3334.3 1471.3 3334.1 1469.9C3334 1468.4 3332.8 1466 3332.3 1464.3C3331.8 1462.6 3330.7 1459.4 3330.4 1457.8C3330.2 1456.3 3330.1 1454 3330.4 1453.2C3330.8 1452.4 3331.9 1452 3332.8 1452.3C3333.6 1452.6 3335.3 1454.4 3336.5 1455.1C3337.6 1455.7 3339.8 1456.1 3340.6 1456.9C3341.4 1457.7 3341.9 1459.2 3342 1460.6C3342.1 1462.1 3341.7 1465.3 3341.5 1467.1C3341.3 1468.9 3340.4 1472 3340.6 1473.6C3340.8 1475.1 3341.9 1477.3 3342.9 1478.2C3343.9 1479.1 3346 1479.9 3347.6 1480C3349.1 1480.2 3352.2 1480 3354 1479.6C3355.9 1479.2 3358.7 1478.1 3360.5 1477.3C3362.3 1476.4 3365.1 1474.6 3367 1473.6C3368.8 1472.5 3372 1471.3 3373.5 1469.9C3374.9 1468.4 3376.5 1465.4 3377.2 1463.4C3377.8 1461.4 3378.1 1457.7 3378.1 1456C3378 1454.3 3376.4 1452 3376.7 1451.4C3377 1450.8 3378.7 1452.1 3379.9 1451.8C3381.2 1451.6 3384.2 1450.6 3385.5 1449.5C3386.7 1448.4 3388.1 1445.7 3388.7 1444C3389.3 1442.3 3389.6 1439.5 3389.6 1437.5C3389.7 1435.5 3389 1432.1 3389.2 1430.1C3389.3 1428.1 3390 1425.5 3390.6 1423.6C3391.1 1421.8 3392.4 1419 3392.9 1417.1C3393.4 1415.3 3394.2 1412.4 3394.3 1410.7C3394.3 1409 3394.1 1406.4 3393.3 1405.1C3392.6 1403.8 3390.6 1402.2 3389.2 1401.6C3387.8 1401 3385.1 1401 3383.6 1401C3382.2 1400.9 3380 1400.8 3379 1401.4C3378 1402 3377.1 1403.9 3376.2 1405.1C3375.4 1406.3 3373.8 1409 3373 1409.7C3372.1 1410.5 3370.9 1410.8 3370.2 1410.7C3369.6 1410.5 3368.5 1409.5 3368.4 1408.8C3368.2 1408.2 3368.6 1407 3369.3 1406C3370 1405.1 3372.1 1402.8 3373.5 1401.9C3374.8 1401 3377.3 1399.9 3379 1399.6C3380.7 1399.2 3383.8 1399.8 3385.5 1399.6C3387.2 1399.3 3389.8 1398.8 3391 1397.7C3392.3 1396.7 3393.7 1394 3394.3 1392.2C3394.9 1390.3 3395.1 1386.6 3395.2 1384.8C3395.3 1382.9 3395.6 1380.7 3395.2 1379.2C3394.8 1377.8 3393.5 1375.5 3392.4 1374.6C3391.3 1373.7 3388.8 1372.9 3387.3 1372.7C3385.8 1372.6 3383.3 1373.1 3381.8 1373.7C3380.2 1374.3 3377.9 1375.9 3376.2 1376.9C3374.5 1377.9 3371.7 1379.9 3369.8 1380.6C3367.8 1381.3 3364.4 1381.7 3362.4 1382C3360.3 1382.3 3356.8 1382.5 3355 1382.7C3353.1 1383 3350.8 1383.3 3349.4 1383.8C3348 1384.4 3346.2 1385.4 3345.2 1386.6C3344.3 1387.8 3343.2 1390.7 3342.9 1392.2C3342.7 1393.7 3343.1 1396.1 3343.4 1397.3C3343.7 1398.4 3344.8 1399.6 3344.8 1400.5C3344.8 1401.4 3343.4 1402.5 3343.4 1403.3C3343.4 1404.1 3344.5 1405.3 3344.8 1406C3345 1406.8 3345.5 1407.8 3345.2 1408.8C3345 1409.8 3343.9 1412 3342.9 1413C3341.9 1414 3339.7 1415.3 3338.3 1415.8C3336.9 1416.2 3334.2 1416.4 3332.8 1416.2C3331.3 1416 3329.1 1415.3 3328.1 1414.4C3327.1 1413.5 3326.1 1411.3 3325.8 1409.7C3325.5 1408.2 3325.6 1405 3325.8 1403.3C3326 1401.6 3326.9 1399.2 3327.2 1397.7C3327.5 1396.3 3328.1 1394.2 3328.1 1393.1C3328.1 1392 3327.7 1390.5 3327.2 1389.9C3326.7 1389.3 3325.1 1389.4 3324.4 1388.9C3323.7 1388.5 3322.3 1387.3 3322.1 1386.6C3321.9 1385.9 3322.6 1384.6 3323 1383.8C3323.4 1383.1 3324.8 1382.1 3324.9 1381.1C3325 1380 3324.6 1377.8 3324 1376.4C3323.4 1375.1 3321.6 1373.1 3320.7 1371.8C3319.9 1370.5 3318.5 1368.6 3318 1367.2C3317.4 1365.8 3316.8 1363.4 3316.6 1361.6C3316.4 1359.9 3316.3 1356.5 3316.6 1355.2C3316.8 1353.8 3317.8 1352.5 3318.4 1352.2C3319 1351.9 3320.2 1352.2 3320.7 1352.9C3321.3 1353.5 3322.1 1355.5 3322.4 1357C3322.7 1358.5 3322.8 1361.5 3323 1363.5C3323.3 1365.5 3323.5 1369.1 3324 1370.9C3324.4 1372.7 3325.4 1375.3 3326.3 1376.4C3327.1 1377.6 3328.9 1378.9 3330 1379.2C3331 1379.6 3332.6 1379.4 3333.7 1378.8C3334.7 1378.1 3336.7 1376 3337.4 1374.6C3338.1 1373.2 3338.8 1370.6 3338.8 1369C3338.7 1367.5 3337.4 1364.9 3336.9 1363.5C3336.5 1362.1 3335.5 1360.4 3335.5 1359.3C3335.6 1358.3 3336.8 1356.7 3337.4 1356.1C3337.9 1355.5 3339 1354.7 3339.4 1355C3339.8 1355.3 3339.8 1356.9 3340.2 1357.9C3340.5 1359 3340.9 1361.3 3341.5 1362.6C3342.2 1363.9 3343.7 1366.2 3344.8 1367.2C3345.9 1368.2 3348 1369.3 3349.4 1369.5C3350.8 1369.7 3353.6 1369.1 3355 1368.6C3356.3 1368.1 3357.9 1366.7 3358.7 1365.8C3359.4 1365 3359.7 1362.8 3360.5 1362.6C3361.3 1362.3 3362.9 1363.4 3364.2 1364C3365.5 1364.5 3368 1365.8 3369.8 1366.3C3371.5 1366.8 3374.5 1367.9 3376.2 1367.7C3377.9 1367.5 3380.4 1366 3381.8 1364.9C3383.2 1363.8 3384.8 1361.4 3385.9 1359.8C3387.1 1358.2 3389.3 1354.9 3390.1 1353.3C3390.9 1351.8 3391.7 1349.9 3391.5 1348.7C3391.3 1347.5 3388.8 1345.8 3388.7 1344.8C3388.6 1343.9 3390.2 1343.3 3390.5 1342.1C3390.8 1341 3391.3 1338.3 3390.9 1336.8C3390.6 1335.3 3389 1333.1 3387.8 1331.4C3386.6 1329.8 3384 1326.4 3382.4 1325.2C3380.9 1323.9 3378.5 1322.7 3377.1 1322.5C3375.7 1322.3 3373.8 1323.1 3372.6 1323.8C3371.5 1324.6 3369.9 1326.7 3369.1 1327.9C3368.2 1329.1 3367.3 1331.4 3366.4 1332.3C3365.5 1333.2 3363.9 1334 3362.8 1334.1C3361.7 1334.2 3359.4 1333.8 3358.8 1333.2C3358.2 1332.6 3358 1330.8 3358.3 1329.6C3358.7 1328.5 3360 1326.3 3361 1325.2C3362 1324.1 3364.1 1322.7 3365.5 1322.1C3366.9 1321.4 3369.3 1321.3 3370.8 1320.7C3372.4 1320.1 3375.1 1319.2 3376.2 1318C3377.3 1316.9 3378.6 1314.2 3378.9 1312.7C3379.2 1311.2 3378.7 1309.1 3378.4 1307.3C3378.1 1305.6 3377.2 1301.9 3376.6 1300.2C3376.1 1298.4 3375.4 1295.8 3374.4 1294.8C3373.5 1293.8 3371.5 1293.2 3369.9 1293C3368.4 1292.9 3365.6 1293.4 3363.7 1293.9C3361.8 1294.4 3358.6 1295.8 3356.6 1296.6C3354.5 1297.4 3351.2 1298.8 3349.4 1299.7C3347.6 1300.6 3345.3 1302.2 3344.1 1302.9C3342.8 1303.6 3341.3 1304.6 3340.5 1304.6C3339.7 1304.7 3338.5 1303.9 3338.3 1303.3C3338 1302.7 3338.1 1301 3338.7 1300.2C3339.3 1299.4 3340.9 1298.2 3342.3 1297.5C3343.7 1296.8 3346.8 1296 3348.5 1295.3C3350.3 1294.5 3353.3 1293.3 3354.8 1292.1C3356.3 1290.9 3358.4 1288.4 3359.2 1286.8C3360.1 1285.1 3360.6 1282.2 3360.6 1280.5C3360.6 1278.9 3360.2 1276.8 3359.2 1275.2C3358.3 1273.5 3355.5 1270.6 3353.9 1268.9C3352.2 1267.3 3349.4 1264.7 3347.6 1263.6C3345.9 1262.5 3343 1261.4 3341.4 1261.1C3339.7 1260.8 3337.5 1260.9 3336 1261.3C3334.5 1261.8 3332.1 1263 3330.7 1264.5C3329.3 1265.9 3327.3 1269.7 3326.2 1271.6C3325.1 1273.5 3323.8 1276.3 3322.6 1277.9C3321.5 1279.4 3319.4 1281.1 3318.2 1282.3C3317 1283.6 3315 1285.8 3314.1 1286.8C3313.3 1287.7 3312.6 1288.9 3311.9 1289C3311.2 1289.1 3309.9 1288.2 3309.2 1287.7C3308.5 1287.2 3307.7 1285.8 3307 1285.4C3306.3 1285.1 3304.9 1285 3304.3 1285.4C3303.8 1285.9 3303.5 1287.7 3303 1288.6C3302.5 1289.4 3301.3 1291.1 3300.8 1291.2C3300.2 1291.4 3299 1290.3 3299 1289.5C3298.9 1288.6 3299.5 1286.1 3300.3 1285C3301.1 1283.9 3303.1 1282.7 3304.3 1281.4C3305.6 1280.2 3308 1277.7 3309.2 1276.1C3310.5 1274.4 3312.4 1271.6 3313.3 1269.8C3314.1 1268.1 3314.9 1265.3 3315 1263.6C3315.2 1261.8 3314.7 1259.3 3314.1 1257.3C3313.6 1255.3 3312.4 1251.4 3311.5 1249.3C3310.6 1247.1 3309.1 1243.7 3307.9 1242.1C3306.7 1240.6 3304.4 1238.7 3303 1238.1C3301.5 1237.6 3299 1237.7 3297.6 1238.1C3296.2 1238.6 3294.4 1239.8 3293.2 1241.2C3292 1242.7 3290.2 1246.2 3289.1 1248.4C3288.1 1250.5 3287 1254.6 3286 1256.4C3285.1 1258.3 3283.5 1260.6 3282.4 1261.3C3281.4 1262.1 3279.8 1262.2 3278.9 1261.8C3278 1261.3 3276.5 1259.5 3276.2 1258.2C3275.9 1256.9 3276.5 1254.8 3277.1 1252.9C3277.7 1251 3279.7 1247.1 3280.7 1244.8C3281.7 1242.5 3283.6 1239.1 3284.2 1236.8C3284.9 1234.5 3285.4 1230.9 3285.3 1228.8C3285.2 1226.6 3284.3 1223 3283.3 1221.6C3282.4 1220.2 3280.5 1219.1 3278.9 1218.8C3277.2 1218.4 3273.9 1218.5 3271.7 1218.9C3269.6 1219.3 3265.5 1220.6 3263.7 1221.6C3261.9 1222.6 3260.1 1224.4 3259.2 1226.1C3258.4 1227.7 3258.4 1231.9 3257.9 1233.2C3257.4 1234.5 3256.5 1235.4 3255.7 1235.4C3254.8 1235.5 3253.1 1233.8 3252.1 1233.7C3251.1 1233.5 3249.4 1233.7 3248.5 1234.6C3247.6 1235.4 3246.4 1237.5 3245.8 1239.5C3245.3 1241.4 3244.3 1246 3244.5 1248.4C3244.8 1250.8 3246.5 1254.4 3247.6 1256.4C3248.8 1258.5 3251.7 1261.2 3252.5 1262.7C3253.4 1264.1 3253.9 1266 3253.4 1266.7C3253 1267.4 3250.9 1267.9 3249.4 1267.9C3248 1267.9 3244.4 1266.4 3243.2 1266.7C3241.9 1267 3241.1 1268 3240.5 1269.8C3239.9 1271.7 3239.1 1277.5 3238.7 1279.6C3238.3 1281.8 3238.2 1283.5 3238 1285C3237.8 1286.5 3236.9 1289.2 3237.4 1290.4C3237.8 1291.6 3241.6 1292.2 3241.4 1293.5C3241.1 1294.7 3237.3 1299.3 3235.6 1299.3Z" fill="#f3e2e3"/>
<g clip-path="url(#cpS)"><path d="M3230.7 1269.8C3230.3 1269.4 3229.3 1267 3228 1266.7C3226.8 1266.4 3223.2 1267.9 3221.8 1267.9C3220.3 1267.9 3218.2 1267.4 3217.8 1266.7C3217.3 1266 3217.8 1264.1 3218.7 1262.7C3219.5 1261.2 3222.4 1258.5 3223.6 1256.4C3224.7 1254.4 3226.4 1250.8 3226.7 1248.4C3226.9 1246 3225.9 1241.4 3225.4 1239.5C3224.8 1237.5 3223.6 1235.4 3222.7 1234.6C3221.8 1233.7 3220.1 1233.5 3219.1 1233.7C3218.1 1233.8 3216.4 1235.5 3215.5 1235.4C3214.7 1235.4 3213.8 1234.5 3213.3 1233.2C3212.8 1231.9 3212.8 1227.7 3212 1226.1C3211.1 1224.4 3209.3 1222.6 3207.5 1221.6C3205.7 1220.6 3201.6 1219.3 3199.5 1218.9C3197.3 1218.5 3194 1218.4 3192.3 1218.8C3190.7 1219.1 3188.8 1220.2 3187.9 1221.6C3186.9 1223 3186 1226.6 3185.9 1228.8C3185.8 1230.9 3186.3 1234.5 3187 1236.8C3187.6 1239.1 3189.5 1242.5 3190.5 1244.8C3191.5 1247.1 3193.5 1251 3194.1 1252.9C3194.7 1254.8 3195.3 1256.9 3195 1258.2C3194.7 1259.5 3193.2 1261.3 3192.3 1261.8C3191.4 1262.2 3189.8 1262.1 3188.8 1261.3C3187.7 1260.6 3186.1 1258.3 3185.2 1256.4C3184.2 1254.6 3183.1 1250.5 3182.1 1248.4C3181 1246.2 3179.2 1242.7 3178 1241.2C3176.8 1239.8 3175 1238.6 3173.6 1238.1C3172.2 1237.7 3169.7 1237.6 3168.2 1238.1C3166.8 1238.7 3164.5 1240.6 3163.3 1242.1C3162.1 1243.7 3160.6 1247.1 3159.7 1249.3C3158.8 1251.4 3157.6 1255.3 3157.1 1257.3C3156.5 1259.3 3156 1261.8 3156.2 1263.6C3156.3 1265.3 3157.1 1268.1 3157.9 1269.8C3158.8 1271.6 3160.7 1274.4 3162 1276.1C3163.2 1277.7 3165.6 1280.2 3166.9 1281.4C3168.1 1282.7 3170.1 1283.9 3170.9 1285C3171.7 1286.1 3172.3 1288.6 3172.2 1289.5C3172.2 1290.3 3171 1291.4 3170.4 1291.2C3169.9 1291.1 3168.7 1289.4 3168.2 1288.6C3167.7 1287.7 3167.4 1285.9 3166.9 1285.4C3166.3 1285 3164.9 1285.1 3164.2 1285.4C3163.5 1285.8 3162.7 1287.2 3162 1287.7C3161.3 1288.2 3160 1289.1 3159.3 1289C3158.6 1288.9 3157.9 1287.7 3157.1 1286.8C3156.2 1285.8 3154.2 1283.6 3153 1282.3C3151.8 1281.1 3149.7 1279.4 3148.6 1277.9C3147.4 1276.3 3146.1 1273.5 3145 1271.6C3143.9 1269.7 3141.9 1265.9 3140.5 1264.5C3139.1 1263 3136.7 1261.8 3135.2 1261.3C3133.7 1260.9 3131.5 1260.8 3129.8 1261.1C3128.2 1261.4 3125.3 1262.5 3123.6 1263.6C3121.8 1264.7 3119 1267.3 3117.3 1268.9C3115.7 1270.6 3112.9 1273.5 3112 1275.2C3111 1276.8 3110.6 1278.9 3110.6 1280.5C3110.6 1282.2 3111.1 1285.1 3112 1286.8C3112.8 1288.4 3114.9 1290.9 3116.4 1292.1C3117.9 1293.3 3120.9 1294.5 3122.7 1295.3C3124.4 1296 3127.5 1296.8 3128.9 1297.5C3130.3 1298.2 3131.9 1299.4 3132.5 1300.2C3133.1 1301 3133.2 1302.7 3132.9 1303.3C3132.7 1303.9 3131.5 1304.7 3130.7 1304.6C3129.9 1304.6 3128.4 1303.6 3127.1 1302.9C3125.9 1302.2 3123.6 1300.6 3121.8 1299.7C3120 1298.8 3116.7 1297.4 3114.6 1296.6C3112.6 1295.8 3109.4 1294.4 3107.5 1293.9C3105.6 1293.4 3102.8 1292.9 3101.2 1293C3099.7 1293.2 3097.7 1293.8 3096.8 1294.8C3095.8 1295.8 3095.1 1298.4 3094.6 1300.2C3094 1301.9 3093.1 1305.6 3092.8 1307.3C3092.5 1309.1 3092 1311.2 3092.3 1312.7C3092.6 1314.2 3093.9 1316.9 3095 1318C3096.1 1319.2 3098.8 1320.1 3100.4 1320.7C3101.9 1321.3 3104.3 1321.4 3105.7 1322.1C3107.1 1322.7 3109.2 1324.1 3110.2 1325.2C3111.2 1326.3 3112.5 1328.5 3112.9 1329.6C3113.2 1330.8 3113 1332.6 3112.4 1333.2C3111.8 1333.8 3109.5 1334.2 3108.4 1334.1C3107.3 1334 3105.7 1333.2 3104.8 1332.3C3103.9 1331.4 3103 1329.1 3102.1 1327.9C3101.3 1326.7 3099.7 1324.6 3098.6 1323.8C3097.4 1323.1 3095.5 1322.3 3094.1 1322.5C3092.7 1322.7 3090.3 1323.9 3088.8 1325.2C3087.2 1326.4 3084.6 1329.8 3083.4 1331.4C3082.2 1333.1 3080.6 1335.3 3080.3 1336.8C3079.9 1338.3 3080.4 1341 3080.7 1342.1C3081 1343.3 3082.6 1343.9 3082.5 1344.8C3082.4 1345.8 3079.9 1347.5 3079.7 1348.7C3079.5 1349.9 3080.3 1351.8 3081.1 1353.3C3081.9 1354.9 3084.1 1358.2 3085.3 1359.8C3086.4 1361.4 3088 1363.8 3089.4 1364.9C3090.8 1366 3093.3 1367.5 3095 1367.7C3096.7 1367.9 3099.7 1366.8 3101.4 1366.3C3103.2 1365.8 3105.7 1364.5 3107 1364C3108.3 1363.4 3109.9 1362.3 3110.7 1362.6C3111.5 1362.8 3111.8 1365 3112.5 1365.8C3113.3 1366.7 3114.9 1368.1 3116.2 1368.6C3117.6 1369.1 3120.4 1369.7 3121.8 1369.5C3123.2 1369.3 3125.3 1368.2 3126.4 1367.2C3127.5 1366.2 3129 1363.9 3129.7 1362.6C3130.3 1361.3 3130.7 1359 3131 1357.9C3131.4 1356.9 3131.4 1355.3 3131.8 1355C3132.2 1354.7 3133.3 1355.5 3133.8 1356.1C3134.4 1356.7 3135.6 1358.3 3135.7 1359.3C3135.7 1360.4 3134.7 1362.1 3134.3 1363.5C3133.8 1364.9 3132.5 1367.5 3132.4 1369C3132.4 1370.6 3133.1 1373.2 3133.8 1374.6C3134.5 1376 3136.5 1378.1 3137.5 1378.8C3138.6 1379.4 3140.2 1379.6 3141.2 1379.2C3142.3 1378.9 3144.1 1377.6 3144.9 1376.4C3145.8 1375.3 3146.8 1372.7 3147.2 1370.9C3147.7 1369.1 3147.9 1365.5 3148.2 1363.5C3148.4 1361.5 3148.5 1358.5 3148.8 1357C3149.1 1355.5 3149.9 1353.5 3150.5 1352.9C3151 1352.2 3152.2 1351.9 3152.8 1352.2C3153.4 1352.5 3154.4 1353.8 3154.6 1355.2C3154.9 1356.5 3154.8 1359.9 3154.6 1361.6C3154.4 1363.4 3153.8 1365.8 3153.2 1367.2C3152.7 1368.6 3151.3 1370.5 3150.5 1371.8C3149.6 1373.1 3147.8 1375.1 3147.2 1376.4C3146.6 1377.8 3146.2 1380 3146.3 1381.1C3146.4 1382.1 3147.8 1383.1 3148.2 1383.8C3148.6 1384.6 3149.3 1385.9 3149.1 1386.6C3148.9 1387.3 3147.5 1388.5 3146.8 1388.9C3146.1 1389.4 3144.5 1389.3 3144 1389.9C3143.5 1390.5 3143.1 1392 3143.1 1393.1C3143.1 1394.2 3143.7 1396.3 3144 1397.7C3144.3 1399.2 3145.2 1401.6 3145.4 1403.3C3145.6 1405 3145.7 1408.2 3145.4 1409.7C3145.1 1411.3 3144.1 1413.5 3143.1 1414.4C3142.1 1415.3 3139.9 1416 3138.4 1416.2C3137 1416.4 3134.3 1416.2 3132.9 1415.8C3131.5 1415.3 3129.3 1414 3128.3 1413C3127.3 1412 3126.2 1409.8 3126 1408.8C3125.7 1407.8 3126.2 1406.8 3126.4 1406C3126.7 1405.3 3127.8 1404.1 3127.8 1403.3C3127.8 1402.5 3126.4 1401.4 3126.4 1400.5C3126.4 1399.6 3127.5 1398.4 3127.8 1397.3C3128.1 1396.1 3128.5 1393.7 3128.3 1392.2C3128 1390.7 3126.9 1387.8 3126 1386.6C3125 1385.4 3123.2 1384.4 3121.8 1383.8C3120.4 1383.3 3118.1 1383 3116.2 1382.7C3114.4 1382.5 3110.9 1382.3 3108.8 1382C3106.8 1381.7 3103.4 1381.3 3101.4 1380.6C3099.5 1379.9 3096.7 1377.9 3095 1376.9C3093.3 1375.9 3091 1374.3 3089.4 1373.7C3087.9 1373.1 3085.4 1372.6 3083.9 1372.7C3082.4 1372.9 3079.9 1373.7 3078.8 1374.6C3077.7 1375.5 3076.4 1377.8 3076 1379.2C3075.6 1380.7 3075.9 1382.9 3076 1384.8C3076.1 1386.6 3076.3 1390.3 3076.9 1392.2C3077.5 1394 3078.9 1396.7 3080.2 1397.7C3081.4 1398.8 3084 1399.3 3085.7 1399.6C3087.4 1399.8 3090.5 1399.2 3092.2 1399.6C3093.9 1399.9 3096.4 1401 3097.7 1401.9C3099.1 1402.8 3101.2 1405.1 3101.9 1406C3102.6 1407 3103 1408.2 3102.8 1408.8C3102.7 1409.5 3101.6 1410.5 3101 1410.7C3100.3 1410.8 3099.1 1410.5 3098.2 1409.7C3097.4 1409 3095.8 1406.3 3095 1405.1C3094.1 1403.9 3093.2 1402 3092.2 1401.4C3091.2 1400.8 3089 1400.9 3087.6 1401C3086.1 1401 3083.4 1401 3082 1401.6C3080.6 1402.2 3078.6 1403.8 3077.9 1405.1C3077.1 1406.4 3076.9 1409 3076.9 1410.7C3077 1412.4 3077.8 1415.3 3078.3 1417.1C3078.8 1419 3080.1 1421.8 3080.6 1423.6C3081.2 1425.5 3081.9 1428.1 3082 1430.1C3082.2 1432.1 3081.5 1435.5 3081.6 1437.5C3081.6 1439.5 3081.9 1442.3 3082.5 1444C3083.1 1445.7 3084.5 1448.4 3085.7 1449.5C3087 1450.6 3090 1451.6 3091.3 1451.8C3092.5 1452.1 3094.2 1450.8 3094.5 1451.4C3094.8 1452 3093.2 1454.3 3093.1 1456C3093.1 1457.7 3093.4 1461.4 3094 1463.4C3094.7 1465.4 3096.3 1468.4 3097.7 1469.9C3099.2 1471.3 3102.4 1472.5 3104.2 1473.6C3106.1 1474.6 3108.9 1476.4 3110.7 1477.3C3112.5 1478.1 3115.3 1479.2 3117.2 1479.6C3119 1480 3122.1 1480.2 3123.6 1480C3125.2 1479.9 3127.3 1479.1 3128.3 1478.2C3129.3 1477.3 3130.4 1475.1 3130.6 1473.6C3130.8 1472 3129.9 1468.9 3129.7 1467.1C3129.5 1465.3 3129.1 1462.1 3129.2 1460.6C3129.3 1459.2 3129.8 1457.7 3130.6 1456.9C3131.4 1456.1 3133.6 1455.7 3134.7 1455.1C3135.9 1454.4 3137.6 1452.6 3138.4 1452.3C3139.3 1452 3140.4 1452.4 3140.8 1453.2C3141.1 1454 3141 1456.3 3140.8 1457.8C3140.5 1459.4 3139.4 1462.6 3138.9 1464.3C3138.4 1466 3137.2 1468.4 3137.1 1469.9C3136.9 1471.3 3137.7 1473.1 3138 1474.5C3138.3 1475.9 3138.7 1478.8 3139.4 1480C3140.1 1481.3 3141.6 1482.8 3143.1 1483.3C3144.5 1483.8 3147.3 1483.7 3149.5 1483.7C3151.8 1483.8 3156.2 1483.7 3158.8 1483.6C3161.4 1483.4 3165.8 1483.3 3168 1482.8C3170.3 1482.4 3173.1 1481.6 3174.5 1480.5C3175.9 1479.5 3177.5 1476.9 3177.8 1475.4C3178 1473.9 3177.2 1471.2 3176.4 1469.9C3175.5 1468.6 3173.2 1467.2 3171.7 1466.2C3170.3 1465.1 3167.6 1463.7 3166.2 1462.5C3164.8 1461.3 3162.8 1459.2 3162 1457.8C3161.3 1456.5 3161 1454.3 3161.1 1453.2C3161.2 1452.2 3161.9 1450.7 3162.5 1450.4C3163.1 1450.2 3164.7 1450.6 3165.3 1451.4C3165.9 1452.2 3166.1 1454.7 3166.7 1456C3167.2 1457.3 3168.1 1459.6 3169 1460.6C3169.8 1461.7 3171.5 1462.9 3172.7 1463.4C3173.9 1463.9 3175.9 1464.1 3177.3 1463.9C3178.7 1463.6 3181.3 1462.7 3182.8 1461.5C3184.4 1460.4 3187 1457.8 3188.4 1456C3189.8 1454.2 3191.8 1450.8 3193 1448.6C3194.2 1446.4 3195.8 1442.5 3196.7 1440.3C3197.6 1438 3198.6 1434.6 3199.5 1432.9C3200.4 1431.2 3202.5 1429.4 3203.2 1428.2C3203.9 1427.1 3204.6 1425.7 3204.6 1424.5C3204.6 1423.4 3203.9 1420.7 3203.2 1419.9C3202.5 1419.1 3200.4 1419.3 3199.5 1419C3198.6 1418.7 3197.5 1418.9 3196.7 1418.1C3195.9 1417.3 3194.9 1414.6 3193.9 1413.4C3193 1412.3 3191.4 1410.4 3190.2 1409.7C3189.1 1409.1 3187.2 1409 3185.6 1408.8C3184.1 1408.7 3181 1409 3179.1 1408.8C3177.3 1408.7 3173.6 1408 3172.7 1407.9M3240.5 1269.8C3240.9 1269.4 3241.9 1267 3243.2 1266.7C3244.4 1266.4 3248 1267.9 3249.4 1267.9C3250.9 1267.9 3253 1267.4 3253.4 1266.7C3253.9 1266 3253.4 1264.1 3252.5 1262.7C3251.7 1261.2 3248.8 1258.5 3247.6 1256.4C3246.5 1254.4 3244.8 1250.8 3244.5 1248.4C3244.3 1246 3245.3 1241.4 3245.8 1239.5C3246.4 1237.5 3247.6 1235.4 3248.5 1234.6C3249.4 1233.7 3251.1 1233.5 3252.1 1233.7C3253.1 1233.8 3254.8 1235.5 3255.7 1235.4C3256.5 1235.4 3257.4 1234.5 3257.9 1233.2C3258.4 1231.9 3258.4 1227.7 3259.2 1226.1C3260.1 1224.4 3261.9 1222.6 3263.7 1221.6C3265.5 1220.6 3269.6 1219.3 3271.7 1218.9C3273.9 1218.5 3277.2 1218.4 3278.9 1218.8C3280.5 1219.1 3282.4 1220.2 3283.3 1221.6C3284.3 1223 3285.2 1226.6 3285.3 1228.8C3285.4 1230.9 3284.9 1234.5 3284.2 1236.8C3283.6 1239.1 3281.7 1242.5 3280.7 1244.8C3279.7 1247.1 3277.7 1251 3277.1 1252.9C3276.5 1254.8 3275.9 1256.9 3276.2 1258.2C3276.5 1259.5 3278 1261.3 3278.9 1261.8C3279.8 1262.2 3281.4 1262.1 3282.4 1261.3C3283.5 1260.6 3285.1 1258.3 3286 1256.4C3287 1254.6 3288.1 1250.5 3289.1 1248.4C3290.2 1246.2 3292 1242.7 3293.2 1241.2C3294.4 1239.8 3296.2 1238.6 3297.6 1238.1C3299 1237.7 3301.5 1237.6 3303 1238.1C3304.4 1238.7 3306.7 1240.6 3307.9 1242.1C3309.1 1243.7 3310.6 1247.1 3311.5 1249.3C3312.4 1251.4 3313.6 1255.3 3314.1 1257.3C3314.7 1259.3 3315.2 1261.8 3315 1263.6C3314.9 1265.3 3314.1 1268.1 3313.3 1269.8C3312.4 1271.6 3310.5 1274.4 3309.2 1276.1C3308 1277.7 3305.6 1280.2 3304.3 1281.4C3303.1 1282.7 3301.1 1283.9 3300.3 1285C3299.5 1286.1 3298.9 1288.6 3299 1289.5C3299 1290.3 3300.2 1291.4 3300.8 1291.2C3301.3 1291.1 3302.5 1289.4 3303 1288.6C3303.5 1287.7 3303.8 1285.9 3304.3 1285.4C3304.9 1285 3306.3 1285.1 3307 1285.4C3307.7 1285.8 3308.5 1287.2 3309.2 1287.7C3309.9 1288.2 3311.2 1289.1 3311.9 1289C3312.6 1288.9 3313.3 1287.7 3314.1 1286.8C3315 1285.8 3317 1283.6 3318.2 1282.3C3319.4 1281.1 3321.5 1279.4 3322.6 1277.9C3323.8 1276.3 3325.1 1273.5 3326.2 1271.6C3327.3 1269.7 3329.3 1265.9 3330.7 1264.5C3332.1 1263 3334.5 1261.8 3336 1261.3C3337.5 1260.9 3339.7 1260.8 3341.4 1261.1C3343 1261.4 3345.9 1262.5 3347.6 1263.6C3349.4 1264.7 3352.2 1267.3 3353.9 1268.9C3355.5 1270.6 3358.3 1273.5 3359.2 1275.2C3360.2 1276.8 3360.6 1278.9 3360.6 1280.5C3360.6 1282.2 3360.1 1285.1 3359.2 1286.8C3358.4 1288.4 3356.3 1290.9 3354.8 1292.1C3353.3 1293.3 3350.3 1294.5 3348.5 1295.3C3346.8 1296 3343.7 1296.8 3342.3 1297.5C3340.9 1298.2 3339.3 1299.4 3338.7 1300.2C3338.1 1301 3338 1302.7 3338.3 1303.3C3338.5 1303.9 3339.7 1304.7 3340.5 1304.6C3341.3 1304.6 3342.8 1303.6 3344.1 1302.9C3345.3 1302.2 3347.6 1300.6 3349.4 1299.7C3351.2 1298.8 3354.5 1297.4 3356.6 1296.6C3358.6 1295.8 3361.8 1294.4 3363.7 1293.9C3365.6 1293.4 3368.4 1292.9 3369.9 1293C3371.5 1293.2 3373.5 1293.8 3374.4 1294.8C3375.4 1295.8 3376.1 1298.4 3376.6 1300.2C3377.2 1301.9 3378.1 1305.6 3378.4 1307.3C3378.7 1309.1 3379.2 1311.2 3378.9 1312.7C3378.6 1314.2 3377.3 1316.9 3376.2 1318C3375.1 1319.2 3372.4 1320.1 3370.8 1320.7C3369.3 1321.3 3366.9 1321.4 3365.5 1322.1C3364.1 1322.7 3362 1324.1 3361 1325.2C3360 1326.3 3358.7 1328.5 3358.3 1329.6C3358 1330.8 3358.2 1332.6 3358.8 1333.2C3359.4 1333.8 3361.7 1334.2 3362.8 1334.1C3363.9 1334 3365.5 1333.2 3366.4 1332.3C3367.3 1331.4 3368.2 1329.1 3369.1 1327.9C3369.9 1326.7 3371.5 1324.6 3372.6 1323.8C3373.8 1323.1 3375.7 1322.3 3377.1 1322.5C3378.5 1322.7 3380.9 1323.9 3382.4 1325.2C3384 1326.4 3386.6 1329.8 3387.8 1331.4C3389 1333.1 3390.6 1335.3 3390.9 1336.8C3391.3 1338.3 3390.8 1341 3390.5 1342.1C3390.2 1343.3 3388.6 1343.9 3388.7 1344.8C3388.8 1345.8 3391.3 1347.5 3391.5 1348.7C3391.7 1349.9 3390.9 1351.8 3390.1 1353.3C3389.3 1354.9 3387.1 1358.2 3385.9 1359.8C3384.8 1361.4 3383.2 1363.8 3381.8 1364.9C3380.4 1366 3377.9 1367.5 3376.2 1367.7C3374.5 1367.9 3371.5 1366.8 3369.8 1366.3C3368 1365.8 3365.5 1364.5 3364.2 1364C3362.9 1363.4 3361.3 1362.3 3360.5 1362.6C3359.7 1362.8 3359.4 1365 3358.7 1365.8C3357.9 1366.7 3356.3 1368.1 3355 1368.6C3353.6 1369.1 3350.8 1369.7 3349.4 1369.5C3348 1369.3 3345.9 1368.2 3344.8 1367.2C3343.7 1366.2 3342.2 1363.9 3341.5 1362.6C3340.9 1361.3 3340.5 1359 3340.2 1357.9C3339.8 1356.9 3339.8 1355.3 3339.4 1355C3339 1354.7 3337.9 1355.5 3337.4 1356.1C3336.8 1356.7 3335.6 1358.3 3335.5 1359.3C3335.5 1360.4 3336.5 1362.1 3336.9 1363.5C3337.4 1364.9 3338.7 1367.5 3338.8 1369C3338.8 1370.6 3338.1 1373.2 3337.4 1374.6C3336.7 1376 3334.7 1378.1 3333.7 1378.8C3332.6 1379.4 3331 1379.6 3330 1379.2C3328.9 1378.9 3327.1 1377.6 3326.3 1376.4C3325.4 1375.3 3324.4 1372.7 3324 1370.9C3323.5 1369.1 3323.3 1365.5 3323 1363.5C3322.8 1361.5 3322.7 1358.5 3322.4 1357C3322.1 1355.5 3321.3 1353.5 3320.7 1352.9C3320.2 1352.2 3319 1351.9 3318.4 1352.2C3317.8 1352.5 3316.8 1353.8 3316.6 1355.2C3316.3 1356.5 3316.4 1359.9 3316.6 1361.6C3316.8 1363.4 3317.4 1365.8 3318 1367.2C3318.5 1368.6 3319.9 1370.5 3320.7 1371.8C3321.6 1373.1 3323.4 1375.1 3324 1376.4C3324.6 1377.8 3325 1380 3324.9 1381.1C3324.8 1382.1 3323.4 1383.1 3323 1383.8C3322.6 1384.6 3321.9 1385.9 3322.1 1386.6C3322.3 1387.3 3323.7 1388.5 3324.4 1388.9C3325.1 1389.4 3326.7 1389.3 3327.2 1389.9C3327.7 1390.5 3328.1 1392 3328.1 1393.1C3328.1 1394.2 3327.5 1396.3 3327.2 1397.7C3326.9 1399.2 3326 1401.6 3325.8 1403.3C3325.6 1405 3325.5 1408.2 3325.8 1409.7C3326.1 1411.3 3327.1 1413.5 3328.1 1414.4C3329.1 1415.3 3331.3 1416 3332.8 1416.2C3334.2 1416.4 3336.9 1416.2 3338.3 1415.8C3339.7 1415.3 3341.9 1414 3342.9 1413C3343.9 1412 3345 1409.8 3345.2 1408.8C3345.5 1407.8 3345 1406.8 3344.8 1406C3344.5 1405.3 3343.4 1404.1 3343.4 1403.3C3343.4 1402.5 3344.8 1401.4 3344.8 1400.5C3344.8 1399.6 3343.7 1398.4 3343.4 1397.3C3343.1 1396.1 3342.7 1393.7 3342.9 1392.2C3343.2 1390.7 3344.3 1387.8 3345.2 1386.6C3346.2 1385.4 3348 1384.4 3349.4 1383.8C3350.8 1383.3 3353.1 1383 3355 1382.7C3356.8 1382.5 3360.3 1382.3 3362.4 1382C3364.4 1381.7 3367.8 1381.3 3369.8 1380.6C3371.7 1379.9 3374.5 1377.9 3376.2 1376.9C3377.9 1375.9 3380.2 1374.3 3381.8 1373.7C3383.3 1373.1 3385.8 1372.6 3387.3 1372.7C3388.8 1372.9 3391.3 1373.7 3392.4 1374.6C3393.5 1375.5 3394.8 1377.8 3395.2 1379.2C3395.6 1380.7 3395.3 1382.9 3395.2 1384.8C3395.1 1386.6 3394.9 1390.3 3394.3 1392.2C3393.7 1394 3392.3 1396.7 3391 1397.7C3389.8 1398.8 3387.2 1399.3 3385.5 1399.6C3383.8 1399.8 3380.7 1399.2 3379 1399.6C3377.3 1399.9 3374.8 1401 3373.5 1401.9C3372.1 1402.8 3370 1405.1 3369.3 1406C3368.6 1407 3368.2 1408.2 3368.4 1408.8C3368.5 1409.5 3369.6 1410.5 3370.2 1410.7C3370.9 1410.8 3372.1 1410.5 3373 1409.7C3373.8 1409 3375.4 1406.3 3376.2 1405.1C3377.1 1403.9 3378 1402 3379 1401.4C3380 1400.8 3382.2 1400.9 3383.6 1401C3385.1 1401 3387.8 1401 3389.2 1401.6C3390.6 1402.2 3392.6 1403.8 3393.3 1405.1C3394.1 1406.4 3394.3 1409 3394.3 1410.7C3394.2 1412.4 3393.4 1415.3 3392.9 1417.1C3392.4 1419 3391.1 1421.8 3390.6 1423.6C3390 1425.5 3389.3 1428.1 3389.2 1430.1C3389 1432.1 3389.7 1435.5 3389.6 1437.5C3389.6 1439.5 3389.3 1442.3 3388.7 1444C3388.1 1445.7 3386.7 1448.4 3385.5 1449.5C3384.2 1450.6 3381.2 1451.6 3379.9 1451.8C3378.7 1452.1 3377 1450.8 3376.7 1451.4C3376.4 1452 3378 1454.3 3378.1 1456C3378.1 1457.7 3377.8 1461.4 3377.2 1463.4C3376.5 1465.4 3374.9 1468.4 3373.5 1469.9C3372 1471.3 3368.8 1472.5 3367 1473.6C3365.1 1474.6 3362.3 1476.4 3360.5 1477.3C3358.7 1478.1 3355.9 1479.2 3354 1479.6C3352.2 1480 3349.1 1480.2 3347.6 1480C3346 1479.9 3343.9 1479.1 3342.9 1478.2C3341.9 1477.3 3340.8 1475.1 3340.6 1473.6C3340.4 1472 3341.3 1468.9 3341.5 1467.1C3341.7 1465.3 3342.1 1462.1 3342 1460.6C3341.9 1459.2 3341.4 1457.7 3340.6 1456.9C3339.8 1456.1 3337.6 1455.7 3336.5 1455.1C3335.3 1454.4 3333.6 1452.6 3332.8 1452.3C3331.9 1452 3330.8 1452.4 3330.4 1453.2C3330.1 1454 3330.2 1456.3 3330.4 1457.8C3330.7 1459.4 3331.8 1462.6 3332.3 1464.3C3332.8 1466 3334 1468.4 3334.1 1469.9C3334.3 1471.3 3333.5 1473.1 3333.2 1474.5C3332.9 1475.9 3332.5 1478.8 3331.8 1480C3331.1 1481.3 3329.6 1482.8 3328.1 1483.3C3326.7 1483.8 3323.9 1483.7 3321.7 1483.7C3319.4 1483.8 3315 1483.7 3312.4 1483.6C3309.8 1483.4 3305.4 1483.3 3303.2 1482.8C3300.9 1482.4 3298.1 1481.6 3296.7 1480.5C3295.3 1479.5 3293.7 1476.9 3293.4 1475.4C3293.2 1473.9 3294 1471.2 3294.8 1469.9C3295.7 1468.6 3298 1467.2 3299.5 1466.2C3300.9 1465.1 3303.6 1463.7 3305 1462.5C3306.4 1461.3 3308.4 1459.2 3309.2 1457.8C3309.9 1456.5 3310.2 1454.3 3310.1 1453.2C3310 1452.2 3309.3 1450.7 3308.7 1450.4C3308.1 1450.2 3306.5 1450.6 3305.9 1451.4C3305.3 1452.2 3305.1 1454.7 3304.5 1456C3304 1457.3 3303.1 1459.6 3302.2 1460.6C3301.4 1461.7 3299.7 1462.9 3298.5 1463.4C3297.3 1463.9 3295.3 1464.1 3293.9 1463.9C3292.5 1463.6 3289.9 1462.7 3288.4 1461.5C3286.8 1460.4 3284.2 1457.8 3282.8 1456C3281.4 1454.2 3279.4 1450.8 3278.2 1448.6C3277 1446.4 3275.4 1442.5 3274.5 1440.3C3273.6 1438 3272.6 1434.6 3271.7 1432.9C3270.8 1431.2 3268.7 1429.4 3268 1428.2C3267.3 1427.1 3266.6 1425.7 3266.6 1424.5C3266.6 1423.4 3267.3 1420.7 3268 1419.9C3268.7 1419.1 3270.8 1419.3 3271.7 1419C3272.6 1418.7 3273.7 1418.9 3274.5 1418.1C3275.3 1417.3 3276.3 1414.6 3277.3 1413.4C3278.2 1412.3 3279.8 1410.4 3281 1409.7C3282.1 1409.1 3284 1409 3285.6 1408.8C3287.1 1408.7 3290.2 1409 3292.1 1408.8C3293.9 1408.7 3297.6 1408 3298.5 1407.9" fill="none" stroke="#f2cbce" stroke-width="25" stroke-linejoin="round" filter="url(#fB)"/>
<circle cx="3164.8" cy="1309.4" r="15.6" fill="url(#gSpot)"/>
<circle cx="3142.4" cy="1330.1" r="11.1" fill="url(#gSpot)"/>
<circle cx="3190.6" cy="1368" r="11.1" fill="url(#gSpot)"/>
<circle cx="3170.2" cy="1381.8" r="13.7" fill="url(#gSpot)"/>
<circle cx="3219.3" cy="1384.6" r="18.2" fill="url(#gSpot)"/>
<circle cx="3178.2" cy="1419.7" r="11.1" fill="url(#gSpot)"/>
<circle cx="3131.9" cy="1429.6" r="14.3" fill="url(#gSpot)"/>
<circle cx="3098.8" cy="1420" r="13" fill="url(#gSpot)"/>
<circle cx="3206.9" cy="1250.1" r="16.3" fill="url(#gSpot)"/>
<circle cx="3267.7" cy="1291.8" r="11.1" fill="url(#gSpot)"/>
<circle cx="3303.5" cy="1321.5" r="16.3" fill="url(#gSpot)"/>
<circle cx="3329" cy="1330.1" r="11.1" fill="url(#gSpot)"/>
<circle cx="3354.2" cy="1346.4" r="15" fill="url(#gSpot)"/>
<circle cx="3289.2" cy="1357.9" r="11.1" fill="url(#gSpot)"/>
<circle cx="3272" cy="1377" r="18.2" fill="url(#gSpot)"/>
<circle cx="3287.3" cy="1425.4" r="10.4" fill="url(#gSpot)"/>
<circle cx="3338.9" cy="1429.6" r="14.3" fill="url(#gSpot)"/>
<circle cx="3356.1" cy="1420" r="9.1" fill="url(#gSpot)"/>
</g>
<path d="M3235.6 1299.3C3234 1299.3 3230.1 1294.7 3229.8 1293.5C3229.6 1292.2 3233.4 1291.6 3233.8 1290.4C3234.3 1289.2 3233.4 1286.5 3233.2 1285C3233 1283.5 3232.9 1281.8 3232.5 1279.6C3232.1 1277.5 3231.3 1271.7 3230.7 1269.8C3230.1 1268 3229.3 1267 3228 1266.7C3226.8 1266.4 3223.2 1267.9 3221.8 1267.9C3220.3 1267.9 3218.2 1267.4 3217.8 1266.7C3217.3 1266 3217.8 1264.1 3218.7 1262.7C3219.5 1261.2 3222.4 1258.5 3223.6 1256.4C3224.7 1254.4 3226.4 1250.8 3226.7 1248.4C3226.9 1246 3225.9 1241.4 3225.4 1239.5C3224.8 1237.5 3223.6 1235.4 3222.7 1234.6C3221.8 1233.7 3220.1 1233.5 3219.1 1233.7C3218.1 1233.8 3216.4 1235.5 3215.5 1235.4C3214.7 1235.4 3213.8 1234.5 3213.3 1233.2C3212.8 1231.9 3212.8 1227.7 3212 1226.1C3211.1 1224.4 3209.3 1222.6 3207.5 1221.6C3205.7 1220.6 3201.6 1219.3 3199.5 1218.9C3197.3 1218.5 3194 1218.4 3192.3 1218.8C3190.7 1219.1 3188.8 1220.2 3187.9 1221.6C3186.9 1223 3186 1226.6 3185.9 1228.8C3185.8 1230.9 3186.3 1234.5 3187 1236.8C3187.6 1239.1 3189.5 1242.5 3190.5 1244.8C3191.5 1247.1 3193.5 1251 3194.1 1252.9C3194.7 1254.8 3195.3 1256.9 3195 1258.2C3194.7 1259.5 3193.2 1261.3 3192.3 1261.8C3191.4 1262.2 3189.8 1262.1 3188.8 1261.3C3187.7 1260.6 3186.1 1258.3 3185.2 1256.4C3184.2 1254.6 3183.1 1250.5 3182.1 1248.4C3181 1246.2 3179.2 1242.7 3178 1241.2C3176.8 1239.8 3175 1238.6 3173.6 1238.1C3172.2 1237.7 3169.7 1237.6 3168.2 1238.1C3166.8 1238.7 3164.5 1240.6 3163.3 1242.1C3162.1 1243.7 3160.6 1247.1 3159.7 1249.3C3158.8 1251.4 3157.6 1255.3 3157.1 1257.3C3156.5 1259.3 3156 1261.8 3156.2 1263.6C3156.3 1265.3 3157.1 1268.1 3157.9 1269.8C3158.8 1271.6 3160.7 1274.4 3162 1276.1C3163.2 1277.7 3165.6 1280.2 3166.9 1281.4C3168.1 1282.7 3170.1 1283.9 3170.9 1285C3171.7 1286.1 3172.3 1288.6 3172.2 1289.5C3172.2 1290.3 3171 1291.4 3170.4 1291.2C3169.9 1291.1 3168.7 1289.4 3168.2 1288.6C3167.7 1287.7 3167.4 1285.9 3166.9 1285.4C3166.3 1285 3164.9 1285.1 3164.2 1285.4C3163.5 1285.8 3162.7 1287.2 3162 1287.7C3161.3 1288.2 3160 1289.1 3159.3 1289C3158.6 1288.9 3157.9 1287.7 3157.1 1286.8C3156.2 1285.8 3154.2 1283.6 3153 1282.3C3151.8 1281.1 3149.7 1279.4 3148.6 1277.9C3147.4 1276.3 3146.1 1273.5 3145 1271.6C3143.9 1269.7 3141.9 1265.9 3140.5 1264.5C3139.1 1263 3136.7 1261.8 3135.2 1261.3C3133.7 1260.9 3131.5 1260.8 3129.8 1261.1C3128.2 1261.4 3125.3 1262.5 3123.6 1263.6C3121.8 1264.7 3119 1267.3 3117.3 1268.9C3115.7 1270.6 3112.9 1273.5 3112 1275.2C3111 1276.8 3110.6 1278.9 3110.6 1280.5C3110.6 1282.2 3111.1 1285.1 3112 1286.8C3112.8 1288.4 3114.9 1290.9 3116.4 1292.1C3117.9 1293.3 3120.9 1294.5 3122.7 1295.3C3124.4 1296 3127.5 1296.8 3128.9 1297.5C3130.3 1298.2 3131.9 1299.4 3132.5 1300.2C3133.1 1301 3133.2 1302.7 3132.9 1303.3C3132.7 1303.9 3131.5 1304.7 3130.7 1304.6C3129.9 1304.6 3128.4 1303.6 3127.1 1302.9C3125.9 1302.2 3123.6 1300.6 3121.8 1299.7C3120 1298.8 3116.7 1297.4 3114.6 1296.6C3112.6 1295.8 3109.4 1294.4 3107.5 1293.9C3105.6 1293.4 3102.8 1292.9 3101.2 1293C3099.7 1293.2 3097.7 1293.8 3096.8 1294.8C3095.8 1295.8 3095.1 1298.4 3094.6 1300.2C3094 1301.9 3093.1 1305.6 3092.8 1307.3C3092.5 1309.1 3092 1311.2 3092.3 1312.7C3092.6 1314.2 3093.9 1316.9 3095 1318C3096.1 1319.2 3098.8 1320.1 3100.4 1320.7C3101.9 1321.3 3104.3 1321.4 3105.7 1322.1C3107.1 1322.7 3109.2 1324.1 3110.2 1325.2C3111.2 1326.3 3112.5 1328.5 3112.9 1329.6C3113.2 1330.8 3113 1332.6 3112.4 1333.2C3111.8 1333.8 3109.5 1334.2 3108.4 1334.1C3107.3 1334 3105.7 1333.2 3104.8 1332.3C3103.9 1331.4 3103 1329.1 3102.1 1327.9C3101.3 1326.7 3099.7 1324.6 3098.6 1323.8C3097.4 1323.1 3095.5 1322.3 3094.1 1322.5C3092.7 1322.7 3090.3 1323.9 3088.8 1325.2C3087.2 1326.4 3084.6 1329.8 3083.4 1331.4C3082.2 1333.1 3080.6 1335.3 3080.3 1336.8C3079.9 1338.3 3080.4 1341 3080.7 1342.1C3081 1343.3 3082.6 1343.9 3082.5 1344.8C3082.4 1345.8 3079.9 1347.5 3079.7 1348.7C3079.5 1349.9 3080.3 1351.8 3081.1 1353.3C3081.9 1354.9 3084.1 1358.2 3085.3 1359.8C3086.4 1361.4 3088 1363.8 3089.4 1364.9C3090.8 1366 3093.3 1367.5 3095 1367.7C3096.7 1367.9 3099.7 1366.8 3101.4 1366.3C3103.2 1365.8 3105.7 1364.5 3107 1364C3108.3 1363.4 3109.9 1362.3 3110.7 1362.6C3111.5 1362.8 3111.8 1365 3112.5 1365.8C3113.3 1366.7 3114.9 1368.1 3116.2 1368.6C3117.6 1369.1 3120.4 1369.7 3121.8 1369.5C3123.2 1369.3 3125.3 1368.2 3126.4 1367.2C3127.5 1366.2 3129 1363.9 3129.7 1362.6C3130.3 1361.3 3130.7 1359 3131 1357.9C3131.4 1356.9 3131.4 1355.3 3131.8 1355C3132.2 1354.7 3133.3 1355.5 3133.8 1356.1C3134.4 1356.7 3135.6 1358.3 3135.7 1359.3C3135.7 1360.4 3134.7 1362.1 3134.3 1363.5C3133.8 1364.9 3132.5 1367.5 3132.4 1369C3132.4 1370.6 3133.1 1373.2 3133.8 1374.6C3134.5 1376 3136.5 1378.1 3137.5 1378.8C3138.6 1379.4 3140.2 1379.6 3141.2 1379.2C3142.3 1378.9 3144.1 1377.6 3144.9 1376.4C3145.8 1375.3 3146.8 1372.7 3147.2 1370.9C3147.7 1369.1 3147.9 1365.5 3148.2 1363.5C3148.4 1361.5 3148.5 1358.5 3148.8 1357C3149.1 1355.5 3149.9 1353.5 3150.5 1352.9C3151 1352.2 3152.2 1351.9 3152.8 1352.2C3153.4 1352.5 3154.4 1353.8 3154.6 1355.2C3154.9 1356.5 3154.8 1359.9 3154.6 1361.6C3154.4 1363.4 3153.8 1365.8 3153.2 1367.2C3152.7 1368.6 3151.3 1370.5 3150.5 1371.8C3149.6 1373.1 3147.8 1375.1 3147.2 1376.4C3146.6 1377.8 3146.2 1380 3146.3 1381.1C3146.4 1382.1 3147.8 1383.1 3148.2 1383.8C3148.6 1384.6 3149.3 1385.9 3149.1 1386.6C3148.9 1387.3 3147.5 1388.5 3146.8 1388.9C3146.1 1389.4 3144.5 1389.3 3144 1389.9C3143.5 1390.5 3143.1 1392 3143.1 1393.1C3143.1 1394.2 3143.7 1396.3 3144 1397.7C3144.3 1399.2 3145.2 1401.6 3145.4 1403.3C3145.6 1405 3145.7 1408.2 3145.4 1409.7C3145.1 1411.3 3144.1 1413.5 3143.1 1414.4C3142.1 1415.3 3139.9 1416 3138.4 1416.2C3137 1416.4 3134.3 1416.2 3132.9 1415.8C3131.5 1415.3 3129.3 1414 3128.3 1413C3127.3 1412 3126.2 1409.8 3126 1408.8C3125.7 1407.8 3126.2 1406.8 3126.4 1406C3126.7 1405.3 3127.8 1404.1 3127.8 1403.3C3127.8 1402.5 3126.4 1401.4 3126.4 1400.5C3126.4 1399.6 3127.5 1398.4 3127.8 1397.3C3128.1 1396.1 3128.5 1393.7 3128.3 1392.2C3128 1390.7 3126.9 1387.8 3126 1386.6C3125 1385.4 3123.2 1384.4 3121.8 1383.8C3120.4 1383.3 3118.1 1383 3116.2 1382.7C3114.4 1382.5 3110.9 1382.3 3108.8 1382C3106.8 1381.7 3103.4 1381.3 3101.4 1380.6C3099.5 1379.9 3096.7 1377.9 3095 1376.9C3093.3 1375.9 3091 1374.3 3089.4 1373.7C3087.9 1373.1 3085.4 1372.6 3083.9 1372.7C3082.4 1372.9 3079.9 1373.7 3078.8 1374.6C3077.7 1375.5 3076.4 1377.8 3076 1379.2C3075.6 1380.7 3075.9 1382.9 3076 1384.8C3076.1 1386.6 3076.3 1390.3 3076.9 1392.2C3077.5 1394 3078.9 1396.7 3080.2 1397.7C3081.4 1398.8 3084 1399.3 3085.7 1399.6C3087.4 1399.8 3090.5 1399.2 3092.2 1399.6C3093.9 1399.9 3096.4 1401 3097.7 1401.9C3099.1 1402.8 3101.2 1405.1 3101.9 1406C3102.6 1407 3103 1408.2 3102.8 1408.8C3102.7 1409.5 3101.6 1410.5 3101 1410.7C3100.3 1410.8 3099.1 1410.5 3098.2 1409.7C3097.4 1409 3095.8 1406.3 3095 1405.1C3094.1 1403.9 3093.2 1402 3092.2 1401.4C3091.2 1400.8 3089 1400.9 3087.6 1401C3086.1 1401 3083.4 1401 3082 1401.6C3080.6 1402.2 3078.6 1403.8 3077.9 1405.1C3077.1 1406.4 3076.9 1409 3076.9 1410.7C3077 1412.4 3077.8 1415.3 3078.3 1417.1C3078.8 1419 3080.1 1421.8 3080.6 1423.6C3081.2 1425.5 3081.9 1428.1 3082 1430.1C3082.2 1432.1 3081.5 1435.5 3081.6 1437.5C3081.6 1439.5 3081.9 1442.3 3082.5 1444C3083.1 1445.7 3084.5 1448.4 3085.7 1449.5C3087 1450.6 3090 1451.6 3091.3 1451.8C3092.5 1452.1 3094.2 1450.8 3094.5 1451.4C3094.8 1452 3093.2 1454.3 3093.1 1456C3093.1 1457.7 3093.4 1461.4 3094 1463.4C3094.7 1465.4 3096.3 1468.4 3097.7 1469.9C3099.2 1471.3 3102.4 1472.5 3104.2 1473.6C3106.1 1474.6 3108.9 1476.4 3110.7 1477.3C3112.5 1478.1 3115.3 1479.2 3117.2 1479.6C3119 1480 3122.1 1480.2 3123.6 1480C3125.2 1479.9 3127.3 1479.1 3128.3 1478.2C3129.3 1477.3 3130.4 1475.1 3130.6 1473.6C3130.8 1472 3129.9 1468.9 3129.7 1467.1C3129.5 1465.3 3129.1 1462.1 3129.2 1460.6C3129.3 1459.2 3129.8 1457.7 3130.6 1456.9C3131.4 1456.1 3133.6 1455.7 3134.7 1455.1C3135.9 1454.4 3137.6 1452.6 3138.4 1452.3C3139.3 1452 3140.4 1452.4 3140.8 1453.2C3141.1 1454 3141 1456.3 3140.8 1457.8C3140.5 1459.4 3139.4 1462.6 3138.9 1464.3C3138.4 1466 3137.2 1468.4 3137.1 1469.9C3136.9 1471.3 3137.7 1473.1 3138 1474.5C3138.3 1475.9 3138.7 1478.8 3139.4 1480C3140.1 1481.3 3141.6 1482.8 3143.1 1483.3C3144.5 1483.8 3147.3 1483.7 3149.5 1483.7C3151.8 1483.8 3156.2 1483.7 3158.8 1483.6C3161.4 1483.4 3165.8 1483.3 3168 1482.8C3170.3 1482.4 3173.1 1481.6 3174.5 1480.5C3175.9 1479.5 3177.5 1476.9 3177.8 1475.4C3178 1473.9 3177.2 1471.2 3176.4 1469.9C3175.5 1468.6 3173.2 1467.2 3171.7 1466.2C3170.3 1465.1 3167.6 1463.7 3166.2 1462.5C3164.8 1461.3 3162.8 1459.2 3162 1457.8C3161.3 1456.5 3161 1454.3 3161.1 1453.2C3161.2 1452.2 3161.9 1450.7 3162.5 1450.4C3163.1 1450.2 3164.7 1450.6 3165.3 1451.4C3165.9 1452.2 3166.1 1454.7 3166.7 1456C3167.2 1457.3 3168.1 1459.6 3169 1460.6C3169.8 1461.7 3171.5 1462.9 3172.7 1463.4C3173.9 1463.9 3175.9 1464.1 3177.3 1463.9C3178.7 1463.6 3181.3 1462.7 3182.8 1461.5C3184.4 1460.4 3187 1457.8 3188.4 1456C3189.8 1454.2 3191.8 1450.8 3193 1448.6C3194.2 1446.4 3195.8 1442.5 3196.7 1440.3C3197.6 1438 3198.6 1434.6 3199.5 1432.9C3200.4 1431.2 3202.5 1429.4 3203.2 1428.2C3203.9 1427.1 3204.6 1425.7 3204.6 1424.5C3204.6 1423.4 3203.9 1420.7 3203.2 1419.9C3202.5 1419.1 3200.4 1419.3 3199.5 1419C3198.6 1418.7 3197.5 1418.9 3196.7 1418.1C3195.9 1417.3 3194.9 1414.6 3193.9 1413.4C3193 1412.3 3191.4 1410.4 3190.2 1409.7C3189.1 1409.1 3187.2 1409 3185.6 1408.8C3184.1 1408.7 3181 1409 3179.1 1408.8C3177.3 1408.7 3174 1408.4 3172.7 1407.9C3171.3 1407.4 3169.9 1406 3169.4 1405.1C3169 1404.3 3169 1402.5 3169.4 1401.9C3169.9 1401.2 3171 1400.7 3172.7 1400.5C3174.3 1400.3 3178.5 1400.3 3181 1400.3C3183.5 1400.3 3187.6 1400.3 3190.2 1400.3C3192.9 1400.3 3197.5 1400.1 3199.5 1400.3C3201.5 1400.5 3202.8 1401.2 3204.1 1401.9C3205.4 1402.6 3207.2 1404.4 3208.7 1405.1C3210.3 1405.8 3213.3 1406.6 3215.2 1407C3217.2 1407.4 3220.9 1407.4 3222.6 1407.9C3224.3 1408.4 3225.9 1409.8 3227.2 1410.7C3228.6 1411.5 3230.7 1413.2 3231.9 1413.9C3233.1 1414.6 3234.5 1415.6 3235.6 1415.6C3236.7 1415.6 3238.1 1414.6 3239.3 1413.9C3240.5 1413.2 3242.6 1411.5 3244 1410.7C3245.3 1409.8 3246.9 1408.4 3248.6 1407.9C3250.3 1407.4 3254 1407.4 3256 1407C3257.9 1406.6 3260.9 1405.8 3262.5 1405.1C3264 1404.4 3265.8 1402.6 3267.1 1401.9C3268.4 1401.2 3269.7 1400.5 3271.7 1400.3C3273.7 1400.1 3278.3 1400.3 3281 1400.3C3283.6 1400.3 3287.7 1400.3 3290.2 1400.3C3292.7 1400.3 3296.9 1400.3 3298.5 1400.5C3300.2 1400.7 3301.3 1401.2 3301.8 1401.9C3302.2 1402.5 3302.2 1404.3 3301.8 1405.1C3301.3 1406 3299.9 1407.4 3298.5 1407.9C3297.2 1408.4 3293.9 1408.7 3292.1 1408.8C3290.2 1409 3287.1 1408.7 3285.6 1408.8C3284 1409 3282.1 1409.1 3281 1409.7C3279.8 1410.4 3278.2 1412.3 3277.3 1413.4C3276.3 1414.6 3275.3 1417.3 3274.5 1418.1C3273.7 1418.9 3272.6 1418.7 3271.7 1419C3270.8 1419.3 3268.7 1419.1 3268 1419.9C3267.3 1420.7 3266.6 1423.4 3266.6 1424.5C3266.6 1425.7 3267.3 1427.1 3268 1428.2C3268.7 1429.4 3270.8 1431.2 3271.7 1432.9C3272.6 1434.6 3273.6 1438 3274.5 1440.3C3275.4 1442.5 3277 1446.4 3278.2 1448.6C3279.4 1450.8 3281.4 1454.2 3282.8 1456C3284.2 1457.8 3286.8 1460.4 3288.4 1461.5C3289.9 1462.7 3292.5 1463.6 3293.9 1463.9C3295.3 1464.1 3297.3 1463.9 3298.5 1463.4C3299.7 1462.9 3301.4 1461.7 3302.2 1460.6C3303.1 1459.6 3304 1457.3 3304.5 1456C3305.1 1454.7 3305.3 1452.2 3305.9 1451.4C3306.5 1450.6 3308.1 1450.2 3308.7 1450.4C3309.3 1450.7 3310 1452.2 3310.1 1453.2C3310.2 1454.3 3309.9 1456.5 3309.2 1457.8C3308.4 1459.2 3306.4 1461.3 3305 1462.5C3303.6 1463.7 3300.9 1465.1 3299.5 1466.2C3298 1467.2 3295.7 1468.6 3294.8 1469.9C3294 1471.2 3293.2 1473.9 3293.4 1475.4C3293.7 1476.9 3295.3 1479.5 3296.7 1480.5C3298.1 1481.6 3300.9 1482.4 3303.2 1482.8C3305.4 1483.3 3309.8 1483.4 3312.4 1483.6C3315 1483.7 3319.4 1483.8 3321.7 1483.7C3323.9 1483.7 3326.7 1483.8 3328.1 1483.3C3329.6 1482.8 3331.1 1481.3 3331.8 1480C3332.5 1478.8 3332.9 1475.9 3333.2 1474.5C3333.5 1473.1 3334.3 1471.3 3334.1 1469.9C3334 1468.4 3332.8 1466 3332.3 1464.3C3331.8 1462.6 3330.7 1459.4 3330.4 1457.8C3330.2 1456.3 3330.1 1454 3330.4 1453.2C3330.8 1452.4 3331.9 1452 3332.8 1452.3C3333.6 1452.6 3335.3 1454.4 3336.5 1455.1C3337.6 1455.7 3339.8 1456.1 3340.6 1456.9C3341.4 1457.7 3341.9 1459.2 3342 1460.6C3342.1 1462.1 3341.7 1465.3 3341.5 1467.1C3341.3 1468.9 3340.4 1472 3340.6 1473.6C3340.8 1475.1 3341.9 1477.3 3342.9 1478.2C3343.9 1479.1 3346 1479.9 3347.6 1480C3349.1 1480.2 3352.2 1480 3354 1479.6C3355.9 1479.2 3358.7 1478.1 3360.5 1477.3C3362.3 1476.4 3365.1 1474.6 3367 1473.6C3368.8 1472.5 3372 1471.3 3373.5 1469.9C3374.9 1468.4 3376.5 1465.4 3377.2 1463.4C3377.8 1461.4 3378.1 1457.7 3378.1 1456C3378 1454.3 3376.4 1452 3376.7 1451.4C3377 1450.8 3378.7 1452.1 3379.9 1451.8C3381.2 1451.6 3384.2 1450.6 3385.5 1449.5C3386.7 1448.4 3388.1 1445.7 3388.7 1444C3389.3 1442.3 3389.6 1439.5 3389.6 1437.5C3389.7 1435.5 3389 1432.1 3389.2 1430.1C3389.3 1428.1 3390 1425.5 3390.6 1423.6C3391.1 1421.8 3392.4 1419 3392.9 1417.1C3393.4 1415.3 3394.2 1412.4 3394.3 1410.7C3394.3 1409 3394.1 1406.4 3393.3 1405.1C3392.6 1403.8 3390.6 1402.2 3389.2 1401.6C3387.8 1401 3385.1 1401 3383.6 1401C3382.2 1400.9 3380 1400.8 3379 1401.4C3378 1402 3377.1 1403.9 3376.2 1405.1C3375.4 1406.3 3373.8 1409 3373 1409.7C3372.1 1410.5 3370.9 1410.8 3370.2 1410.7C3369.6 1410.5 3368.5 1409.5 3368.4 1408.8C3368.2 1408.2 3368.6 1407 3369.3 1406C3370 1405.1 3372.1 1402.8 3373.5 1401.9C3374.8 1401 3377.3 1399.9 3379 1399.6C3380.7 1399.2 3383.8 1399.8 3385.5 1399.6C3387.2 1399.3 3389.8 1398.8 3391 1397.7C3392.3 1396.7 3393.7 1394 3394.3 1392.2C3394.9 1390.3 3395.1 1386.6 3395.2 1384.8C3395.3 1382.9 3395.6 1380.7 3395.2 1379.2C3394.8 1377.8 3393.5 1375.5 3392.4 1374.6C3391.3 1373.7 3388.8 1372.9 3387.3 1372.7C3385.8 1372.6 3383.3 1373.1 3381.8 1373.7C3380.2 1374.3 3377.9 1375.9 3376.2 1376.9C3374.5 1377.9 3371.7 1379.9 3369.8 1380.6C3367.8 1381.3 3364.4 1381.7 3362.4 1382C3360.3 1382.3 3356.8 1382.5 3355 1382.7C3353.1 1383 3350.8 1383.3 3349.4 1383.8C3348 1384.4 3346.2 1385.4 3345.2 1386.6C3344.3 1387.8 3343.2 1390.7 3342.9 1392.2C3342.7 1393.7 3343.1 1396.1 3343.4 1397.3C3343.7 1398.4 3344.8 1399.6 3344.8 1400.5C3344.8 1401.4 3343.4 1402.5 3343.4 1403.3C3343.4 1404.1 3344.5 1405.3 3344.8 1406C3345 1406.8 3345.5 1407.8 3345.2 1408.8C3345 1409.8 3343.9 1412 3342.9 1413C3341.9 1414 3339.7 1415.3 3338.3 1415.8C3336.9 1416.2 3334.2 1416.4 3332.8 1416.2C3331.3 1416 3329.1 1415.3 3328.1 1414.4C3327.1 1413.5 3326.1 1411.3 3325.8 1409.7C3325.5 1408.2 3325.6 1405 3325.8 1403.3C3326 1401.6 3326.9 1399.2 3327.2 1397.7C3327.5 1396.3 3328.1 1394.2 3328.1 1393.1C3328.1 1392 3327.7 1390.5 3327.2 1389.9C3326.7 1389.3 3325.1 1389.4 3324.4 1388.9C3323.7 1388.5 3322.3 1387.3 3322.1 1386.6C3321.9 1385.9 3322.6 1384.6 3323 1383.8C3323.4 1383.1 3324.8 1382.1 3324.9 1381.1C3325 1380 3324.6 1377.8 3324 1376.4C3323.4 1375.1 3321.6 1373.1 3320.7 1371.8C3319.9 1370.5 3318.5 1368.6 3318 1367.2C3317.4 1365.8 3316.8 1363.4 3316.6 1361.6C3316.4 1359.9 3316.3 1356.5 3316.6 1355.2C3316.8 1353.8 3317.8 1352.5 3318.4 1352.2C3319 1351.9 3320.2 1352.2 3320.7 1352.9C3321.3 1353.5 3322.1 1355.5 3322.4 1357C3322.7 1358.5 3322.8 1361.5 3323 1363.5C3323.3 1365.5 3323.5 1369.1 3324 1370.9C3324.4 1372.7 3325.4 1375.3 3326.3 1376.4C3327.1 1377.6 3328.9 1378.9 3330 1379.2C3331 1379.6 3332.6 1379.4 3333.7 1378.8C3334.7 1378.1 3336.7 1376 3337.4 1374.6C3338.1 1373.2 3338.8 1370.6 3338.8 1369C3338.7 1367.5 3337.4 1364.9 3336.9 1363.5C3336.5 1362.1 3335.5 1360.4 3335.5 1359.3C3335.6 1358.3 3336.8 1356.7 3337.4 1356.1C3337.9 1355.5 3339 1354.7 3339.4 1355C3339.8 1355.3 3339.8 1356.9 3340.2 1357.9C3340.5 1359 3340.9 1361.3 3341.5 1362.6C3342.2 1363.9 3343.7 1366.2 3344.8 1367.2C3345.9 1368.2 3348 1369.3 3349.4 1369.5C3350.8 1369.7 3353.6 1369.1 3355 1368.6C3356.3 1368.1 3357.9 1366.7 3358.7 1365.8C3359.4 1365 3359.7 1362.8 3360.5 1362.6C3361.3 1362.3 3362.9 1363.4 3364.2 1364C3365.5 1364.5 3368 1365.8 3369.8 1366.3C3371.5 1366.8 3374.5 1367.9 3376.2 1367.7C3377.9 1367.5 3380.4 1366 3381.8 1364.9C3383.2 1363.8 3384.8 1361.4 3385.9 1359.8C3387.1 1358.2 3389.3 1354.9 3390.1 1353.3C3390.9 1351.8 3391.7 1349.9 3391.5 1348.7C3391.3 1347.5 3388.8 1345.8 3388.7 1344.8C3388.6 1343.9 3390.2 1343.3 3390.5 1342.1C3390.8 1341 3391.3 1338.3 3390.9 1336.8C3390.6 1335.3 3389 1333.1 3387.8 1331.4C3386.6 1329.8 3384 1326.4 3382.4 1325.2C3380.9 1323.9 3378.5 1322.7 3377.1 1322.5C3375.7 1322.3 3373.8 1323.1 3372.6 1323.8C3371.5 1324.6 3369.9 1326.7 3369.1 1327.9C3368.2 1329.1 3367.3 1331.4 3366.4 1332.3C3365.5 1333.2 3363.9 1334 3362.8 1334.1C3361.7 1334.2 3359.4 1333.8 3358.8 1333.2C3358.2 1332.6 3358 1330.8 3358.3 1329.6C3358.7 1328.5 3360 1326.3 3361 1325.2C3362 1324.1 3364.1 1322.7 3365.5 1322.1C3366.9 1321.4 3369.3 1321.3 3370.8 1320.7C3372.4 1320.1 3375.1 1319.2 3376.2 1318C3377.3 1316.9 3378.6 1314.2 3378.9 1312.7C3379.2 1311.2 3378.7 1309.1 3378.4 1307.3C3378.1 1305.6 3377.2 1301.9 3376.6 1300.2C3376.1 1298.4 3375.4 1295.8 3374.4 1294.8C3373.5 1293.8 3371.5 1293.2 3369.9 1293C3368.4 1292.9 3365.6 1293.4 3363.7 1293.9C3361.8 1294.4 3358.6 1295.8 3356.6 1296.6C3354.5 1297.4 3351.2 1298.8 3349.4 1299.7C3347.6 1300.6 3345.3 1302.2 3344.1 1302.9C3342.8 1303.6 3341.3 1304.6 3340.5 1304.6C3339.7 1304.7 3338.5 1303.9 3338.3 1303.3C3338 1302.7 3338.1 1301 3338.7 1300.2C3339.3 1299.4 3340.9 1298.2 3342.3 1297.5C3343.7 1296.8 3346.8 1296 3348.5 1295.3C3350.3 1294.5 3353.3 1293.3 3354.8 1292.1C3356.3 1290.9 3358.4 1288.4 3359.2 1286.8C3360.1 1285.1 3360.6 1282.2 3360.6 1280.5C3360.6 1278.9 3360.2 1276.8 3359.2 1275.2C3358.3 1273.5 3355.5 1270.6 3353.9 1268.9C3352.2 1267.3 3349.4 1264.7 3347.6 1263.6C3345.9 1262.5 3343 1261.4 3341.4 1261.1C3339.7 1260.8 3337.5 1260.9 3336 1261.3C3334.5 1261.8 3332.1 1263 3330.7 1264.5C3329.3 1265.9 3327.3 1269.7 3326.2 1271.6C3325.1 1273.5 3323.8 1276.3 3322.6 1277.9C3321.5 1279.4 3319.4 1281.1 3318.2 1282.3C3317 1283.6 3315 1285.8 3314.1 1286.8C3313.3 1287.7 3312.6 1288.9 3311.9 1289C3311.2 1289.1 3309.9 1288.2 3309.2 1287.7C3308.5 1287.2 3307.7 1285.8 3307 1285.4C3306.3 1285.1 3304.9 1285 3304.3 1285.4C3303.8 1285.9 3303.5 1287.7 3303 1288.6C3302.5 1289.4 3301.3 1291.1 3300.8 1291.2C3300.2 1291.4 3299 1290.3 3299 1289.5C3298.9 1288.6 3299.5 1286.1 3300.3 1285C3301.1 1283.9 3303.1 1282.7 3304.3 1281.4C3305.6 1280.2 3308 1277.7 3309.2 1276.1C3310.5 1274.4 3312.4 1271.6 3313.3 1269.8C3314.1 1268.1 3314.9 1265.3 3315 1263.6C3315.2 1261.8 3314.7 1259.3 3314.1 1257.3C3313.6 1255.3 3312.4 1251.4 3311.5 1249.3C3310.6 1247.1 3309.1 1243.7 3307.9 1242.1C3306.7 1240.6 3304.4 1238.7 3303 1238.1C3301.5 1237.6 3299 1237.7 3297.6 1238.1C3296.2 1238.6 3294.4 1239.8 3293.2 1241.2C3292 1242.7 3290.2 1246.2 3289.1 1248.4C3288.1 1250.5 3287 1254.6 3286 1256.4C3285.1 1258.3 3283.5 1260.6 3282.4 1261.3C3281.4 1262.1 3279.8 1262.2 3278.9 1261.8C3278 1261.3 3276.5 1259.5 3276.2 1258.2C3275.9 1256.9 3276.5 1254.8 3277.1 1252.9C3277.7 1251 3279.7 1247.1 3280.7 1244.8C3281.7 1242.5 3283.6 1239.1 3284.2 1236.8C3284.9 1234.5 3285.4 1230.9 3285.3 1228.8C3285.2 1226.6 3284.3 1223 3283.3 1221.6C3282.4 1220.2 3280.5 1219.1 3278.9 1218.8C3277.2 1218.4 3273.9 1218.5 3271.7 1218.9C3269.6 1219.3 3265.5 1220.6 3263.7 1221.6C3261.9 1222.6 3260.1 1224.4 3259.2 1226.1C3258.4 1227.7 3258.4 1231.9 3257.9 1233.2C3257.4 1234.5 3256.5 1235.4 3255.7 1235.4C3254.8 1235.5 3253.1 1233.8 3252.1 1233.7C3251.1 1233.5 3249.4 1233.7 3248.5 1234.6C3247.6 1235.4 3246.4 1237.5 3245.8 1239.5C3245.3 1241.4 3244.3 1246 3244.5 1248.4C3244.8 1250.8 3246.5 1254.4 3247.6 1256.4C3248.8 1258.5 3251.7 1261.2 3252.5 1262.7C3253.4 1264.1 3253.9 1266 3253.4 1266.7C3253 1267.4 3250.9 1267.9 3249.4 1267.9C3248 1267.9 3244.4 1266.4 3243.2 1266.7C3241.9 1267 3241.1 1268 3240.5 1269.8C3239.9 1271.7 3239.1 1277.5 3238.7 1279.6C3238.3 1281.8 3238.2 1283.5 3238 1285C3237.8 1286.5 3236.9 1289.2 3237.4 1290.4C3237.8 1291.6 3241.6 1292.2 3241.4 1293.5C3241.1 1294.7 3237.3 1299.3 3235.6 1299.3Z" fill="none" stroke="#111" stroke-width="2.3" stroke-linejoin="round"/>
<path d="M3190.6 1302C3191.9 1302.1 3193.7 1303.1 3195.4 1304.3C3197.2 1305.5 3198.9 1307.2 3201.2 1309.1C3203.4 1311 3206.6 1314.1 3208.8 1315.8C3211 1317.4 3212.6 1317.9 3214.6 1319C3216.5 1320.1 3218.4 1321.1 3220.3 1322.5C3222.2 1323.8 3224.3 1325.3 3226 1327.2C3227.8 1329.2 3229.6 1331.2 3230.8 1333.9C3232 1336.6 3233.1 1340.2 3233.3 1343.5C3233.5 1346.9 3232.9 1351.4 3232.2 1354C3231.4 1356.6 3230.1 1358 3228.9 1359.2C3227.7 1360.4 3225.9 1360 3225.1 1361.1C3224.2 1362.3 3224.5 1365 3223.7 1366.1C3222.9 1367.1 3221.2 1367.7 3220.3 1367.4C3219.3 1367.2 3218.6 1365.7 3218 1364.6C3217.4 1363.4 3217.9 1361.8 3216.8 1360.3C3215.8 1358.9 3214 1357.5 3211.7 1355.9C3209.4 1354.4 3205.8 1352.9 3203.1 1351.2C3200.4 1349.4 3197.7 1347.8 3195.4 1345.4C3193.1 1343 3191 1339.8 3189.3 1336.8C3187.6 1333.8 3186.4 1330.6 3185.5 1327.2C3184.6 1323.9 3183.9 1320.1 3183.9 1316.7C3183.9 1313.4 3184.8 1309.4 3185.5 1307.2C3186.1 1304.9 3186.9 1304.2 3187.8 1303.3C3188.6 1302.5 3189.4 1301.8 3190.6 1302Z" fill="#fff" stroke="#111" stroke-width="2.3"/>
<path d="M3280.6 1302C3279.3 1302.1 3277.5 1303.1 3275.8 1304.3C3274 1305.5 3272.3 1307.2 3270 1309.1C3267.8 1311 3264.6 1314.1 3262.4 1315.8C3260.2 1317.4 3258.6 1317.9 3256.6 1319C3254.7 1320.1 3252.8 1321.1 3250.9 1322.5C3249 1323.8 3246.9 1325.3 3245.2 1327.2C3243.4 1329.2 3241.6 1331.2 3240.4 1333.9C3239.2 1336.6 3238.1 1340.2 3237.9 1343.5C3237.7 1346.9 3238.3 1351.4 3239 1354C3239.8 1356.6 3241.1 1358 3242.3 1359.2C3243.5 1360.4 3245.3 1360 3246.1 1361.1C3247 1362.3 3246.7 1365 3247.5 1366.1C3248.3 1367.1 3250 1367.7 3250.9 1367.4C3251.9 1367.2 3252.6 1365.7 3253.2 1364.6C3253.8 1363.4 3253.3 1361.8 3254.4 1360.3C3255.4 1358.9 3257.2 1357.5 3259.5 1355.9C3261.8 1354.4 3265.4 1352.9 3268.1 1351.2C3270.8 1349.4 3273.5 1347.8 3275.8 1345.4C3278.1 1343 3280.2 1339.8 3281.9 1336.8C3283.6 1333.8 3284.8 1330.6 3285.7 1327.2C3286.6 1323.9 3287.3 1320.1 3287.3 1316.7C3287.3 1313.4 3286.4 1309.4 3285.7 1307.2C3285.1 1304.9 3284.3 1304.2 3283.4 1303.3C3282.6 1302.5 3281.8 1301.8 3280.6 1302Z" fill="#fff" stroke="#111" stroke-width="2.3"/>
<path d="M3162.5 1414.8C3163.7 1414.6 3165.4 1416.9 3166.2 1418.1C3167 1419.2 3168 1421.9 3168.5 1423.6C3169.1 1425.4 3169.9 1429.4 3170.4 1431C3170.9 1432.7 3172.5 1435.2 3172.2 1436.1C3171.9 1437 3169.5 1437.3 3168 1437.5C3166.6 1437.7 3163.5 1437.5 3161.6 1438C3159.6 1438.5 3155.3 1440.6 3153.2 1441.2C3151.2 1441.8 3147.1 1442.2 3145.8 1442.1C3144.6 1442 3143.7 1441.4 3143.5 1440.3C3143.4 1439.2 3144 1435.5 3144.5 1433.8C3144.9 1432.1 3145.8 1428.8 3146.8 1427.3C3147.7 1425.8 3150 1423.7 3151.4 1422.7C3152.8 1421.7 3155.5 1421 3156.9 1419.9C3158.4 1418.9 3161.3 1415.1 3162.5 1414.8Z" fill="#fff" stroke="#111" stroke-width="2.3"/>
<path d="M3308.7 1414.8C3307.5 1414.6 3305.8 1416.9 3305 1418.1C3304.2 1419.2 3303.2 1421.9 3302.7 1423.6C3302.1 1425.4 3301.3 1429.4 3300.8 1431C3300.3 1432.7 3298.7 1435.2 3299 1436.1C3299.3 1437 3301.7 1437.3 3303.2 1437.5C3304.6 1437.7 3307.7 1437.5 3309.6 1438C3311.6 1438.5 3315.9 1440.6 3318 1441.2C3320 1441.8 3324.1 1442.2 3325.4 1442.1C3326.6 1442 3327.5 1441.4 3327.7 1440.3C3327.8 1439.2 3327.2 1435.5 3326.7 1433.8C3326.3 1432.1 3325.4 1428.8 3324.4 1427.3C3323.5 1425.8 3321.2 1423.7 3319.8 1422.7C3318.4 1421.7 3315.7 1421 3314.3 1419.9C3312.8 1418.9 3309.9 1415.1 3308.7 1414.8Z" fill="#fff" stroke="#111" stroke-width="2.3"/>
<path d="M3095 1451.4C3094.9 1451.2 3096.9 1449.2 3097.7 1448.1C3098.6 1447 3100.2 1444.5 3101.4 1443C3102.7 1441.6 3105.6 1438.5 3107 1437.5C3108.4 1436.5 3110.5 1435.4 3111.6 1435.2C3112.8 1435 3115 1435.6 3115.8 1436.1C3116.5 1436.7 3117.2 1438.3 3117.2 1439.3C3117.2 1440.4 3116.5 1443 3115.8 1444C3115 1445 3113 1446.2 3111.6 1446.7C3110.2 1447.3 3106.9 1447.5 3105.1 1447.9C3103.4 1448.2 3100 1448.6 3098.7 1449.1C3097.3 1449.5 3095.1 1451.5 3095 1451.4Z" fill="#fff" stroke="#111" stroke-width="2.3"/>
<path d="M3376.2 1451.4C3376.3 1451.2 3374.3 1449.2 3373.5 1448.1C3372.6 1447 3371 1444.5 3369.8 1443C3368.5 1441.6 3365.6 1438.5 3364.2 1437.5C3362.8 1436.5 3360.7 1435.4 3359.6 1435.2C3358.4 1435 3356.2 1435.6 3355.4 1436.1C3354.7 1436.7 3354 1438.3 3354 1439.3C3354 1440.4 3354.7 1443 3355.4 1444C3356.2 1445 3358.2 1446.2 3359.6 1446.7C3361 1447.3 3364.3 1447.5 3366.1 1447.9C3367.8 1448.2 3371.2 1448.6 3372.5 1449.1C3373.9 1449.5 3376.1 1451.5 3376.2 1451.4Z" fill="#fff" stroke="#111" stroke-width="2.3"/>
<line x1="437.3" y1="1791.8" x2="469.8" y2="1791.8" stroke="#58595b" stroke-width="5.6" stroke-linecap="butt"/>
<line x1="629.5" y1="1791.8" x2="661.2" y2="1791.8" stroke="#58595b" stroke-width="5.6" stroke-linecap="butt"/>
<line x1="429.7" y1="1890.7" x2="460.5" y2="1890.7" stroke="#58595b" stroke-width="5.6" stroke-linecap="butt"/>
<line x1="359.1" y1="1989.5" x2="388.7" y2="1989.5" stroke="#58595b" stroke-width="5.6" stroke-linecap="butt"/>
<line x1="305.5" y1="1827" x2="259.8" y2="1951.5" stroke="#58595b" stroke-width="3.3" stroke-dasharray="18 10" stroke-linecap="butt"/>
<line x1="424" y1="1817" x2="477" y2="1860.5" stroke="#58595b" stroke-width="3.3" stroke-dasharray="18 10" stroke-linecap="butt"/>
<rect x="270.4" y="1753.8" width="166.9" height="76.9" rx="38.5" fill="url(#p9)" stroke="#000" stroke-width="2.4"/>
<text x="353.9" y="1811.6" font-size="54" text-anchor="middle">RIAD</text>
<rect x="469.8" y="1753.8" width="159.7" height="76.9" rx="38.5" fill="url(#p10)" stroke="#000" stroke-width="2.4"/>
<text x="549.6" y="1811.6" font-size="54" text-anchor="middle">RGG</text>
<rect x="661.2" y="1753.8" width="160.5" height="76.9" rx="38.5" fill="url(#p11)" stroke="#000" stroke-width="2.4"/>
<text x="741.5" y="1811.6" font-size="54" text-anchor="middle">RGG</text>
<rect x="307.6" y="1852.2" width="122.1" height="76.9" rx="38.4" fill="url(#p12)" stroke="#000" stroke-width="2.4"/>
<text x="368.6" y="1910" font-size="54" text-anchor="middle">Idi</text>
<rect x="460.5" y="1852.2" width="166.9" height="76.9" rx="38.4" fill="url(#p13)" stroke="#000" stroke-width="2.4"/>
<text x="544" y="1910" font-size="54" text-anchor="middle">RIDD</text>
<rect x="192.2" y="1951.5" width="166.9" height="76.5" rx="38.2" fill="url(#p14)" stroke="#000" stroke-width="2.4"/>
<text x="275.6" y="2009.1" font-size="54" text-anchor="middle">RIDD</text>
<rect x="388.7" y="1951.5" width="152.9" height="76.5" rx="38.2" fill="url(#p15)" stroke="#000" stroke-width="2.4"/>
<text x="465.1" y="2009.1" font-size="54" text-anchor="middle">IspA</text>
<path d="M906.2 1798.2C908.3 1799.6 914.7 1804.5 918.9 1806.6C923.1 1808.7 927.4 1810.8 931.6 1810.8C935.8 1810.8 940 1808.4 944.3 1806.6C948.5 1804.8 952 1800.6 956.9 1800.3C961.9 1799.9 968.2 1802.2 973.8 1804.5C979.5 1806.7 985.1 1812.2 990.7 1813.8C996.4 1815.3 1002.7 1815.7 1007.6 1813.8C1012.6 1811.9 1016.1 1805.5 1020.3 1802.4C1024.5 1799.3 1027.3 1795.6 1033 1795.2C1038.6 1794.8 1048.1 1800.7 1054.1 1800.3C1060.1 1799.8 1064 1794.6 1068.9 1792.7C1073.8 1790.7 1078.7 1788 1083.7 1788.4C1088.6 1788.9 1093.5 1792.5 1098.5 1795.2C1103.4 1797.9 1110.8 1802.9 1113.2 1804.5" fill="none" stroke="#d8819d" stroke-width="7.4" stroke-linecap="round" stroke-linejoin="round"/>
<path d="M990.7 1813.8C996.4 1815.3 1002.7 1815.7 1007.6 1813.8C1012.6 1811.9 1016.1 1805.5 1020.3 1802.4" fill="none" stroke="#58595b" stroke-width="7.4" stroke-linecap="butt"/>
<circle cx="888" cy="1787.6" r="20" fill="url(#sTea)" stroke="#000" stroke-width="2.6"/>
<path d="M963.3 1889C965.7 1890.4 973.1 1895.2 978.1 1897.4C983 1899.7 987.6 1902.2 992.8 1902.5C998.1 1902.9 1004.1 1902.2 1009.7 1899.6C1015.4 1896.9 1021 1889.9 1026.6 1886.9C1032.3 1883.9 1037.9 1881.2 1043.5 1881.4C1049.2 1881.6 1054.5 1885.8 1060.4 1888.1C1066.4 1890.5 1076.3 1894.1 1079.4 1895.3" fill="none" stroke="#6b84c4" stroke-width="6.2" stroke-linecap="round" stroke-linejoin="round"/>
<path d="M902.9 1896.6Q899.7 1892.2 902.9 1887.8L920.7 1863.4Q923.9 1858.9 929.1 1860.6L957.8 1869.9Q963 1871.6 963 1877.1L963 1907.3Q963 1912.8 957.8 1914.5L929.1 1923.8Q923.9 1925.5 920.7 1921Z" fill="url(#sMau)" stroke="#000" stroke-width="2.6"/>
<path d="M1014.8 1988.3C1012.2 1987.2 1004.6 1984.4 999.2 1981.9C993.8 1979.5 987.9 1974.5 982.3 1973.5C976.6 1972.4 971 1973.1 965.4 1975.6C959.7 1978.1 954.1 1985.1 948.5 1988.3C942.8 1991.4 937.2 1994.6 931.6 1994.6C925.9 1994.6 919.6 1990.4 914.7 1988.3C909.8 1986.2 904.1 1983 902 1981.9" fill="none" stroke="#6b84c4" stroke-width="6.2" stroke-linecap="round" stroke-linejoin="round"/>
<circle cx="1045.6" cy="1984.9" r="29.6" fill="url(#sOra)" stroke="#000" stroke-width="2.6"/>
<path d="M1609.8 1716.7C1608 1717.2 1602.5 1717.7 1599.3 1719.5C1596.1 1721.2 1593.5 1724.6 1590.5 1727.1C1587.6 1729.7 1584.9 1733.2 1581.8 1734.8C1578.6 1736.5 1575.2 1737.2 1571.9 1737.3C1568.6 1737.3 1565.3 1736.6 1562 1735.4C1558.7 1734.2 1555.2 1731.5 1552.1 1729.9C1549 1728.2 1546.2 1726.4 1543.3 1725.5C1540.4 1724.6 1537.4 1724.2 1534.5 1724.4C1531.6 1724.6 1528.5 1725.3 1525.7 1726.6C1523 1727.9 1520.6 1730 1518 1732.1C1515.5 1734.2 1512.9 1737.2 1510.3 1739.2C1507.8 1741.2 1504.9 1743.1 1502.6 1744.2C1500.3 1745.3 1497.6 1745.5 1496.6 1745.8" fill="none" stroke="#6b84c4" stroke-width="6.6" stroke-linecap="round" stroke-linejoin="round"/>
<path d="M1787.6 1789.5C1786.2 1788.9 1782.4 1786.7 1779.2 1785.7C1776 1784.7 1772.1 1784.1 1768.5 1783.4C1764.9 1782.7 1760.8 1782.8 1757.8 1781.5C1754.7 1780.3 1752.3 1778.2 1750.1 1775.7C1748 1773.2 1746 1769.9 1744.8 1766.5C1743.5 1763.2 1743.1 1759.4 1742.5 1755.8C1741.8 1752.3 1742.2 1748.4 1740.9 1745.1C1739.7 1741.8 1737.4 1738.4 1734.8 1735.9C1732.3 1733.5 1729 1731.8 1725.6 1730.6C1722.3 1729.3 1718.5 1729.1 1714.9 1728.6C1711.3 1728.1 1707.4 1728.5 1704.2 1727.5C1701 1726.6 1697.2 1723.7 1695.8 1722.9" fill="none" stroke="#6b84c4" stroke-width="6.6" stroke-linecap="round" stroke-linejoin="round"/>
<path d="M1580.6 1826.4C1579.6 1826.4 1577.1 1826.1 1575 1826.4C1572.8 1826.8 1570 1827.8 1567.5 1828.8C1565.1 1829.8 1562.9 1831.4 1560.1 1832.5C1557.3 1833.6 1553.9 1835.1 1550.8 1835.3C1547.7 1835.4 1544.5 1834.7 1541.5 1833.4C1538.6 1832.2 1535.6 1830.2 1533.2 1827.8C1530.7 1825.5 1528.8 1822.1 1526.7 1819.5C1524.5 1816.8 1522.6 1814.1 1520.1 1812C1517.7 1810 1514.7 1808.4 1511.8 1807.4C1508.8 1806.4 1505.6 1805.9 1502.5 1806C1499.4 1806.1 1496.3 1806.9 1493.2 1807.9C1490.1 1808.9 1486.8 1811 1483.9 1812C1481 1813.1 1478.2 1813.7 1475.5 1813.9C1472.9 1814.1 1469.3 1813.1 1468.1 1813" fill="none" stroke="#6b84c4" stroke-width="6.6" stroke-linecap="round" stroke-linejoin="round"/>
<path d="M1739.6 1862.4C1741.3 1862.9 1745.7 1865 1749.4 1865.1C1753.1 1865.1 1757.7 1863.1 1761.8 1862.8C1766 1862.5 1770.4 1862.2 1774.2 1863.3C1778.1 1864.4 1781.9 1866.7 1784.9 1869.5C1787.8 1872.3 1789.8 1876.6 1792 1880.2C1794.2 1883.7 1795.5 1887.7 1798.2 1890.8C1800.9 1893.9 1804.3 1897 1807.9 1898.8C1811.6 1900.6 1816.2 1901.3 1820.4 1901.5C1824.5 1901.6 1829.2 1899.8 1832.8 1899.7C1836.3 1899.5 1839.1 1900 1841.7 1900.6C1844.2 1901.2 1846.8 1902.8 1847.9 1903.2" fill="none" stroke="#6b84c4" stroke-width="6.6" stroke-linecap="round" stroke-linejoin="round"/>
<path d="M1486.4 1972.4C1486.2 1970.1 1484.9 1963 1485 1958.2C1485.1 1953.5 1487.1 1948.5 1486.8 1944C1486.5 1939.6 1485.6 1935.2 1483.2 1931.6C1480.9 1928.1 1476.7 1925.3 1472.6 1922.8C1468.4 1920.2 1462.4 1919.2 1458.4 1916.5C1454.4 1913.9 1450.7 1910.5 1448.6 1906.8C1446.6 1903.1 1446.1 1898.8 1446 1894.4C1445.8 1889.9 1447.6 1884 1447.7 1880.2C1447.9 1876.3 1447.4 1873.8 1446.9 1871.3C1446.3 1868.8 1444.6 1866.1 1444.2 1865.1" fill="none" stroke="#6b84c4" stroke-width="6.6" stroke-linecap="round" stroke-linejoin="round"/>
<path d="M1604.2 2027.4C1604.2 2025.7 1604.7 2020.3 1603.9 2016.8C1603.1 2013.2 1600.8 2010 1599.5 2006.1C1598.1 2002.3 1596.1 1997.9 1595.9 1993.7C1595.8 1989.6 1596.6 1984.9 1598.6 1981.3C1600.5 1977.8 1604.3 1975.4 1607.4 1972.4C1610.5 1969.5 1614.5 1967.1 1617.2 1963.6C1619.9 1960 1622.5 1955.6 1623.4 1951.1C1624.3 1946.7 1623.4 1941.4 1622.5 1936.9C1621.6 1932.5 1619.2 1928.5 1618.1 1924.5C1617 1920.5 1616.3 1914.9 1616 1913" fill="none" stroke="#6b84c4" stroke-width="6.6" stroke-linecap="round" stroke-linejoin="round"/>
<path d="M1711.2 1993.7C1712.9 1992.8 1717.6 1990.9 1721 1988.4C1724.4 1985.9 1727.8 1981 1731.6 1978.6C1735.5 1976.3 1739.9 1974.5 1744.1 1974.2C1748.2 1973.9 1752.3 1975.2 1756.5 1976.9C1760.6 1978.5 1764.8 1982.2 1768.9 1984C1773.1 1985.7 1777.2 1987.5 1781.3 1987.5C1785.5 1987.5 1789.9 1986 1793.8 1984C1797.6 1981.9 1801.1 1977.6 1804.4 1975.1C1807.7 1972.6 1810.5 1970.2 1813.3 1968.9C1816.1 1967.6 1819.9 1967.7 1821.3 1967.5" fill="none" stroke="#6b84c4" stroke-width="6.6" stroke-linecap="round" stroke-linejoin="round"/>
<circle cx="1640.2" cy="1715.6" r="29.2" fill="url(#sOra)" stroke="#000" stroke-width="2.6"/>
<circle cx="1713.1" cy="1846.2" r="29.2" fill="url(#sOra)" stroke="#000" stroke-width="2.6"/>
<circle cx="1504.2" cy="1997.6" r="29.2" fill="url(#sOra)" stroke="#000" stroke-width="2.6"/>
<circle cx="1595" cy="2056.7" r="29.2" fill="url(#sOra)" stroke="#000" stroke-width="2.6"/>
<path d="M1776.8 1813.9Q1773.9 1809.3 1777.4 1805L1796.8 1782Q1800.3 1777.7 1805.4 1779.8L1833.4 1791.1Q1838.5 1793.2 1838.1 1798.6L1836 1828.7Q1835.6 1834.2 1830.3 1835.5L1801 1842.8Q1795.7 1844.2 1792.8 1839.5Z" fill="url(#sMau)" stroke="#000" stroke-width="2.6"/>
<path d="M1641.7 1837.4Q1644.1 1842.4 1640 1846.1L1618 1866.7Q1614 1870.4 1609.2 1867.8L1582.8 1853.2Q1578 1850.5 1579 1845.1L1584.8 1815.5Q1585.8 1810.1 1591.3 1809.4L1621.2 1805.8Q1626.7 1805.1 1629 1810.1Z" fill="url(#sMau)" stroke="#000" stroke-width="2.6"/>
<path d="M1650 2005.3Q1646.1 2001.4 1648.6 1996.5L1662.3 1969.6Q1664.8 1964.7 1670.2 1965.6L1700 1970.3Q1705.4 1971.2 1706.3 1976.6L1711 2006.4Q1711.9 2011.8 1707 2014.3L1680.1 2028Q1675.2 2030.5 1671.3 2026.6Z" fill="url(#sMau)" stroke="#000" stroke-width="2.6"/>
<line x1="1855.8" y1="1855.3" x2="1913.8" y2="2172.9" stroke="#000" stroke-width="1.8" stroke-dasharray="17.5 9.8" stroke-linecap="butt"/>
<line x1="1567" y1="2096.8" x2="1808.8" y2="2210.9" stroke="#000" stroke-width="1.8" stroke-dasharray="17.5 9.8" stroke-linecap="butt"/>
<path d="M1780.7 2232.7C1776.5 2231.6 1763.7 2228.2 1755 2226.3C1746.3 2224.3 1737.3 2222.2 1728.4 2221C1719.5 2219.8 1709.2 2219.2 1701.8 2219.2C1694.4 2219.2 1690 2219.5 1684 2221C1678.1 2222.5 1672.2 2224.8 1666.3 2228.1C1660.4 2231.3 1654.5 2236.1 1648.6 2240.5C1642.6 2244.9 1636.7 2250 1630.8 2254.7C1624.9 2259.4 1619 2264.4 1613.1 2268.9C1607.2 2273.3 1601.2 2277.9 1595.3 2281.3C1589.4 2284.7 1583.5 2287.5 1577.6 2289.3C1571.7 2291.1 1565.8 2291.8 1559.8 2291.9C1553.9 2292.1 1548 2291.4 1542.1 2290.2C1536.2 2289 1530.3 2287.5 1524.4 2284.8C1518.4 2282.2 1511.3 2277.8 1506.6 2274.2C1501.9 2270.7 1498.4 2266.4 1496 2263.6C1493.5 2260.7 1492.7 2258.4 1492.1 2257.3M1780.7 2238C1776.5 2237.1 1763.7 2234.2 1755 2232.5C1746.3 2230.8 1736.4 2229 1728.4 2228.1C1720.4 2227.2 1713.6 2227 1707.1 2227.2C1700.6 2227.3 1695.3 2227.6 1689.4 2229C1683.5 2230.3 1677.5 2232.2 1671.6 2235.2C1665.7 2238.1 1659.8 2242.3 1653.9 2246.7C1648 2251.1 1642.1 2256.8 1636.1 2261.8C1630.2 2266.8 1624.3 2272.3 1618.4 2276.9C1612.5 2281.4 1606.6 2285.9 1600.7 2289.3C1594.7 2292.7 1589.7 2295.4 1582.9 2297.3C1576.1 2299.1 1566.6 2300.2 1559.8 2300.5C1553 2300.8 1548 2300.2 1542.1 2299C1536.2 2297.9 1530.3 2296.1 1524.4 2293.7C1518.4 2291.4 1511.3 2288 1506.6 2284.8C1501.9 2281.7 1497.7 2276.7 1496 2275.1" fill="none" stroke="#000" stroke-width="2.5" stroke-linecap="round"/>
<path d="M1779.9 2233.4C1779.9 2228.1 1779.8 2223.3 1781.6 2217.4C1783.4 2211.5 1786.1 2203.8 1790.5 2197.9C1794.9 2192 1800.8 2186 1808.2 2181.9C1815.6 2177.8 1824.5 2175.3 1834.9 2173.1C1845.3 2170.9 1859.6 2169.6 1870.4 2168.6C1881.2 2167.6 1885.1 2167.5 1900 2166.9C1914.9 2166.3 1940 2165.2 1960 2164.8C1980 2164.4 2000.6 2163.6 2020 2164.2C2039.4 2164.8 2062 2166.2 2076.3 2168.4C2090.6 2170.6 2096.9 2172.4 2105.8 2177.3C2114.7 2182.2 2124 2189.6 2129.5 2198C2135 2206.4 2138 2217.7 2139 2227.6C2140 2237.5 2139.5 2248.3 2135.4 2257.2C2131.3 2266.1 2123.1 2275.1 2114.7 2280.8C2106.3 2286.5 2095 2289.5 2085.1 2291.2C2075.2 2292.9 2066.3 2291.9 2055 2291.2C2043.7 2290.5 2033.2 2287.9 2017 2286.8C2000.8 2285.7 1977.5 2284.3 1958 2284.4C1938.5 2284.5 1914.6 2286.2 1900 2287.5C1885.4 2288.8 1879.8 2290.7 1870.4 2291.9C1861 2293.1 1852 2294.7 1843.7 2294.6C1835.4 2294.5 1827.5 2293.3 1820.7 2291.1C1813.9 2288.9 1808.2 2285.6 1802.9 2281.3C1797.6 2277 1792.2 2270.6 1788.7 2265.3C1785.2 2260 1783.1 2254.7 1781.6 2249.4C1780.1 2244.1 1779.9 2238.7 1779.9 2233.4Z" fill="url(#gBac)" stroke="#000" stroke-width="2.6"/>
<line x1="1910.6" y1="2155.5" x2="1913.8" y2="2172.9" stroke="#000" stroke-width="1.8" stroke-linecap="butt"/>
<line x1="1792.5" y1="2203.2" x2="1808.8" y2="2210.9" stroke="#000" stroke-width="1.8" stroke-linecap="butt"/>
<path d="M1841.7 2213.2C1841.3 2214.3 1840.6 2217.9 1839.2 2219.6C1837.7 2221.3 1834.3 2221.9 1832.8 2223.4C1831.3 2224.9 1830.8 2226.9 1830.3 2228.4C1829.8 2230 1829.8 2232.1 1829.6 2232.9M1879.7 2209.4C1880.6 2209 1882.9 2207.2 1884.8 2206.9C1886.7 2206.6 1889.1 2208 1891.1 2207.5C1893.1 2207.1 1895.2 2205.4 1896.8 2204.4C1898.4 2203.3 1900 2201.7 1900.6 2201.2M1884.8 2254.4C1883.9 2253.9 1880.9 2252.8 1879.7 2251.3C1878.5 2249.7 1878.7 2246.7 1877.8 2244.9C1877 2243.1 1875.8 2241.6 1874.6 2240.5C1873.5 2239.3 1871.5 2238.4 1870.8 2237.9M1862 2263.9C1861.1 2263.4 1858.8 2261.2 1856.9 2260.8C1855 2260.3 1852.6 2261.6 1850.6 2261.4C1848.6 2261.2 1846.5 2260.2 1844.9 2259.5C1843.2 2258.8 1841.2 2257.4 1840.4 2257M1953.9 2196.1C1952.9 2196.4 1950.1 2197.9 1948.1 2198C1946.2 2198.1 1944.3 2196.8 1942.4 2196.8C1940.5 2196.8 1938.6 2197.2 1936.7 2198C1934.8 2198.8 1932 2201 1931 2201.6M1980.5 2225.3C1981.4 2225.3 1984.5 2225 1986.2 2225.7C1987.9 2226.3 1989.1 2228 1990.6 2229.1C1992.1 2230.2 1993.1 2231.5 1995 2232.2C1996.9 2232.9 2000.9 2233.1 2002 2233.3M1929.1 2246.8C1929 2245.9 1929.3 2242.7 1928.5 2241.1C1927.7 2239.5 1925.3 2238.8 1924.1 2237.3C1922.8 2235.8 1921.5 2234.1 1920.9 2232.2C1920.3 2230.3 1920.6 2227 1920.5 2225.9M1951.3 2258.9C1951.3 2257.9 1950.8 2254.8 1951.3 2253.2C1951.8 2251.5 1953.7 2250.5 1954.5 2248.7C1955.2 2246.9 1955.7 2244.5 1955.8 2242.4C1955.8 2240.2 1955 2236.9 1954.9 2235.8M2035 2204.4C2034.4 2203.3 2032 2200.1 2031.8 2198C2031.6 2195.9 2033.5 2193.6 2033.7 2191.7C2033.9 2189.8 2033.6 2188.3 2033.1 2186.6C2032.5 2184.9 2031 2182.4 2030.5 2181.5M2078.7 2210.7C2077.8 2211.1 2075.4 2212.7 2073.6 2213.2C2071.8 2213.8 2069.7 2213.3 2067.9 2213.9C2066.1 2214.4 2064.5 2215.3 2062.9 2216.4C2061.2 2217.5 2058.6 2219.6 2057.8 2220.2M2028 2243C2028.8 2243.3 2031.8 2243.7 2033.1 2244.9C2034.3 2246.2 2034.7 2248.9 2035.6 2250.6C2036.6 2252.3 2037.5 2253.8 2038.8 2255.1C2040 2256.3 2042.5 2257.7 2043.2 2258.2M2080 2235.4C2079.3 2235.9 2076.9 2237.1 2076.2 2238.6C2075.4 2240.1 2076.1 2242.4 2075.5 2244.3C2075 2246.2 2074.2 2248.4 2073 2250C2071.8 2251.6 2069.3 2253.4 2068.6 2254M1875.3 2196.1C1874.3 2196.4 1871.6 2198 1869.6 2198C1867.6 2198 1865.2 2196.2 1863.2 2196.1C1861.2 2196 1859.3 2196.7 1857.5 2197.4C1855.7 2198.1 1853.3 2199.8 1852.5 2200.3M1851.8 2233.5C1851.2 2234.3 1849.6 2237 1848 2237.9C1846.4 2238.9 1844 2238.5 1842.3 2239.2C1840.6 2240 1838.9 2241.1 1837.9 2242.4C1836.8 2243.7 1836.3 2246.1 1836 2246.8M1896.2 2232.2C1896.4 2231.4 1896.3 2228.7 1897.5 2227.2C1898.6 2225.7 1901.8 2224.6 1903.2 2223.4C1904.5 2222.1 1905.1 2221 1905.7 2219.6C1906.3 2218.1 1906.4 2215.6 1906.6 2214.8M1987.4 2210.1C1986.6 2209.6 1983.7 2208.9 1982.4 2207.5C1981 2206.2 1980.3 2203.4 1979.2 2201.8C1978.1 2200.2 1977.4 2198.8 1976 2198C1974.7 2197.2 1972 2197.2 1971.2 2197M1947.5 2218.9C1946.6 2218.8 1943.7 2218.9 1941.8 2218.3C1939.9 2217.7 1938 2215.8 1936.1 2215.1C1934.2 2214.5 1932.3 2214.2 1930.4 2214.2C1928.5 2214.3 1925.7 2215.3 1924.7 2215.5M1974.1 2250.6C1975 2250.2 1977.4 2248.2 1979.2 2248.1C1981 2248 1982.9 2249.9 1984.9 2250C1986.9 2250.1 1989.2 2249.3 1991.2 2248.7C1993.2 2248.1 1996 2246.8 1996.9 2246.4M2019.1 2205C2018.9 2205.9 2018.4 2208.8 2017.9 2210.7C2017.3 2212.6 2016.3 2214.5 2016 2216.4C2015.6 2218.3 2015.7 2220.2 2016 2222.1C2016.2 2224 2017.3 2226.9 2017.6 2227.8M2059 2194.2C2058.3 2193.8 2055.7 2193.2 2054.6 2191.7C2053.6 2190.2 2053.6 2187 2052.7 2185.3C2051.9 2183.7 2051 2182.6 2049.5 2181.5C2048.1 2180.5 2045.1 2179.4 2044.2 2179M2049.5 2236C2050.1 2236.9 2052.2 2239.3 2052.7 2241.1C2053.2 2242.9 2052.3 2245 2052.7 2246.8C2053.1 2248.6 2054.3 2250.4 2055.2 2251.9C2056.2 2253.4 2058.1 2255.1 2058.7 2255.7" fill="none" stroke="#8497cf" stroke-width="1.4" stroke-linecap="round"/>
<g stroke="#222" stroke-width="0.9"><circle cx="1844.2" cy="2207.1" r="5.9" fill="#fddf9f"/><circle cx="1873.8" cy="2214.2" r="5.9" fill="#fddf9f"/><circle cx="1889.5" cy="2260.8" r="5.9" fill="#fddf9f"/><circle cx="1868.3" cy="2266.2" r="5.9" fill="#fddf9f"/><circle cx="1959.8" cy="2195.5" r="5.9" fill="#fddf9f"/><circle cx="1974.5" cy="2221.9" r="5.9" fill="#fddf9f"/><circle cx="1932.6" cy="2252.5" r="5.9" fill="#fddf9f"/><circle cx="1950.7" cy="2264.9" r="5.9" fill="#fddf9f"/><circle cx="2036.2" cy="2210.7" r="5.9" fill="#fddf9f"/><circle cx="2084.8" cy="2207.1" r="5.9" fill="#fddf9f"/><circle cx="2022.3" cy="2237.6" r="5.9" fill="#fddf9f"/><circle cx="2085" cy="2229.5" r="5.9" fill="#fddf9f"/><path d="M1883 2201.3Q1882 2202.1 1881 2201.3L1876.1 2197.8Q1875.1 2197.1 1875.5 2195.9L1877.4 2190.2Q1877.8 2189 1879 2189L1885 2189Q1886.2 2189 1886.6 2190.2L1888.5 2195.9Q1888.8 2197.1 1887.9 2197.8Z" fill="#dcb0c5"/><path d="M1855.4 2234.2Q1854.2 2234.2 1853.9 2233L1852.1 2227.2Q1851.7 2226.1 1852.7 2225.4L1857.7 2221.9Q1858.7 2221.2 1859.6 2222L1864.5 2225.6Q1865.4 2226.3 1865 2227.5L1863.1 2233.2Q1862.7 2234.3 1861.5 2234.3Z" fill="#dcb0c5"/><path d="M1885.8 2241.9Q1884.8 2241.2 1885.2 2240.1L1887.3 2234.4Q1887.7 2233.2 1888.9 2233.3L1895 2233.5Q1896.2 2233.5 1896.5 2234.7L1898.2 2240.5Q1898.5 2241.7 1897.5 2242.3L1892.5 2245.7Q1891.5 2246.4 1890.6 2245.7Z" fill="#dcb0c5"/><path d="M1987.4 2213.3Q1987.1 2212.2 1988.1 2211.5L1993.1 2208.2Q1994.2 2207.6 1995.1 2208.3L1999.8 2212.1Q2000.7 2212.9 2000.3 2214L1998.1 2219.7Q1997.7 2220.8 1996.5 2220.7L1990.4 2220.4Q1989.2 2220.3 1988.9 2219.2Z" fill="#dcb0c5"/><path d="M1949.6 2215.2Q1950 2214.1 1951.2 2214.2L1957.3 2214.6Q1958.5 2214.7 1958.8 2215.9L1960.2 2221.7Q1960.5 2222.9 1959.5 2223.5L1954.4 2226.7Q1953.4 2227.4 1952.4 2226.6L1947.8 2222.7Q1946.9 2221.9 1947.3 2220.8Z" fill="#dcb0c5"/><path d="M1967.4 2246Q1968.4 2245.3 1969.3 2246.1L1973.9 2250.1Q1974.8 2250.9 1974.3 2252L1972 2257.6Q1971.5 2258.7 1970.3 2258.6L1964.3 2258.1Q1963.1 2258 1962.8 2256.8L1961.4 2250.9Q1961.2 2249.7 1962.2 2249.1Z" fill="#dcb0c5"/><path d="M2023.4 2192.8Q2024.6 2192.9 2024.8 2194.1L2026.1 2200Q2026.3 2201.2 2025.3 2201.8L2020 2204.8Q2019 2205.4 2018.1 2204.6L2013.6 2200.6Q2012.7 2199.8 2013.2 2198.7L2015.7 2193.1Q2016.2 2192 2017.4 2192.2Z" fill="#dcb0c5"/><path d="M2071.2 2197.4Q2072.1 2198.2 2071.6 2199.3L2069 2204.8Q2068.5 2205.8 2067.3 2205.7L2061.3 2205Q2060.1 2204.8 2059.9 2203.6L2058.7 2197.7Q2058.5 2196.5 2059.5 2195.9L2064.8 2193Q2065.9 2192.4 2066.8 2193.2Z" fill="#dcb0c5"/><path d="M2052.3 2231.4Q2052.5 2232.6 2051.4 2233.2L2046.1 2236Q2045 2236.6 2044.1 2235.8L2039.8 2231.5Q2038.9 2230.7 2039.4 2229.6L2042.1 2224.2Q2042.6 2223.1 2043.8 2223.3L2049.8 2224.1Q2051 2224.3 2051.2 2225.5Z" fill="#dcb0c5"/></g>
<text x="2237.6" y="1912.6" font-size="54" text-anchor="middle">RIAD-RGG-RGG</text>
<line x1="1987.4" y1="1943" x2="2487.7" y2="1943" stroke="#000" stroke-width="4.5"/>
<path d="M2508.8 1943L2480.2 1954.6L2487.7 1943L2480.2 1931.4Z" fill="#000"/>
<path d="M2153.9 1997C2155.8 1998.5 2161.3 2004 2165.3 2005.9C2169.3 2007.8 2173.8 2009.1 2178 2008.4C2182.2 2007.8 2186.4 2004.1 2190.7 2002.1C2194.9 2000.1 2199.1 1996.7 2203.3 1996.3C2207.6 1995.8 2211.8 1997.5 2216 1999.6C2220.2 2001.6 2224.9 2006.5 2228.7 2008.4C2232.5 2010.3 2234.6 2010.8 2238.8 2011C2243.1 2011.2 2249.2 2011.2 2254 2009.7C2258.9 2008.2 2264.6 2004.7 2268 2002.1C2271.4 1999.5 2271.2 1995.5 2274.3 1994C2277.5 1992.5 2282.3 1992.7 2287 1993.2C2291.6 1993.7 2297.6 1997.2 2302.2 1997C2306.9 1996.8 2310.7 1993.9 2314.9 1992C2319.1 1990.1 2323.3 1986.2 2327.6 1985.6C2331.8 1985 2336 1986 2340.2 1988.1C2344.5 1990.3 2349.5 1996 2352.9 1998.3C2356.3 2000.6 2359.2 2001.5 2360.5 2002.1" fill="none" stroke="#d8819d" stroke-width="7.4" stroke-linecap="round" stroke-linejoin="round"/>
<path d="M2238.8 2011C2243.1 2011.2 2249.2 2011.2 2254 2009.7C2258.9 2008.2 2264.6 2004.7 2268 2002.1" fill="none" stroke="#58595b" stroke-width="7.4" stroke-linecap="butt"/>
<circle cx="2135.7" cy="1984.9" r="20" fill="url(#sTea)" stroke="#000" stroke-width="2.6"/>
<line x1="3064" y1="1892.3" x2="3189.4" y2="2171.5" stroke="#000" stroke-width="1.8" stroke-dasharray="17.5 9.8" stroke-linecap="butt"/>
<line x1="2849.4" y1="2173.8" x2="3111.2" y2="2226.7" stroke="#000" stroke-width="1.8" stroke-dasharray="17.5 9.8" stroke-linecap="butt"/>
<path d="M3056 2232.7C3051.8 2231.6 3039 2228.2 3030.3 2226.3C3021.6 2224.3 3012.6 2222.2 3003.7 2221C2994.8 2219.8 2984.5 2219.2 2977.1 2219.2C2969.7 2219.2 2965.3 2219.5 2959.3 2221C2953.4 2222.5 2947.5 2224.8 2941.6 2228.1C2935.7 2231.3 2929.8 2236.1 2923.9 2240.5C2917.9 2244.9 2912 2250 2906.1 2254.7C2900.2 2259.4 2894.3 2264.4 2888.4 2268.9C2882.5 2273.3 2876.5 2277.9 2870.6 2281.3C2864.7 2284.7 2858.8 2287.5 2852.9 2289.3C2847 2291.1 2841.1 2291.8 2835.1 2291.9C2829.2 2292.1 2823.3 2291.4 2817.4 2290.2C2811.5 2289 2805.6 2287.5 2799.7 2284.8C2793.7 2282.2 2786.6 2277.8 2781.9 2274.2C2777.2 2270.7 2773.7 2266.4 2771.3 2263.6C2768.8 2260.7 2768 2258.4 2767.4 2257.3M3056 2238C3051.8 2237.1 3039 2234.2 3030.3 2232.5C3021.6 2230.8 3011.7 2229 3003.7 2228.1C2995.7 2227.2 2988.9 2227 2982.4 2227.2C2975.9 2227.3 2970.6 2227.6 2964.7 2229C2958.8 2230.3 2952.8 2232.2 2946.9 2235.2C2941 2238.1 2935.1 2242.3 2929.2 2246.7C2923.3 2251.1 2917.4 2256.8 2911.4 2261.8C2905.5 2266.8 2899.6 2272.3 2893.7 2276.9C2887.8 2281.4 2881.9 2285.9 2876 2289.3C2870 2292.7 2865 2295.4 2858.2 2297.3C2851.4 2299.1 2841.9 2300.2 2835.1 2300.5C2828.3 2300.8 2823.3 2300.2 2817.4 2299C2811.5 2297.9 2805.6 2296.1 2799.7 2293.7C2793.7 2291.4 2786.6 2288 2781.9 2284.8C2777.2 2281.7 2773 2276.7 2771.3 2275.1" fill="none" stroke="#000" stroke-width="2.5" stroke-linecap="round"/>
<path d="M3055.2 2233.4C3055.2 2228.1 3055.1 2223.3 3056.9 2217.4C3058.7 2211.5 3061.4 2203.8 3065.8 2197.9C3070.2 2192 3076.1 2186 3083.5 2181.9C3090.9 2177.8 3099.8 2175.3 3110.2 2173.1C3120.6 2170.9 3134.8 2169.6 3145.7 2168.6C3156.5 2167.6 3160.4 2167.5 3175.3 2166.9C3190.2 2166.3 3215.3 2165.2 3235.3 2164.8C3255.3 2164.4 3275.9 2163.6 3295.3 2164.2C3314.7 2164.8 3337.3 2166.2 3351.6 2168.4C3365.9 2170.6 3372.2 2172.4 3381.1 2177.3C3390 2182.2 3399.3 2189.6 3404.8 2198C3410.3 2206.4 3413.3 2217.7 3414.3 2227.6C3415.3 2237.5 3414.8 2248.3 3410.7 2257.2C3406.6 2266.1 3398.4 2275.1 3390 2280.8C3381.6 2286.5 3370.3 2289.5 3360.4 2291.2C3350.4 2292.9 3341.7 2291.9 3330.3 2291.2C3319 2290.5 3308.5 2287.9 3292.3 2286.8C3276.1 2285.7 3252.8 2284.3 3233.3 2284.4C3213.8 2284.5 3189.9 2286.2 3175.3 2287.5C3160.7 2288.8 3155.1 2290.7 3145.7 2291.9C3136.3 2293.1 3127.3 2294.7 3119 2294.6C3110.7 2294.5 3102.8 2293.3 3096 2291.1C3089.2 2288.9 3083.5 2285.6 3078.2 2281.3C3072.9 2277 3067.6 2270.6 3064 2265.3C3060.4 2260 3058.4 2254.7 3056.9 2249.4C3055.4 2244.1 3055.2 2238.7 3055.2 2233.4Z" fill="url(#gBac)" stroke="#000" stroke-width="2.6"/>
<line x1="3182" y1="2155" x2="3189.4" y2="2171.5" stroke="#000" stroke-width="1.8" stroke-linecap="butt"/>
<line x1="3066" y1="2217.6" x2="3084" y2="2221.2" stroke="#000" stroke-width="1.8" stroke-linecap="butt"/>
<line x1="3094" y1="2223.2" x2="3111.2" y2="2226.7" stroke="#000" stroke-width="1.8" stroke-linecap="butt"/>
<circle cx="2835.2" cy="1943.3" r="225.7" fill="url(#gCon)" stroke="#000" stroke-width="2.2" stroke-dasharray="15.5 8.3"/>
<g id="cond">
<path d="M2746.2 1806.2C2749.4 1805.7 2759.3 1801.6 2765 1803.1C2770.7 1804.7 2775.9 1811.7 2780.6 1815.6C2785.3 1819.5 2787.9 1824 2793.1 1826.6C2798.3 1829.2 2807.4 1828.6 2811.9 1831.2C2816.3 1833.9 2819.1 1837 2819.7 1842.2C2820.3 1847.4 2815.4 1856.2 2815.6 1862.5C2815.9 1868.8 2817.7 1876.6 2821.2 1879.7C2824.8 1882.8 2832.2 1883.6 2836.9 1881.2C2841.6 1878.9 2844.7 1870.1 2849.4 1865.6C2854.1 1861.2 2860.3 1858.9 2865 1854.7C2869.7 1850.5 2875.4 1847.1 2877.5 1840.6C2879.6 1834.1 2877.5 1819.8 2877.5 1815.6" fill="none" stroke="#d8819d" stroke-width="7.4" stroke-linecap="round" stroke-linejoin="round"/>
<path d="M2819.7 1842.2C2820.3 1847.4 2815.4 1856.2 2815.6 1862.5C2815.9 1868.8 2817.7 1876.6 2821.2 1879.7" fill="none" stroke="#58595b" stroke-width="7.4" stroke-linecap="butt"/>
<path d="M2897.8 1835.9C2897.6 1839.8 2899.1 1853.6 2896.2 1859.4C2893.4 1865.1 2885.8 1866.7 2880.6 1870.3C2875.4 1874 2869.2 1875.3 2865 1881.2C2860.8 1887.2 2858.2 1901 2855.6 1906.2C2853 1911.5 2853 1910.9 2849.4 1912.5C2845.7 1914.1 2839.2 1916.4 2833.8 1915.6C2828.3 1914.8 2820.7 1910.9 2816.6 1907.8C2812.4 1904.7 2813.2 1899.2 2808.8 1896.9C2804.3 1894.5 2796.2 1896.4 2790 1893.8C2783.8 1891.1 2777 1884.6 2771.2 1881.2C2765.5 1877.9 2762.1 1873.4 2755.6 1873.4C2749.1 1873.4 2736.1 1879.9 2732.2 1881.2" fill="none" stroke="#d8819d" stroke-width="7.4" stroke-linecap="round" stroke-linejoin="round"/>
<path d="M2855.6 1906.2C2853 1911.5 2853 1910.9 2849.4 1912.5C2845.7 1914.1 2839.2 1916.4 2833.8 1915.6C2828.3 1914.8 2820.7 1910.9 2816.6 1907.8" fill="none" stroke="#58595b" stroke-width="7.4" stroke-linecap="butt"/>
<path d="M2660.3 1920.3C2660.1 1916.1 2656.9 1901.3 2658.8 1895.3C2660.6 1889.3 2667.9 1888.3 2671.2 1884.4C2674.6 1880.5 2677 1877.6 2679.1 1871.9C2681.1 1866.1 2680.6 1854.7 2683.8 1850C2686.9 1845.3 2692.6 1845.4 2697.8 1843.8C2703 1842.1 2709.5 1841.3 2715 1840C2720.5 1838.7 2725.4 1838.4 2730.6 1835.9C2735.8 1833.4 2741 1827.6 2746.2 1825C2751.5 1822.4 2757.7 1818.8 2761.9 1820.3C2766 1821.9 2768.1 1829.9 2771.2 1834.4C2774.4 1838.8 2776.5 1844.5 2780.6 1846.9C2784.8 1849.2 2791.6 1847.5 2796.2 1848.4C2800.9 1849.4 2806.7 1851.8 2808.8 1852.5" fill="none" stroke="#d8819d" stroke-width="7.4" stroke-linecap="round" stroke-linejoin="round"/>
<path d="M2697.8 1843.8C2703 1842.1 2709.5 1841.3 2715 1840C2720.5 1838.7 2725.4 1838.4 2730.6 1835.9" fill="none" stroke="#58595b" stroke-width="7.4" stroke-linecap="butt"/>
<path d="M2729.1 1903.1C2731.9 1902.1 2740.3 1896.9 2746.2 1896.9C2752.2 1896.9 2759.8 1900 2765 1903.1C2770.2 1906.2 2772.3 1913 2777.5 1915.6C2782.7 1918.2 2790.5 1917.7 2796.2 1918.8C2802 1919.8 2808.8 1919.5 2811.9 1921.9C2815 1924.2 2814.5 1927.6 2815 1932.8C2815.5 1938 2813.2 1947.2 2815 1953.1C2816.8 1959 2821.8 1967.1 2825.9 1968.1C2830.1 1969.2 2834.5 1962.7 2840 1959.4C2845.5 1956.1 2852.5 1950.8 2858.8 1948.4C2865 1946.1 2871.2 1945.6 2877.5 1945.3C2883.8 1945.1 2891 1948.2 2896.2 1946.9C2901.5 1945.6 2905.6 1941.1 2908.8 1937.5C2911.9 1933.9 2914 1927.1 2915 1925" fill="none" stroke="#d8819d" stroke-width="7.4" stroke-linecap="round" stroke-linejoin="round"/>
<path d="M2815 1932.8C2815.5 1938 2813.2 1947.2 2815 1953.1C2816.8 1959 2821.8 1967.1 2825.9 1968.1" fill="none" stroke="#58595b" stroke-width="7.4" stroke-linecap="butt"/>
<path d="M2845.3 1982.7C2846.7 1981.1 2850.7 1976.3 2853.7 1973.5C2856.6 1970.7 2859.5 1967.6 2862.9 1965.8C2866.2 1964 2870 1962.8 2873.6 1962.8C2877.2 1962.8 2881 1964.6 2884.3 1965.8C2887.6 1967.1 2890.2 1969.8 2893.5 1970.4C2896.8 1971.1 2900.9 1970.7 2904.2 1969.7C2907.5 1968.6 2910.3 1965.7 2913.4 1964.3C2916.4 1962.9 2919.9 1961 2922.6 1961.2C2925.3 1961.5 2927.5 1963.3 2929.5 1965.8C2931.4 1968.4 2933.7 1973 2934.1 1976.5C2934.4 1980.1 2933.4 1984.3 2931.8 1987.3C2930.1 1990.2 2926.9 1992.6 2924.1 1994.2C2921.3 1995.7 2918 1995.3 2914.9 1996.4C2911.9 1997.6 2908.8 1999.1 2905.7 2001C2902.7 2003 2899.6 2005.8 2896.5 2007.9C2893.5 2010.1 2890.7 2012.7 2887.4 2014.1C2884 2015.5 2880.2 2016.5 2876.6 2016.4C2873.1 2016.2 2869.2 2014.1 2865.9 2013.3C2862.6 2012.5 2859.8 2011.2 2856.7 2011.8C2853.7 2012.3 2850.1 2014.1 2847.6 2016.4C2845 2018.6 2843.3 2022.5 2841.4 2025.5C2839.5 2028.6 2837 2033.2 2836.1 2034.7" fill="none" stroke="#d8819d" stroke-width="7.4" stroke-linecap="round" stroke-linejoin="round"/>
<path d="M2929.5 1965.8C2931.4 1968.4 2933.7 1973 2934.1 1976.5C2934.4 1980.1 2933.4 1984.3 2931.8 1987.3C2930.1 1990.2 2926.9 1992.6 2924.1 1994.2C2921.3 1995.7 2918 1995.3 2914.9 1996.4" fill="none" stroke="#58595b" stroke-width="7.4" stroke-linecap="butt"/>
<path d="M2844.5 2056.9C2845.3 2055.3 2847 2050.2 2849.1 2047C2851.1 2043.8 2853.7 2040.2 2856.7 2037.8C2859.8 2035.4 2863.9 2033.1 2867.5 2032.4C2871 2031.8 2874.6 2033.6 2878.2 2034C2881.7 2034.3 2885.3 2035.4 2888.9 2034.7C2892.5 2034.1 2896.3 2032.2 2899.6 2030.1C2902.9 2028.1 2906 2024.3 2908.8 2022.5C2911.6 2020.7 2913.9 2019.2 2916.4 2019.4C2919 2019.7 2921.3 2022.7 2924.1 2024C2926.9 2025.3 2930.2 2027.2 2933.3 2027.1C2936.4 2026.9 2939.5 2025.4 2942.5 2023.2C2945.4 2021.1 2948.9 2017.2 2950.9 2014.1C2952.9 2010.9 2954.2 2007.8 2954.7 2004.1C2955.2 2000.4 2953.7 1995.9 2954 1991.9C2954.2 1987.8 2954.6 1982.8 2956.3 1979.6C2957.9 1976.4 2960.8 1974.2 2963.9 1972.7C2967 1971.2 2971.1 1971.2 2974.6 1970.4C2978.2 1969.7 2982.3 1969.7 2985.3 1968.1C2988.4 1966.6 2991.3 1963.9 2993 1961.2C2994.7 1958.6 2994.5 1955.2 2995.3 1952.1C2996.1 1948.9 2997.2 1943.8 2997.6 1942.1" fill="none" stroke="#d8819d" stroke-width="7.4" stroke-linecap="round" stroke-linejoin="round"/>
<path d="M2924.1 2024C2926.9 2025.3 2930.2 2027.2 2933.3 2027.1C2936.4 2026.9 2939.5 2025.4 2942.5 2023.2C2945.4 2021.1 2948.9 2017.2 2950.9 2014.1" fill="none" stroke="#58595b" stroke-width="7.4" stroke-linecap="butt"/>
<path d="M2965.4 2023.2C2965.8 2021.3 2967.1 2015.7 2967.7 2011.8C2968.4 2007.8 2968.1 2003.1 2969.3 1999.5C2970.4 1995.9 2971.9 1992.5 2974.6 1990.3C2977.3 1988.2 2981.8 1987.5 2985.3 1986.5C2988.9 1985.5 2992.7 1985.6 2996.1 1984.2C2999.4 1982.8 3002.9 1980.6 3005.2 1978.1C3007.5 1975.5 3008.4 1971.7 3009.8 1968.9C3011.2 1966.1 3011.2 1962.8 3013.7 1961.2C3016.1 1959.7 3021.2 1958.9 3024.4 1959.7C3027.6 1960.5 3030.6 1963 3032.8 1965.8C3035 1968.6 3036.9 1973.2 3037.4 1976.5C3037.9 1979.9 3037 1983.1 3035.9 1985.7C3034.7 1988.4 3032.5 1990.3 3030.5 1992.6C3028.5 1994.9 3025.4 1996.8 3023.6 1999.5C3021.8 2002.2 3020.8 2005.6 3019.8 2008.7C3018.8 2011.8 3019.1 2015.2 3017.5 2017.9C3015.8 2020.6 3012.9 2023.1 3009.8 2024.8C3006.8 2026.4 3002.7 2027.3 2999.1 2027.8C2995.5 2028.3 2991.7 2027.2 2988.4 2027.8C2985.1 2028.5 2981.8 2029.5 2979.2 2031.7C2976.7 2033.8 2974.5 2037.5 2973.1 2040.8C2971.7 2044.2 2971.4 2048.5 2970.8 2051.6C2970.2 2054.6 2969.5 2057.9 2969.3 2059.2" fill="none" stroke="#d8819d" stroke-width="7.4" stroke-linecap="round" stroke-linejoin="round"/>
<path d="M3024.4 1959.7C3027.6 1960.5 3030.6 1963 3032.8 1965.8C3035 1968.6 3036.9 1973.2 3037.4 1976.5C3037.9 1979.9 3037 1983.1 3035.9 1985.7C3034.7 1988.4 3032.5 1990.3 3030.5 1992.6" fill="none" stroke="#58595b" stroke-width="7.4" stroke-linecap="butt"/>
<path d="M2797.1 1769.3C2795.3 1769.8 2789.8 1770.3 2786.6 1772.1C2783.4 1773.8 2780.8 1777.2 2777.8 1779.7C2774.9 1782.3 2772.2 1785.8 2769.1 1787.4C2765.9 1789.1 2762.5 1789.8 2759.2 1789.9C2755.9 1789.9 2752.6 1789.2 2749.3 1788C2746 1786.8 2742.5 1784.1 2739.4 1782.5C2736.3 1780.8 2733.5 1779 2730.6 1778.1C2727.7 1777.2 2724.7 1776.8 2721.8 1777C2718.9 1777.2 2715.8 1777.9 2713 1779.2C2710.3 1780.5 2707.9 1782.6 2705.3 1784.7C2702.8 1786.8 2700.2 1789.8 2697.6 1791.8C2695.1 1793.8 2692.2 1795.7 2689.9 1796.8C2687.6 1797.9 2684.9 1798.1 2683.9 1798.4" fill="none" stroke="#6b84c4" stroke-width="6.8" stroke-linecap="round" stroke-linejoin="round"/>
<path d="M2974.9 1842.1C2973.5 1841.5 2969.7 1839.3 2966.5 1838.3C2963.3 1837.3 2959.4 1836.7 2955.8 1836C2952.2 1835.3 2948.1 1835.4 2945.1 1834.1C2942 1832.9 2939.6 1830.8 2937.4 1828.3C2935.3 1825.8 2933.3 1822.5 2932.1 1819.1C2930.8 1815.8 2930.4 1812 2929.8 1808.4C2929.1 1804.9 2929.5 1801 2928.2 1797.7C2927 1794.4 2924.7 1791 2922.1 1788.5C2919.6 1786.1 2916.3 1784.4 2912.9 1783.2C2909.6 1781.9 2905.8 1781.7 2902.2 1781.2C2898.6 1780.7 2894.7 1781.1 2891.5 1780.1C2888.3 1779.2 2884.5 1776.3 2883.1 1775.5" fill="none" stroke="#6b84c4" stroke-width="6.8" stroke-linecap="round" stroke-linejoin="round"/>
<path d="M2926.9 1915C2928.6 1915.5 2933 1917.6 2936.7 1917.7C2940.4 1917.7 2945 1915.7 2949.1 1915.4C2953.3 1915.1 2957.7 1914.8 2961.5 1915.9C2965.4 1917 2969.2 1919.3 2972.2 1922.1C2975.1 1924.9 2977.1 1929.2 2979.3 1932.8C2981.5 1936.3 2982.8 1940.3 2985.5 1943.4C2988.2 1946.5 2991.6 1949.6 2995.2 1951.4C2998.9 1953.2 3003.5 1953.9 3007.7 1954.1C3011.8 1954.2 3016.5 1952.4 3020.1 1952.3C3023.6 1952.1 3026.4 1952.6 3029 1953.2C3031.5 1953.8 3034.1 1955.4 3035.2 1955.8" fill="none" stroke="#6b84c4" stroke-width="6.8" stroke-linecap="round" stroke-linejoin="round"/>
<path d="M2673.7 2025C2673.5 2022.7 2672.2 2015.6 2672.3 2010.8C2672.4 2006.1 2674.4 2001.1 2674.1 1996.6C2673.8 1992.2 2672.9 1987.8 2670.5 1984.2C2668.2 1980.7 2664 1977.9 2659.9 1975.4C2655.7 1972.8 2649.7 1971.8 2645.7 1969.1C2641.7 1966.5 2638 1963.1 2635.9 1959.4C2633.9 1955.7 2633.4 1951.4 2633.3 1947C2633.1 1942.5 2634.9 1936.6 2635 1932.8C2635.2 1928.9 2634.7 1926.4 2634.2 1923.9C2633.6 1921.4 2631.9 1918.7 2631.5 1917.7" fill="none" stroke="#6b84c4" stroke-width="6.8" stroke-linecap="round" stroke-linejoin="round"/>
<path d="M2791.5 2080C2791.5 2078.3 2792 2072.9 2791.2 2069.4C2790.4 2065.8 2788.1 2062.6 2786.8 2058.7C2785.4 2054.9 2783.4 2050.5 2783.2 2046.3C2783.1 2042.2 2783.9 2037.5 2785.9 2033.9C2787.8 2030.4 2791.6 2028 2794.7 2025C2797.8 2022.1 2801.8 2019.7 2804.5 2016.2C2807.2 2012.6 2809.8 2008.2 2810.7 2003.7C2811.6 1999.3 2810.7 1994 2809.8 1989.5C2808.9 1985.1 2806.5 1981.1 2805.4 1977.1C2804.3 1973.1 2803.6 1967.5 2803.3 1965.6" fill="none" stroke="#6b84c4" stroke-width="6.8" stroke-linecap="round" stroke-linejoin="round"/>
<path d="M2885.7 2113.5C2887.4 2112.6 2892.1 2110.7 2895.5 2108.2C2898.9 2105.7 2902.3 2100.8 2906.1 2098.4C2910 2096.1 2914.4 2094.3 2918.6 2094C2922.7 2093.7 2926.8 2095 2931 2096.7C2935.1 2098.3 2939.3 2102 2943.4 2103.8C2947.6 2105.5 2951.7 2107.3 2955.8 2107.3C2960 2107.3 2964.4 2105.8 2968.3 2103.8C2972.1 2101.7 2975.6 2097.4 2978.9 2094.9C2982.2 2092.4 2985 2090 2987.8 2088.7C2990.6 2087.4 2994.4 2087.5 2995.8 2087.3" fill="none" stroke="#6b84c4" stroke-width="6.8" stroke-linecap="round" stroke-linejoin="round"/>
<path d="M2749.4 1976.6C2747.8 1974.2 2742.9 1967.2 2740 1962.5C2737.1 1957.8 2734 1953.4 2732.2 1948.4C2730.4 1943.5 2728.8 1938 2729.1 1932.8C2729.3 1927.6 2732 1922.1 2733.8 1917.2C2735.5 1912.2 2738.9 1907.8 2739.4 1903.1C2739.9 1898.4 2738.9 1893.2 2736.9 1889.1C2734.9 1884.9 2730.2 1881.1 2727.5 1878.1C2724.8 1875.2 2722.2 1873.1 2720.6 1871.2C2719.1 1869.4 2718.5 1867.9 2718.1 1867.2" fill="none" stroke="#6b84c4" stroke-width="6.8" stroke-linecap="round" stroke-linejoin="round"/>
<circle cx="2726.6" cy="1809.4" r="19.6" fill="url(#sTea)" stroke="#000" stroke-width="2.6"/>
<circle cx="2900" cy="1815" r="19.6" fill="url(#sTea)" stroke="#000" stroke-width="2.6"/>
<circle cx="2707.8" cy="1906.9" r="19.6" fill="url(#sTea)" stroke="#000" stroke-width="2.6"/>
<circle cx="2663.4" cy="1943.1" r="19.6" fill="url(#sTea)" stroke="#000" stroke-width="2.6"/>
<circle cx="3009.4" cy="1922.5" r="19.6" fill="url(#sTea)" stroke="#000" stroke-width="2.6"/>
<circle cx="2818.1" cy="2048.4" r="19.6" fill="url(#sTea)" stroke="#000" stroke-width="2.6"/>
<circle cx="2957.8" cy="2077.2" r="19.6" fill="url(#sTea)" stroke="#000" stroke-width="2.6"/>
<circle cx="2827.5" cy="1768.2" r="29.2" fill="url(#sOra)" stroke="#000" stroke-width="2.6"/>
<circle cx="2900.4" cy="1898.8" r="29.2" fill="url(#sOra)" stroke="#000" stroke-width="2.6"/>
<circle cx="2691.5" cy="2050.2" r="29.2" fill="url(#sOra)" stroke="#000" stroke-width="2.6"/>
<circle cx="2782.3" cy="2109.3" r="29.2" fill="url(#sOra)" stroke="#000" stroke-width="2.6"/>
<path d="M2964.1 1866.5Q2961.2 1861.9 2964.7 1857.6L2984.1 1834.6Q2987.6 1830.3 2992.7 1832.4L3020.7 1843.7Q3025.8 1845.8 3025.4 1851.2L3023.3 1881.3Q3022.9 1886.8 3017.6 1888.1L2988.3 1895.4Q2983 1896.8 2980.1 1892.1Z" fill="url(#sMau)" stroke="#000" stroke-width="2.6"/>
<path d="M2824.5 2125.1Q2820.6 2121.2 2823.1 2116.3L2836.8 2089.4Q2839.3 2084.5 2844.7 2085.4L2874.5 2090.1Q2879.9 2091 2880.8 2096.4L2885.5 2126.2Q2886.4 2131.6 2881.5 2134.1L2854.6 2147.8Q2849.7 2150.3 2845.8 2146.4Z" fill="url(#sMau)" stroke="#000" stroke-width="2.6"/>
<path d="M2785.3 2003.1Q2788.2 2007.9 2784.6 2012L2764.8 2034.8Q2761.2 2038.9 2756.1 2036.8L2728.4 2025Q2723.3 2022.8 2723.8 2017.4L2726.4 1987.3Q2726.9 1981.9 2732.3 1980.6L2761.6 1973.8Q2767 1972.6 2769.8 1977.3Z" fill="url(#sMau)" stroke="#000" stroke-width="2.6"/>
</g>
<circle cx="3168.2" cy="2224.6" r="46" fill="#eef3f9" stroke="#000" stroke-width="1" stroke-dasharray="3.4 1.8"/>
<g transform="translate(3168.2 2224.6) scale(0.2038) translate(-2835.2 -1943.3)">
<path d="M2746.2 1806.2C2749.4 1805.7 2759.3 1801.6 2765 1803.1C2770.7 1804.7 2775.9 1811.7 2780.6 1815.6C2785.3 1819.5 2787.9 1824 2793.1 1826.6C2798.3 1829.2 2807.4 1828.6 2811.9 1831.2C2816.3 1833.9 2819.1 1837 2819.7 1842.2C2820.3 1847.4 2815.4 1856.2 2815.6 1862.5C2815.9 1868.8 2817.7 1876.6 2821.2 1879.7C2824.8 1882.8 2832.2 1883.6 2836.9 1881.2C2841.6 1878.9 2844.7 1870.1 2849.4 1865.6C2854.1 1861.2 2860.3 1858.9 2865 1854.7C2869.7 1850.5 2875.4 1847.1 2877.5 1840.6C2879.6 1834.1 2877.5 1819.8 2877.5 1815.6" fill="none" stroke="#d8819d" stroke-width="9.0" stroke-linecap="round" stroke-linejoin="round"/>
<path d="M2819.7 1842.2C2820.3 1847.4 2815.4 1856.2 2815.6 1862.5C2815.9 1868.8 2817.7 1876.6 2821.2 1879.7" fill="none" stroke="#58595b" stroke-width="9.0" stroke-linecap="butt"/>
<path d="M2897.8 1835.9C2897.6 1839.8 2899.1 1853.6 2896.2 1859.4C2893.4 1865.1 2885.8 1866.7 2880.6 1870.3C2875.4 1874 2869.2 1875.3 2865 1881.2C2860.8 1887.2 2858.2 1901 2855.6 1906.2C2853 1911.5 2853 1910.9 2849.4 1912.5C2845.7 1914.1 2839.2 1916.4 2833.8 1915.6C2828.3 1914.8 2820.7 1910.9 2816.6 1907.8C2812.4 1904.7 2813.2 1899.2 2808.8 1896.9C2804.3 1894.5 2796.2 1896.4 2790 1893.8C2783.8 1891.1 2777 1884.6 2771.2 1881.2C2765.5 1877.9 2762.1 1873.4 2755.6 1873.4C2749.1 1873.4 2736.1 1879.9 2732.2 1881.2" fill="none" stroke="#d8819d" stroke-width="9.0" stroke-linecap="round" stroke-linejoin="round"/>
<path d="M2855.6 1906.2C2853 1911.5 2853 1910.9 2849.4 1912.5C2845.7 1914.1 2839.2 1916.4 2833.8 1915.6C2828.3 1914.8 2820.7 1910.9 2816.6 1907.8" fill="none" stroke="#58595b" stroke-width="9.0" stroke-linecap="butt"/>
<path d="M2660.3 1920.3C2660.1 1916.1 2656.9 1901.3 2658.8 1895.3C2660.6 1889.3 2667.9 1888.3 2671.2 1884.4C2674.6 1880.5 2677 1877.6 2679.1 1871.9C2681.1 1866.1 2680.6 1854.7 2683.8 1850C2686.9 1845.3 2692.6 1845.4 2697.8 1843.8C2703 1842.1 2709.5 1841.3 2715 1840C2720.5 1838.7 2725.4 1838.4 2730.6 1835.9C2735.8 1833.4 2741 1827.6 2746.2 1825C2751.5 1822.4 2757.7 1818.8 2761.9 1820.3C2766 1821.9 2768.1 1829.9 2771.2 1834.4C2774.4 1838.8 2776.5 1844.5 2780.6 1846.9C2784.8 1849.2 2791.6 1847.5 2796.2 1848.4C2800.9 1849.4 2806.7 1851.8 2808.8 1852.5" fill="none" stroke="#d8819d" stroke-width="9.0" stroke-linecap="round" stroke-linejoin="round"/>
<path d="M2697.8 1843.8C2703 1842.1 2709.5 1841.3 2715 1840C2720.5 1838.7 2725.4 1838.4 2730.6 1835.9" fill="none" stroke="#58595b" stroke-width="9.0" stroke-linecap="butt"/>
<path d="M2729.1 1903.1C2731.9 1902.1 2740.3 1896.9 2746.2 1896.9C2752.2 1896.9 2759.8 1900 2765 1903.1C2770.2 1906.2 2772.3 1913 2777.5 1915.6C2782.7 1918.2 2790.5 1917.7 2796.2 1918.8C2802 1919.8 2808.8 1919.5 2811.9 1921.9C2815 1924.2 2814.5 1927.6 2815 1932.8C2815.5 1938 2813.2 1947.2 2815 1953.1C2816.8 1959 2821.8 1967.1 2825.9 1968.1C2830.1 1969.2 2834.5 1962.7 2840 1959.4C2845.5 1956.1 2852.5 1950.8 2858.8 1948.4C2865 1946.1 2871.2 1945.6 2877.5 1945.3C2883.8 1945.1 2891 1948.2 2896.2 1946.9C2901.5 1945.6 2905.6 1941.1 2908.8 1937.5C2911.9 1933.9 2914 1927.1 2915 1925" fill="none" stroke="#d8819d" stroke-width="9.0" stroke-linecap="round" stroke-linejoin="round"/>
<path d="M2815 1932.8C2815.5 1938 2813.2 1947.2 2815 1953.1C2816.8 1959 2821.8 1967.1 2825.9 1968.1" fill="none" stroke="#58595b" stroke-width="9.0" stroke-linecap="butt"/>
<path d="M2845.3 1982.7C2846.7 1981.1 2850.7 1976.3 2853.7 1973.5C2856.6 1970.7 2859.5 1967.6 2862.9 1965.8C2866.2 1964 2870 1962.8 2873.6 1962.8C2877.2 1962.8 2881 1964.6 2884.3 1965.8C2887.6 1967.1 2890.2 1969.8 2893.5 1970.4C2896.8 1971.1 2900.9 1970.7 2904.2 1969.7C2907.5 1968.6 2910.3 1965.7 2913.4 1964.3C2916.4 1962.9 2919.9 1961 2922.6 1961.2C2925.3 1961.5 2927.5 1963.3 2929.5 1965.8C2931.4 1968.4 2933.7 1973 2934.1 1976.5C2934.4 1980.1 2933.4 1984.3 2931.8 1987.3C2930.1 1990.2 2926.9 1992.6 2924.1 1994.2C2921.3 1995.7 2918 1995.3 2914.9 1996.4C2911.9 1997.6 2908.8 1999.1 2905.7 2001C2902.7 2003 2899.6 2005.8 2896.5 2007.9C2893.5 2010.1 2890.7 2012.7 2887.4 2014.1C2884 2015.5 2880.2 2016.5 2876.6 2016.4C2873.1 2016.2 2869.2 2014.1 2865.9 2013.3C2862.6 2012.5 2859.8 2011.2 2856.7 2011.8C2853.7 2012.3 2850.1 2014.1 2847.6 2016.4C2845 2018.6 2843.3 2022.5 2841.4 2025.5C2839.5 2028.6 2837 2033.2 2836.1 2034.7" fill="none" stroke="#d8819d" stroke-width="9.0" stroke-linecap="round" stroke-linejoin="round"/>
<path d="M2929.5 1965.8C2931.4 1968.4 2933.7 1973 2934.1 1976.5C2934.4 1980.1 2933.4 1984.3 2931.8 1987.3C2930.1 1990.2 2926.9 1992.6 2924.1 1994.2C2921.3 1995.7 2918 1995.3 2914.9 1996.4" fill="none" stroke="#58595b" stroke-width="9.0" stroke-linecap="butt"/>
<path d="M2844.5 2056.9C2845.3 2055.3 2847 2050.2 2849.1 2047C2851.1 2043.8 2853.7 2040.2 2856.7 2037.8C2859.8 2035.4 2863.9 2033.1 2867.5 2032.4C2871 2031.8 2874.6 2033.6 2878.2 2034C2881.7 2034.3 2885.3 2035.4 2888.9 2034.7C2892.5 2034.1 2896.3 2032.2 2899.6 2030.1C2902.9 2028.1 2906 2024.3 2908.8 2022.5C2911.6 2020.7 2913.9 2019.2 2916.4 2019.4C2919 2019.7 2921.3 2022.7 2924.1 2024C2926.9 2025.3 2930.2 2027.2 2933.3 2027.1C2936.4 2026.9 2939.5 2025.4 2942.5 2023.2C2945.4 2021.1 2948.9 2017.2 2950.9 2014.1C2952.9 2010.9 2954.2 2007.8 2954.7 2004.1C2955.2 2000.4 2953.7 1995.9 2954 1991.9C2954.2 1987.8 2954.6 1982.8 2956.3 1979.6C2957.9 1976.4 2960.8 1974.2 2963.9 1972.7C2967 1971.2 2971.1 1971.2 2974.6 1970.4C2978.2 1969.7 2982.3 1969.7 2985.3 1968.1C2988.4 1966.6 2991.3 1963.9 2993 1961.2C2994.7 1958.6 2994.5 1955.2 2995.3 1952.1C2996.1 1948.9 2997.2 1943.8 2997.6 1942.1" fill="none" stroke="#d8819d" stroke-width="9.0" stroke-linecap="round" stroke-linejoin="round"/>
<path d="M2924.1 2024C2926.9 2025.3 2930.2 2027.2 2933.3 2027.1C2936.4 2026.9 2939.5 2025.4 2942.5 2023.2C2945.4 2021.1 2948.9 2017.2 2950.9 2014.1" fill="none" stroke="#58595b" stroke-width="9.0" stroke-linecap="butt"/>
<path d="M2965.4 2023.2C2965.8 2021.3 2967.1 2015.7 2967.7 2011.8C2968.4 2007.8 2968.1 2003.1 2969.3 1999.5C2970.4 1995.9 2971.9 1992.5 2974.6 1990.3C2977.3 1988.2 2981.8 1987.5 2985.3 1986.5C2988.9 1985.5 2992.7 1985.6 2996.1 1984.2C2999.4 1982.8 3002.9 1980.6 3005.2 1978.1C3007.5 1975.5 3008.4 1971.7 3009.8 1968.9C3011.2 1966.1 3011.2 1962.8 3013.7 1961.2C3016.1 1959.7 3021.2 1958.9 3024.4 1959.7C3027.6 1960.5 3030.6 1963 3032.8 1965.8C3035 1968.6 3036.9 1973.2 3037.4 1976.5C3037.9 1979.9 3037 1983.1 3035.9 1985.7C3034.7 1988.4 3032.5 1990.3 3030.5 1992.6C3028.5 1994.9 3025.4 1996.8 3023.6 1999.5C3021.8 2002.2 3020.8 2005.6 3019.8 2008.7C3018.8 2011.8 3019.1 2015.2 3017.5 2017.9C3015.8 2020.6 3012.9 2023.1 3009.8 2024.8C3006.8 2026.4 3002.7 2027.3 2999.1 2027.8C2995.5 2028.3 2991.7 2027.2 2988.4 2027.8C2985.1 2028.5 2981.8 2029.5 2979.2 2031.7C2976.7 2033.8 2974.5 2037.5 2973.1 2040.8C2971.7 2044.2 2971.4 2048.5 2970.8 2051.6C2970.2 2054.6 2969.5 2057.9 2969.3 2059.2" fill="none" stroke="#d8819d" stroke-width="9.0" stroke-linecap="round" stroke-linejoin="round"/>
<path d="M3024.4 1959.7C3027.6 1960.5 3030.6 1963 3032.8 1965.8C3035 1968.6 3036.9 1973.2 3037.4 1976.5C3037.9 1979.9 3037 1983.1 3035.9 1985.7C3034.7 1988.4 3032.5 1990.3 3030.5 1992.6" fill="none" stroke="#58595b" stroke-width="9.0" stroke-linecap="butt"/>
<path d="M2797.1 1769.3C2795.3 1769.8 2789.8 1770.3 2786.6 1772.1C2783.4 1773.8 2780.8 1777.2 2777.8 1779.7C2774.9 1782.3 2772.2 1785.8 2769.1 1787.4C2765.9 1789.1 2762.5 1789.8 2759.2 1789.9C2755.9 1789.9 2752.6 1789.2 2749.3 1788C2746 1786.8 2742.5 1784.1 2739.4 1782.5C2736.3 1780.8 2733.5 1779 2730.6 1778.1C2727.7 1777.2 2724.7 1776.8 2721.8 1777C2718.9 1777.2 2715.8 1777.9 2713 1779.2C2710.3 1780.5 2707.9 1782.6 2705.3 1784.7C2702.8 1786.8 2700.2 1789.8 2697.6 1791.8C2695.1 1793.8 2692.2 1795.7 2689.9 1796.8C2687.6 1797.9 2684.9 1798.1 2683.9 1798.4" fill="none" stroke="#6b84c4" stroke-width="8.5" stroke-linecap="round" stroke-linejoin="round"/>
<path d="M2974.9 1842.1C2973.5 1841.5 2969.7 1839.3 2966.5 1838.3C2963.3 1837.3 2959.4 1836.7 2955.8 1836C2952.2 1835.3 2948.1 1835.4 2945.1 1834.1C2942 1832.9 2939.6 1830.8 2937.4 1828.3C2935.3 1825.8 2933.3 1822.5 2932.1 1819.1C2930.8 1815.8 2930.4 1812 2929.8 1808.4C2929.1 1804.9 2929.5 1801 2928.2 1797.7C2927 1794.4 2924.7 1791 2922.1 1788.5C2919.6 1786.1 2916.3 1784.4 2912.9 1783.2C2909.6 1781.9 2905.8 1781.7 2902.2 1781.2C2898.6 1780.7 2894.7 1781.1 2891.5 1780.1C2888.3 1779.2 2884.5 1776.3 2883.1 1775.5" fill="none" stroke="#6b84c4" stroke-width="8.5" stroke-linecap="round" stroke-linejoin="round"/>
<path d="M2926.9 1915C2928.6 1915.5 2933 1917.6 2936.7 1917.7C2940.4 1917.7 2945 1915.7 2949.1 1915.4C2953.3 1915.1 2957.7 1914.8 2961.5 1915.9C2965.4 1917 2969.2 1919.3 2972.2 1922.1C2975.1 1924.9 2977.1 1929.2 2979.3 1932.8C2981.5 1936.3 2982.8 1940.3 2985.5 1943.4C2988.2 1946.5 2991.6 1949.6 2995.2 1951.4C2998.9 1953.2 3003.5 1953.9 3007.7 1954.1C3011.8 1954.2 3016.5 1952.4 3020.1 1952.3C3023.6 1952.1 3026.4 1952.6 3029 1953.2C3031.5 1953.8 3034.1 1955.4 3035.2 1955.8" fill="none" stroke="#6b84c4" stroke-width="8.5" stroke-linecap="round" stroke-linejoin="round"/>
<path d="M2673.7 2025C2673.5 2022.7 2672.2 2015.6 2672.3 2010.8C2672.4 2006.1 2674.4 2001.1 2674.1 1996.6C2673.8 1992.2 2672.9 1987.8 2670.5 1984.2C2668.2 1980.7 2664 1977.9 2659.9 1975.4C2655.7 1972.8 2649.7 1971.8 2645.7 1969.1C2641.7 1966.5 2638 1963.1 2635.9 1959.4C2633.9 1955.7 2633.4 1951.4 2633.3 1947C2633.1 1942.5 2634.9 1936.6 2635 1932.8C2635.2 1928.9 2634.7 1926.4 2634.2 1923.9C2633.6 1921.4 2631.9 1918.7 2631.5 1917.7" fill="none" stroke="#6b84c4" stroke-width="8.5" stroke-linecap="round" stroke-linejoin="round"/>
<path d="M2791.5 2080C2791.5 2078.3 2792 2072.9 2791.2 2069.4C2790.4 2065.8 2788.1 2062.6 2786.8 2058.7C2785.4 2054.9 2783.4 2050.5 2783.2 2046.3C2783.1 2042.2 2783.9 2037.5 2785.9 2033.9C2787.8 2030.4 2791.6 2028 2794.7 2025C2797.8 2022.1 2801.8 2019.7 2804.5 2016.2C2807.2 2012.6 2809.8 2008.2 2810.7 2003.7C2811.6 1999.3 2810.7 1994 2809.8 1989.5C2808.9 1985.1 2806.5 1981.1 2805.4 1977.1C2804.3 1973.1 2803.6 1967.5 2803.3 1965.6" fill="none" stroke="#6b84c4" stroke-width="8.5" stroke-linecap="round" stroke-linejoin="round"/>
<path d="M2885.7 2113.5C2887.4 2112.6 2892.1 2110.7 2895.5 2108.2C2898.9 2105.7 2902.3 2100.8 2906.1 2098.4C2910 2096.1 2914.4 2094.3 2918.6 2094C2922.7 2093.7 2926.8 2095 2931 2096.7C2935.1 2098.3 2939.3 2102 2943.4 2103.8C2947.6 2105.5 2951.7 2107.3 2955.8 2107.3C2960 2107.3 2964.4 2105.8 2968.3 2103.8C2972.1 2101.7 2975.6 2097.4 2978.9 2094.9C2982.2 2092.4 2985 2090 2987.8 2088.7C2990.6 2087.4 2994.4 2087.5 2995.8 2087.3" fill="none" stroke="#6b84c4" stroke-width="8.5" stroke-linecap="round" stroke-linejoin="round"/>
<path d="M2749.4 1976.6C2747.8 1974.2 2742.9 1967.2 2740 1962.5C2737.1 1957.8 2734 1953.4 2732.2 1948.4C2730.4 1943.5 2728.8 1938 2729.1 1932.8C2729.3 1927.6 2732 1922.1 2733.8 1917.2C2735.5 1912.2 2738.9 1907.8 2739.4 1903.1C2739.9 1898.4 2738.9 1893.2 2736.9 1889.1C2734.9 1884.9 2730.2 1881.1 2727.5 1878.1C2724.8 1875.2 2722.2 1873.1 2720.6 1871.2C2719.1 1869.4 2718.5 1867.9 2718.1 1867.2" fill="none" stroke="#6b84c4" stroke-width="8.5" stroke-linecap="round" stroke-linejoin="round"/>
<circle cx="2726.6" cy="1809.4" r="19.6" fill="url(#sTea)" stroke="#000" stroke-width="4.4"/>
<circle cx="2900" cy="1815" r="19.6" fill="url(#sTea)" stroke="#000" stroke-width="4.4"/>
<circle cx="2707.8" cy="1906.9" r="19.6" fill="url(#sTea)" stroke="#000" stroke-width="4.4"/>
<circle cx="2663.4" cy="1943.1" r="19.6" fill="url(#sTea)" stroke="#000" stroke-width="4.4"/>
<circle cx="3009.4" cy="1922.5" r="19.6" fill="url(#sTea)" stroke="#000" stroke-width="4.4"/>
<circle cx="2818.1" cy="2048.4" r="19.6" fill="url(#sTea)" stroke="#000" stroke-width="4.4"/>
<circle cx="2957.8" cy="2077.2" r="19.6" fill="url(#sTea)" stroke="#000" stroke-width="4.4"/>
<circle cx="2827.5" cy="1768.2" r="29.2" fill="url(#sOra)" stroke="#000" stroke-width="4.4"/>
<circle cx="2900.4" cy="1898.8" r="29.2" fill="url(#sOra)" stroke="#000" stroke-width="4.4"/>
<circle cx="2691.5" cy="2050.2" r="29.2" fill="url(#sOra)" stroke="#000" stroke-width="4.4"/>
<circle cx="2782.3" cy="2109.3" r="29.2" fill="url(#sOra)" stroke="#000" stroke-width="4.4"/>
<path d="M2964.1 1866.5Q2961.2 1861.9 2964.7 1857.6L2984.1 1834.6Q2987.6 1830.3 2992.7 1832.4L3020.7 1843.7Q3025.8 1845.8 3025.4 1851.2L3023.3 1881.3Q3022.9 1886.8 3017.6 1888.1L2988.3 1895.4Q2983 1896.8 2980.1 1892.1Z" fill="url(#sMau)" stroke="#000" stroke-width="4.4"/>
<path d="M2824.5 2125.1Q2820.6 2121.2 2823.1 2116.3L2836.8 2089.4Q2839.3 2084.5 2844.7 2085.4L2874.5 2090.1Q2879.9 2091 2880.8 2096.4L2885.5 2126.2Q2886.4 2131.6 2881.5 2134.1L2854.6 2147.8Q2849.7 2150.3 2845.8 2146.4Z" fill="url(#sMau)" stroke="#000" stroke-width="4.4"/>
<path d="M2785.3 2003.1Q2788.2 2007.9 2784.6 2012L2764.8 2034.8Q2761.2 2038.9 2756.1 2036.8L2728.4 2025Q2723.3 2022.8 2723.8 2017.4L2726.4 1987.3Q2726.9 1981.9 2732.3 1980.6L2761.6 1973.8Q2767 1972.6 2769.8 1977.3Z" fill="url(#sMau)" stroke="#000" stroke-width="4.4"/>
</g>
<circle cx="3285.6" cy="2222.6" r="46" fill="#eef3f9" stroke="#000" stroke-width="1" stroke-dasharray="3.4 1.8"/>
<g transform="translate(3285.6 2222.6) scale(0.2038) translate(-2835.2 -1943.3)">
<path d="M2746.2 1806.2C2749.4 1805.7 2759.3 1801.6 2765 1803.1C2770.7 1804.7 2775.9 1811.7 2780.6 1815.6C2785.3 1819.5 2787.9 1824 2793.1 1826.6C2798.3 1829.2 2807.4 1828.6 2811.9 1831.2C2816.3 1833.9 2819.1 1837 2819.7 1842.2C2820.3 1847.4 2815.4 1856.2 2815.6 1862.5C2815.9 1868.8 2817.7 1876.6 2821.2 1879.7C2824.8 1882.8 2832.2 1883.6 2836.9 1881.2C2841.6 1878.9 2844.7 1870.1 2849.4 1865.6C2854.1 1861.2 2860.3 1858.9 2865 1854.7C2869.7 1850.5 2875.4 1847.1 2877.5 1840.6C2879.6 1834.1 2877.5 1819.8 2877.5 1815.6" fill="none" stroke="#d8819d" stroke-width="9.0" stroke-linecap="round" stroke-linejoin="round"/>
<path d="M2819.7 1842.2C2820.3 1847.4 2815.4 1856.2 2815.6 1862.5C2815.9 1868.8 2817.7 1876.6 2821.2 1879.7" fill="none" stroke="#58595b" stroke-width="9.0" stroke-linecap="butt"/>
<path d="M2897.8 1835.9C2897.6 1839.8 2899.1 1853.6 2896.2 1859.4C2893.4 1865.1 2885.8 1866.7 2880.6 1870.3C2875.4 1874 2869.2 1875.3 2865 1881.2C2860.8 1887.2 2858.2 1901 2855.6 1906.2C2853 1911.5 2853 1910.9 2849.4 1912.5C2845.7 1914.1 2839.2 1916.4 2833.8 1915.6C2828.3 1914.8 2820.7 1910.9 2816.6 1907.8C2812.4 1904.7 2813.2 1899.2 2808.8 1896.9C2804.3 1894.5 2796.2 1896.4 2790 1893.8C2783.8 1891.1 2777 1884.6 2771.2 1881.2C2765.5 1877.9 2762.1 1873.4 2755.6 1873.4C2749.1 1873.4 2736.1 1879.9 2732.2 1881.2" fill="none" stroke="#d8819d" stroke-width="9.0" stroke-linecap="round" stroke-linejoin="round"/>
<path d="M2855.6 1906.2C2853 1911.5 2853 1910.9 2849.4 1912.5C2845.7 1914.1 2839.2 1916.4 2833.8 1915.6C2828.3 1914.8 2820.7 1910.9 2816.6 1907.8" fill="none" stroke="#58595b" stroke-width="9.0" stroke-linecap="butt"/>
<path d="M2660.3 1920.3C2660.1 1916.1 2656.9 1901.3 2658.8 1895.3C2660.6 1889.3 2667.9 1888.3 2671.2 1884.4C2674.6 1880.5 2677 1877.6 2679.1 1871.9C2681.1 1866.1 2680.6 1854.7 2683.8 1850C2686.9 1845.3 2692.6 1845.4 2697.8 1843.8C2703 1842.1 2709.5 1841.3 2715 1840C2720.5 1838.7 2725.4 1838.4 2730.6 1835.9C2735.8 1833.4 2741 1827.6 2746.2 1825C2751.5 1822.4 2757.7 1818.8 2761.9 1820.3C2766 1821.9 2768.1 1829.9 2771.2 1834.4C2774.4 1838.8 2776.5 1844.5 2780.6 1846.9C2784.8 1849.2 2791.6 1847.5 2796.2 1848.4C2800.9 1849.4 2806.7 1851.8 2808.8 1852.5" fill="none" stroke="#d8819d" stroke-width="9.0" stroke-linecap="round" stroke-linejoin="round"/>
<path d="M2697.8 1843.8C2703 1842.1 2709.5 1841.3 2715 1840C2720.5 1838.7 2725.4 1838.4 2730.6 1835.9" fill="none" stroke="#58595b" stroke-width="9.0" stroke-linecap="butt"/>
<path d="M2729.1 1903.1C2731.9 1902.1 2740.3 1896.9 2746.2 1896.9C2752.2 1896.9 2759.8 1900 2765 1903.1C2770.2 1906.2 2772.3 1913 2777.5 1915.6C2782.7 1918.2 2790.5 1917.7 2796.2 1918.8C2802 1919.8 2808.8 1919.5 2811.9 1921.9C2815 1924.2 2814.5 1927.6 2815 1932.8C2815.5 1938 2813.2 1947.2 2815 1953.1C2816.8 1959 2821.8 1967.1 2825.9 1968.1C2830.1 1969.2 2834.5 1962.7 2840 1959.4C2845.5 1956.1 2852.5 1950.8 2858.8 1948.4C2865 1946.1 2871.2 1945.6 2877.5 1945.3C2883.8 1945.1 2891 1948.2 2896.2 1946.9C2901.5 1945.6 2905.6 1941.1 2908.8 1937.5C2911.9 1933.9 2914 1927.1 2915 1925" fill="none" stroke="#d8819d" stroke-width="9.0" stroke-linecap="round" stroke-linejoin="round"/>
<path d="M2815 1932.8C2815.5 1938 2813.2 1947.2 2815 1953.1C2816.8 1959 2821.8 1967.1 2825.9 1968.1" fill="none" stroke="#58595b" stroke-width="9.0" stroke-linecap="butt"/>
<path d="M2845.3 1982.7C2846.7 1981.1 2850.7 1976.3 2853.7 1973.5C2856.6 1970.7 2859.5 1967.6 2862.9 1965.8C2866.2 1964 2870 1962.8 2873.6 1962.8C2877.2 1962.8 2881 1964.6 2884.3 1965.8C2887.6 1967.1 2890.2 1969.8 2893.5 1970.4C2896.8 1971.1 2900.9 1970.7 2904.2 1969.7C2907.5 1968.6 2910.3 1965.7 2913.4 1964.3C2916.4 1962.9 2919.9 1961 2922.6 1961.2C2925.3 1961.5 2927.5 1963.3 2929.5 1965.8C2931.4 1968.4 2933.7 1973 2934.1 1976.5C2934.4 1980.1 2933.4 1984.3 2931.8 1987.3C2930.1 1990.2 2926.9 1992.6 2924.1 1994.2C2921.3 1995.7 2918 1995.3 2914.9 1996.4C2911.9 1997.6 2908.8 1999.1 2905.7 2001C2902.7 2003 2899.6 2005.8 2896.5 2007.9C2893.5 2010.1 2890.7 2012.7 2887.4 2014.1C2884 2015.5 2880.2 2016.5 2876.6 2016.4C2873.1 2016.2 2869.2 2014.1 2865.9 2013.3C2862.6 2012.5 2859.8 2011.2 2856.7 2011.8C2853.7 2012.3 2850.1 2014.1 2847.6 2016.4C2845 2018.6 2843.3 2022.5 2841.4 2025.5C2839.5 2028.6 2837 2033.2 2836.1 2034.7" fill="none" stroke="#d8819d" stroke-width="9.0" stroke-linecap="round" stroke-linejoin="round"/>
<path d="M2929.5 1965.8C2931.4 1968.4 2933.7 1973 2934.1 1976.5C2934.4 1980.1 2933.4 1984.3 2931.8 1987.3C2930.1 1990.2 2926.9 1992.6 2924.1 1994.2C2921.3 1995.7 2918 1995.3 2914.9 1996.4" fill="none" stroke="#58595b" stroke-width="9.0" stroke-linecap="butt"/>
<path d="M2844.5 2056.9C2845.3 2055.3 2847 2050.2 2849.1 2047C2851.1 2043.8 2853.7 2040.2 2856.7 2037.8C2859.8 2035.4 2863.9 2033.1 2867.5 2032.4C2871 2031.8 2874.6 2033.6 2878.2 2034C2881.7 2034.3 2885.3 2035.4 2888.9 2034.7C2892.5 2034.1 2896.3 2032.2 2899.6 2030.1C2902.9 2028.1 2906 2024.3 2908.8 2022.5C2911.6 2020.7 2913.9 2019.2 2916.4 2019.4C2919 2019.7 2921.3 2022.7 2924.1 2024C2926.9 2025.3 2930.2 2027.2 2933.3 2027.1C2936.4 2026.9 2939.5 2025.4 2942.5 2023.2C2945.4 2021.1 2948.9 2017.2 2950.9 2014.1C2952.9 2010.9 2954.2 2007.8 2954.7 2004.1C2955.2 2000.4 2953.7 1995.9 2954 1991.9C2954.2 1987.8 2954.6 1982.8 2956.3 1979.6C2957.9 1976.4 2960.8 1974.2 2963.9 1972.7C2967 1971.2 2971.1 1971.2 2974.6 1970.4C2978.2 1969.7 2982.3 1969.7 2985.3 1968.1C2988.4 1966.6 2991.3 1963.9 2993 1961.2C2994.7 1958.6 2994.5 1955.2 2995.3 1952.1C2996.1 1948.9 2997.2 1943.8 2997.6 1942.1" fill="none" stroke="#d8819d" stroke-width="9.0" stroke-linecap="round" stroke-linejoin="round"/>
<path d="M2924.1 2024C2926.9 2025.3 2930.2 2027.2 2933.3 2027.1C2936.4 2026.9 2939.5 2025.4 2942.5 2023.2C2945.4 2021.1 2948.9 2017.2 2950.9 2014.1" fill="none" stroke="#58595b" stroke-width="9.0" stroke-linecap="butt"/>
<path d="M2965.4 2023.2C2965.8 2021.3 2967.1 2015.7 2967.7 2011.8C2968.4 2007.8 2968.1 2003.1 2969.3 1999.5C2970.4 1995.9 2971.9 1992.5 2974.6 1990.3C2977.3 1988.2 2981.8 1987.5 2985.3 1986.5C2988.9 1985.5 2992.7 1985.6 2996.1 1984.2C2999.4 1982.8 3002.9 1980.6 3005.2 1978.1C3007.5 1975.5 3008.4 1971.7 3009.8 1968.9C3011.2 1966.1 3011.2 1962.8 3013.7 1961.2C3016.1 1959.7 3021.2 1958.9 3024.4 1959.7C3027.6 1960.5 3030.6 1963 3032.8 1965.8C3035 1968.6 3036.9 1973.2 3037.4 1976.5C3037.9 1979.9 3037 1983.1 3035.9 1985.7C3034.7 1988.4 3032.5 1990.3 3030.5 1992.6C3028.5 1994.9 3025.4 1996.8 3023.6 1999.5C3021.8 2002.2 3020.8 2005.6 3019.8 2008.7C3018.8 2011.8 3019.1 2015.2 3017.5 2017.9C3015.8 2020.6 3012.9 2023.1 3009.8 2024.8C3006.8 2026.4 3002.7 2027.3 2999.1 2027.8C2995.5 2028.3 2991.7 2027.2 2988.4 2027.8C2985.1 2028.5 2981.8 2029.5 2979.2 2031.7C2976.7 2033.8 2974.5 2037.5 2973.1 2040.8C2971.7 2044.2 2971.4 2048.5 2970.8 2051.6C2970.2 2054.6 2969.5 2057.9 2969.3 2059.2" fill="none" stroke="#d8819d" stroke-width="9.0" stroke-linecap="round" stroke-linejoin="round"/>
<path d="M3024.4 1959.7C3027.6 1960.5 3030.6 1963 3032.8 1965.8C3035 1968.6 3036.9 1973.2 3037.4 1976.5C3037.9 1979.9 3037 1983.1 3035.9 1985.7C3034.7 1988.4 3032.5 1990.3 3030.5 1992.6" fill="none" stroke="#58595b" stroke-width="9.0" stroke-linecap="butt"/>
<path d="M2797.1 1769.3C2795.3 1769.8 2789.8 1770.3 2786.6 1772.1C2783.4 1773.8 2780.8 1777.2 2777.8 1779.7C2774.9 1782.3 2772.2 1785.8 2769.1 1787.4C2765.9 1789.1 2762.5 1789.8 2759.2 1789.9C2755.9 1789.9 2752.6 1789.2 2749.3 1788C2746 1786.8 2742.5 1784.1 2739.4 1782.5C2736.3 1780.8 2733.5 1779 2730.6 1778.1C2727.7 1777.2 2724.7 1776.8 2721.8 1777C2718.9 1777.2 2715.8 1777.9 2713 1779.2C2710.3 1780.5 2707.9 1782.6 2705.3 1784.7C2702.8 1786.8 2700.2 1789.8 2697.6 1791.8C2695.1 1793.8 2692.2 1795.7 2689.9 1796.8C2687.6 1797.9 2684.9 1798.1 2683.9 1798.4" fill="none" stroke="#6b84c4" stroke-width="8.5" stroke-linecap="round" stroke-linejoin="round"/>
<path d="M2974.9 1842.1C2973.5 1841.5 2969.7 1839.3 2966.5 1838.3C2963.3 1837.3 2959.4 1836.7 2955.8 1836C2952.2 1835.3 2948.1 1835.4 2945.1 1834.1C2942 1832.9 2939.6 1830.8 2937.4 1828.3C2935.3 1825.8 2933.3 1822.5 2932.1 1819.1C2930.8 1815.8 2930.4 1812 2929.8 1808.4C2929.1 1804.9 2929.5 1801 2928.2 1797.7C2927 1794.4 2924.7 1791 2922.1 1788.5C2919.6 1786.1 2916.3 1784.4 2912.9 1783.2C2909.6 1781.9 2905.8 1781.7 2902.2 1781.2C2898.6 1780.7 2894.7 1781.1 2891.5 1780.1C2888.3 1779.2 2884.5 1776.3 2883.1 1775.5" fill="none" stroke="#6b84c4" stroke-width="8.5" stroke-linecap="round" stroke-linejoin="round"/>
<path d="M2926.9 1915C2928.6 1915.5 2933 1917.6 2936.7 1917.7C2940.4 1917.7 2945 1915.7 2949.1 1915.4C2953.3 1915.1 2957.7 1914.8 2961.5 1915.9C2965.4 1917 2969.2 1919.3 2972.2 1922.1C2975.1 1924.9 2977.1 1929.2 2979.3 1932.8C2981.5 1936.3 2982.8 1940.3 2985.5 1943.4C2988.2 1946.5 2991.6 1949.6 2995.2 1951.4C2998.9 1953.2 3003.5 1953.9 3007.7 1954.1C3011.8 1954.2 3016.5 1952.4 3020.1 1952.3C3023.6 1952.1 3026.4 1952.6 3029 1953.2C3031.5 1953.8 3034.1 1955.4 3035.2 1955.8" fill="none" stroke="#6b84c4" stroke-width="8.5" stroke-linecap="round" stroke-linejoin="round"/>
<path d="M2673.7 2025C2673.5 2022.7 2672.2 2015.6 2672.3 2010.8C2672.4 2006.1 2674.4 2001.1 2674.1 1996.6C2673.8 1992.2 2672.9 1987.8 2670.5 1984.2C2668.2 1980.7 2664 1977.9 2659.9 1975.4C2655.7 1972.8 2649.7 1971.8 2645.7 1969.1C2641.7 1966.5 2638 1963.1 2635.9 1959.4C2633.9 1955.7 2633.4 1951.4 2633.3 1947C2633.1 1942.5 2634.9 1936.6 2635 1932.8C2635.2 1928.9 2634.7 1926.4 2634.2 1923.9C2633.6 1921.4 2631.9 1918.7 2631.5 1917.7" fill="none" stroke="#6b84c4" stroke-width="8.5" stroke-linecap="round" stroke-linejoin="round"/>
<path d="M2791.5 2080C2791.5 2078.3 2792 2072.9 2791.2 2069.4C2790.4 2065.8 2788.1 2062.6 2786.8 2058.7C2785.4 2054.9 2783.4 2050.5 2783.2 2046.3C2783.1 2042.2 2783.9 2037.5 2785.9 2033.9C2787.8 2030.4 2791.6 2028 2794.7 2025C2797.8 2022.1 2801.8 2019.7 2804.5 2016.2C2807.2 2012.6 2809.8 2008.2 2810.7 2003.7C2811.6 1999.3 2810.7 1994 2809.8 1989.5C2808.9 1985.1 2806.5 1981.1 2805.4 1977.1C2804.3 1973.1 2803.6 1967.5 2803.3 1965.6" fill="none" stroke="#6b84c4" stroke-width="8.5" stroke-linecap="round" stroke-linejoin="round"/>
<path d="M2885.7 2113.5C2887.4 2112.6 2892.1 2110.7 2895.5 2108.2C2898.9 2105.7 2902.3 2100.8 2906.1 2098.4C2910 2096.1 2914.4 2094.3 2918.6 2094C2922.7 2093.7 2926.8 2095 2931 2096.7C2935.1 2098.3 2939.3 2102 2943.4 2103.8C2947.6 2105.5 2951.7 2107.3 2955.8 2107.3C2960 2107.3 2964.4 2105.8 2968.3 2103.8C2972.1 2101.7 2975.6 2097.4 2978.9 2094.9C2982.2 2092.4 2985 2090 2987.8 2088.7C2990.6 2087.4 2994.4 2087.5 2995.8 2087.3" fill="none" stroke="#6b84c4" stroke-width="8.5" stroke-linecap="round" stroke-linejoin="round"/>
<path d="M2749.4 1976.6C2747.8 1974.2 2742.9 1967.2 2740 1962.5C2737.1 1957.8 2734 1953.4 2732.2 1948.4C2730.4 1943.5 2728.8 1938 2729.1 1932.8C2729.3 1927.6 2732 1922.1 2733.8 1917.2C2735.5 1912.2 2738.9 1907.8 2739.4 1903.1C2739.9 1898.4 2738.9 1893.2 2736.9 1889.1C2734.9 1884.9 2730.2 1881.1 2727.5 1878.1C2724.8 1875.2 2722.2 1873.1 2720.6 1871.2C2719.1 1869.4 2718.5 1867.9 2718.1 1867.2" fill="none" stroke="#6b84c4" stroke-width="8.5" stroke-linecap="round" stroke-linejoin="round"/>
<circle cx="2726.6" cy="1809.4" r="19.6" fill="url(#sTea)" stroke="#000" stroke-width="4.4"/>
<circle cx="2900" cy="1815" r="19.6" fill="url(#sTea)" stroke="#000" stroke-width="4.4"/>
<circle cx="2707.8" cy="1906.9" r="19.6" fill="url(#sTea)" stroke="#000" stroke-width="4.4"/>
<circle cx="2663.4" cy="1943.1" r="19.6" fill="url(#sTea)" stroke="#000" stroke-width="4.4"/>
<circle cx="3009.4" cy="1922.5" r="19.6" fill="url(#sTea)" stroke="#000" stroke-width="4.4"/>
<circle cx="2818.1" cy="2048.4" r="19.6" fill="url(#sTea)" stroke="#000" stroke-width="4.4"/>
<circle cx="2957.8" cy="2077.2" r="19.6" fill="url(#sTea)" stroke="#000" stroke-width="4.4"/>
<circle cx="2827.5" cy="1768.2" r="29.2" fill="url(#sOra)" stroke="#000" stroke-width="4.4"/>
<circle cx="2900.4" cy="1898.8" r="29.2" fill="url(#sOra)" stroke="#000" stroke-width="4.4"/>
<circle cx="2691.5" cy="2050.2" r="29.2" fill="url(#sOra)" stroke="#000" stroke-width="4.4"/>
<circle cx="2782.3" cy="2109.3" r="29.2" fill="url(#sOra)" stroke="#000" stroke-width="4.4"/>
<path d="M2964.1 1866.5Q2961.2 1861.9 2964.7 1857.6L2984.1 1834.6Q2987.6 1830.3 2992.7 1832.4L3020.7 1843.7Q3025.8 1845.8 3025.4 1851.2L3023.3 1881.3Q3022.9 1886.8 3017.6 1888.1L2988.3 1895.4Q2983 1896.8 2980.1 1892.1Z" fill="url(#sMau)" stroke="#000" stroke-width="4.4"/>
<path d="M2824.5 2125.1Q2820.6 2121.2 2823.1 2116.3L2836.8 2089.4Q2839.3 2084.5 2844.7 2085.4L2874.5 2090.1Q2879.9 2091 2880.8 2096.4L2885.5 2126.2Q2886.4 2131.6 2881.5 2134.1L2854.6 2147.8Q2849.7 2150.3 2845.8 2146.4Z" fill="url(#sMau)" stroke="#000" stroke-width="4.4"/>
<path d="M2785.3 2003.1Q2788.2 2007.9 2784.6 2012L2764.8 2034.8Q2761.2 2038.9 2756.1 2036.8L2728.4 2025Q2723.3 2022.8 2723.8 2017.4L2726.4 1987.3Q2726.9 1981.9 2732.3 1980.6L2761.6 1973.8Q2767 1972.6 2769.8 1977.3Z" fill="url(#sMau)" stroke="#000" stroke-width="4.4"/>
</g>
</svg></body></html>
